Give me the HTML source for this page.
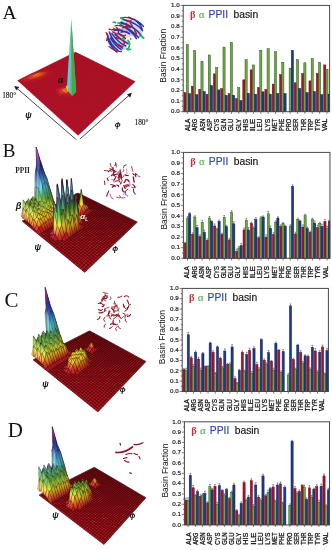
<!DOCTYPE html>
<html><head><meta charset="utf-8"><title>Figure</title>
<style>html,body{margin:0;padding:0;background:#fff}svg{display:block}</style></head>
<body>
<svg width="332" height="550" viewBox="0 0 332 550" font-family="Liberation Sans, sans-serif">
<rect width="332" height="550" fill="#ffffff"/>
<g style="will-change:transform">
<defs><linearGradient id="a1" gradientUnits="userSpaceOnUse" x1="0" y1="72.3" x2="0" y2="72.8"><stop offset="0.00" stop-color="#cf2e33"/><stop offset="1.00" stop-color="#f59f34"/></linearGradient><linearGradient id="a2" gradientUnits="userSpaceOnUse" x1="0" y1="87.2" x2="0" y2="88.1"><stop offset="0.00" stop-color="#bf1b25"/><stop offset="1.00" stop-color="#f28623"/></linearGradient><linearGradient id="a3" gradientUnits="userSpaceOnUse" x1="0" y1="91.8" x2="0" y2="90.3"><stop offset="0.00" stop-color="#b21b1e"/><stop offset="1.00" stop-color="#d2831f"/></linearGradient><linearGradient id="a4" gradientUnits="userSpaceOnUse" x1="0" y1="94.3" x2="0" y2="90.2"><stop offset="0.00" stop-color="#ce2227"/><stop offset="1.00" stop-color="#f5a128"/></linearGradient><linearGradient id="a5" gradientUnits="userSpaceOnUse" x1="0" y1="94.4" x2="0" y2="90.3"><stop offset="0.00" stop-color="#c11c22"/><stop offset="1.00" stop-color="#ea9222"/></linearGradient></defs>
<polygon points="78.1,135.5 135.4,81.6 75.5,52.0 17.5,80.4" fill="#b01228"/>
<path d="M78.1 135.5L17.5 80.4M78.1 135.5L135.4 81.6M80.4 133.4L19.6 79.4M75.7 133.3L133.2 80.5M82.6 131.3L21.6 78.4M73.4 131.2L131.1 79.5M84.7 129.3L23.6 77.4M71.1 129.1L129.0 78.5M86.8 127.3L25.6 76.4M68.9 127.1L127.0 77.4M88.9 125.3L27.6 75.5M66.7 125.1L125.0 76.4M90.9 123.5L29.5 74.5M64.5 123.2L123.0 75.5M92.9 121.6L31.4 73.6M62.5 121.3L121.0 74.5M94.8 119.8L33.2 72.7M60.4 119.4L119.1 73.6M96.7 118.0L35.1 71.8M58.4 117.6L117.2 72.6M98.5 116.3L36.9 70.9M56.5 115.9L115.4 71.7M100.3 114.6L38.6 70.0M54.6 114.1L113.5 70.8M102.1 113.0L40.4 69.2M52.7 112.4L111.7 69.9M103.8 111.3L42.1 68.3M50.9 110.8L110.0 69.0M105.5 109.7L43.8 67.5M49.1 109.1L108.2 68.2M107.1 108.2L45.5 66.7M47.4 107.6L106.5 67.3M108.8 106.7L47.1 65.9M45.7 106.0L104.8 66.5M110.3 105.2L48.7 65.1M44.0 104.5L103.1 65.6M111.9 103.7L50.3 64.3M42.3 103.0L101.5 64.8M113.4 102.3L51.9 63.6M40.7 101.5L99.8 64.0M114.9 100.9L53.5 62.8M39.1 100.1L98.2 63.2M116.4 99.5L55.0 62.0M37.6 98.7L96.7 62.5M117.8 98.1L56.5 61.3M36.1 97.3L95.1 61.7M119.2 96.8L58.0 60.6M34.6 95.9L93.6 60.9M120.6 95.5L59.4 59.9M33.1 94.6L92.1 60.2M122.0 94.2L60.9 59.2M31.7 93.3L90.6 59.5M123.3 93.0L62.3 58.5M30.3 92.0L89.1 58.7M124.6 91.7L63.7 57.8M28.9 90.8L87.7 58.0M125.9 90.5L65.1 57.1M27.5 89.5L86.2 57.3M127.2 89.3L66.4 56.4M26.2 88.3L84.8 56.6M128.4 88.2L67.8 55.8M24.9 87.1L83.5 55.9M129.6 87.0L69.1 55.1M23.6 85.9L82.1 55.3M130.8 85.9L70.4 54.5M22.3 84.8L80.7 54.6M132.0 84.8L71.7 53.9M21.1 83.7L79.4 53.9M133.1 83.7L73.0 53.2M19.9 82.6L78.1 53.3M134.3 82.6L74.3 52.6M18.7 81.5L76.8 52.6M135.4 81.6L75.5 52.0M17.5 80.4L75.5 52.0" stroke="#960e20" stroke-width="0.20" fill="none"/>
<g stroke="#8a1020" stroke-width="0.06" stroke-linejoin="round"><polygon points="48.9,70.8 50.6,70.2 49.3,69.3 47.6,70.1" fill="#b31726"/>
<polygon points="44.2,71.5 45.9,71.0 44.6,70.1 42.9,71.0" fill="#b51825"/>
<polygon points="47.2,71.6 48.9,70.8 47.6,70.1 45.9,71.0" fill="#bb222d"/>
<polygon points="50.3,71.7 52.0,71.1 50.6,70.2 48.9,70.8" fill="#b01724"/>
<polygon points="39.4,72.3 41.2,71.9 39.9,70.9 38.1,71.8" fill="#b61825"/>
<polygon points="42.4,71.9 44.2,71.5 42.9,71.0 41.2,71.9" fill="#c52730"/>
<polygon points="45.5,71.8 47.2,71.6 45.9,71.0 44.2,71.5" fill="#c71d23"/>
<polygon points="48.6,72.3 50.3,71.7 48.9,70.8 47.2,71.6" fill="#c31c24"/>
<polygon points="51.6,72.6 53.3,72.0 52.0,71.1 50.3,71.7" fill="#b01724"/>
<polygon points="37.6,73.1 39.4,72.3 38.1,71.8 36.3,72.7" fill="#c22832"/>
<polygon points="40.7,72.6 42.4,71.9 41.2,71.9 39.4,72.3" fill="#d52b2d"/>
<polygon points="43.7,72.7 45.5,71.8 44.2,71.5 42.4,71.9" fill="#dc3724"/>
<polygon points="46.8,73.1 48.6,72.3 47.2,71.6 45.5,71.8" fill="#ca2020"/>
<polygon points="49.9,73.5 51.6,72.6 50.3,71.7 48.6,72.3" fill="#bc1b23"/>
<polygon points="53.0,73.8 54.7,72.9 53.3,72.0 51.6,72.6" fill="#ac1625"/>
<polygon points="32.6,74.2 34.5,73.6 33.2,72.7 31.4,73.6" fill="#b41725"/>
<polygon points="35.7,73.5 37.6,73.1 36.3,72.7 34.5,73.6" fill="#cb2c32"/>
<polygon points="38.8,72.8 40.7,72.6 39.4,72.3 37.6,73.1" fill="url(#a1)"/>
<polygon points="42.0,73.2 43.7,72.7 42.4,71.9 40.7,72.6" fill="#e35021"/>
<polygon points="45.1,73.7 46.8,73.1 45.5,71.8 43.7,72.7" fill="#d43b1f"/>
<polygon points="48.2,74.3 49.9,73.5 48.6,72.3 46.8,73.1" fill="#c31d21"/>
<polygon points="51.3,74.7 53.0,73.8 51.6,72.6 49.9,73.5" fill="#b11724"/>
<polygon points="30.7,75.2 32.6,74.2 31.4,73.6 29.5,74.5" fill="#bc242f"/>
<polygon points="33.9,74.6 35.7,73.5 34.5,73.6 32.6,74.2" fill="#d53336"/>
<polygon points="37.0,73.9 38.8,72.8 37.6,73.1 35.7,73.5" fill="#ed6f34"/>
<polygon points="40.1,73.9 42.0,73.2 40.7,72.6 38.8,72.8" fill="#e4721f"/>
<polygon points="43.3,74.8 45.1,73.7 43.7,72.7 42.0,73.2" fill="#d8491f"/>
<polygon points="46.4,75.3 48.2,74.3 46.8,73.1 45.1,73.7" fill="#c51e20"/>
<polygon points="49.6,75.7 51.3,74.7 49.9,73.5 48.2,74.3" fill="#af1823"/>
<polygon points="28.8,76.0 30.7,75.2 29.5,74.5 27.6,75.5" fill="#bd212d"/>
<polygon points="32.0,75.3 33.9,74.6 32.6,74.2 30.7,75.2" fill="#d93533"/>
<polygon points="35.1,74.5 37.0,73.9 35.7,73.5 33.9,74.6" fill="#f17d36"/>
<polygon points="38.3,74.6 40.1,73.9 38.8,72.8 37.0,73.9" fill="#f49424"/>
<polygon points="41.5,75.3 43.3,74.8 42.0,73.2 40.1,73.9" fill="#d45a1d"/>
<polygon points="44.6,76.1 46.4,75.3 45.1,73.7 43.3,74.8" fill="#c92420"/>
<polygon points="47.8,76.6 49.6,75.7 48.2,74.3 46.4,75.3" fill="#b21823"/>
<polygon points="26.8,77.1 28.8,76.0 27.6,75.5 25.6,76.4" fill="#be2631"/>
<polygon points="30.0,76.5 32.0,75.3 30.7,75.2 28.8,76.0" fill="#db3c36"/>
<polygon points="33.2,76.2 35.1,74.5 33.9,74.6 32.0,75.3" fill="#ef7737"/>
<polygon points="36.4,76.2 38.3,74.6 37.0,73.9 35.1,74.5" fill="#f18f23"/>
<polygon points="39.6,76.4 41.5,75.3 40.1,73.9 38.3,74.6" fill="#dc6e1e"/>
<polygon points="42.8,77.2 44.6,76.1 43.3,74.8 41.5,75.3" fill="#c42a1f"/>
<polygon points="46.0,77.6 47.8,76.6 46.4,75.3 44.6,76.1" fill="#b01823"/>
<polygon points="24.8,78.1 26.8,77.1 25.6,76.4 23.6,77.4" fill="#bb222e"/>
<polygon points="28.1,77.7 30.0,76.5 28.8,76.0 26.8,77.1" fill="#d63233"/>
<polygon points="31.3,76.8 33.2,76.2 32.0,75.3 30.0,76.5" fill="#eb642a"/>
<polygon points="34.5,77.2 36.4,76.2 35.1,74.5 33.2,76.2" fill="#ef7522"/>
<polygon points="37.7,77.5 39.6,76.4 38.3,74.6 36.4,76.2" fill="#e6641f"/>
<polygon points="40.9,78.1 42.8,77.2 41.5,75.3 39.6,76.4" fill="#c72e1f"/>
<polygon points="44.1,78.6 46.0,77.6 44.6,76.1 42.8,77.2" fill="#b21923"/>
<polygon points="22.8,79.4 24.8,78.1 23.6,77.4 21.6,78.4" fill="#b6202e"/>
<polygon points="26.1,78.9 28.1,77.7 26.8,77.1 24.8,78.1" fill="#cc292f"/>
<polygon points="29.3,78.7 31.3,76.8 30.0,76.5 28.1,77.7" fill="#e45839"/>
<polygon points="32.6,78.7 34.5,77.2 33.2,76.2 31.3,76.8" fill="#df581f"/>
<polygon points="35.8,79.0 37.7,77.5 36.4,76.2 34.5,77.2" fill="#da4520"/>
<polygon points="39.0,79.6 40.9,78.1 39.6,76.4 37.7,77.5" fill="#c51e20"/>
<polygon points="42.3,79.6 44.1,78.6 42.8,77.2 40.9,78.1" fill="#b11823"/>
<polygon points="24.0,80.1 26.1,78.9 24.8,78.1 22.8,79.4" fill="#c42931"/>
<polygon points="27.3,79.8 29.3,78.7 28.1,77.7 26.1,78.9" fill="#d52829"/>
<polygon points="30.6,80.0 32.6,78.7 31.3,76.8 29.3,78.7" fill="#de3f24"/>
<polygon points="33.9,80.1 35.8,79.0 34.5,77.2 32.6,78.7" fill="#cf2a21"/>
<polygon points="37.1,80.6 39.0,79.6 37.7,77.5 35.8,79.0" fill="#b81a22"/>
<polygon points="40.4,80.6 42.3,79.6 40.9,78.1 39.0,79.6" fill="#b51825"/>
<polygon points="22.0,81.5 24.0,80.1 22.8,79.4 20.8,80.4" fill="#b92430"/>
<polygon points="25.3,81.2 27.3,79.8 26.1,78.9 24.0,80.1" fill="#cc252a"/>
<polygon points="28.6,81.2 30.6,80.0 29.3,78.7 27.3,79.8" fill="#cd1f22"/>
<polygon points="31.9,81.6 33.9,80.1 32.6,78.7 30.6,80.0" fill="#c61d22"/>
<polygon points="35.2,81.6 37.1,80.6 35.8,79.0 33.9,80.1" fill="#b21923"/>
<polygon points="23.2,82.6 25.3,81.2 24.0,80.1 22.0,81.5" fill="#bc222d"/>
<polygon points="26.5,82.6 28.6,81.2 27.3,79.8 25.3,81.2" fill="#c11c25"/>
<polygon points="29.9,82.7 31.9,81.6 30.6,80.0 28.6,81.2" fill="#b41823"/>
<polygon points="33.2,82.7 35.2,81.6 33.9,80.1 31.9,81.6" fill="#b51825"/>
<polygon points="24.5,83.7 26.5,82.6 25.3,81.2 23.2,82.6" fill="#b31726"/>
<polygon points="27.8,83.7 29.9,82.7 28.6,81.2 26.5,82.6" fill="#b41725"/>
<polygon points="66.3,87.2 68.0,86.4 66.4,85.2 64.6,86.4" fill="#b31726"/>
<polygon points="61.0,88.3 62.8,87.5 61.2,86.3 59.4,87.5" fill="#b31726"/>
<polygon points="64.5,88.0 66.3,87.2 64.6,86.4 62.8,87.5" fill="#be222d"/>
<polygon points="67.9,88.0 69.7,87.6 68.0,86.4 66.3,87.2" fill="#b61924"/>
<polygon points="59.1,89.5 61.0,88.3 59.4,87.5 57.5,88.6" fill="#bb212d"/>
<polygon points="62.6,88.7 64.5,88.0 62.8,87.5 61.0,88.3" fill="#ce282d"/>
<polygon points="66.1,88.1 67.9,88.0 66.3,87.2 64.5,88.0" fill="url(#a2)"/>
<polygon points="69.7,88.6 71.4,88.8 69.7,87.6 67.9,88.0" fill="#b91b20"/>
<polygon points="73.2,89.6 74.9,88.8 73.2,87.6 71.4,88.8" fill="#b41725"/>
<polygon points="57.2,91.0 59.1,89.5 57.5,88.6 55.6,89.8" fill="#b7212e"/>
<polygon points="60.8,90.3 62.6,88.7 61.0,88.3 59.1,89.5" fill="#d53336"/>
<polygon points="64.3,89.3 66.1,88.1 64.5,88.0 62.6,88.7" fill="#ec6931"/>
<polygon points="67.9,89.4 69.7,88.6 67.9,88.0 66.1,88.1" fill="#dc581e"/>
<polygon points="71.4,90.4 73.2,89.6 71.4,88.8 69.7,88.6" fill="#bb1c1f"/>
<polygon points="74.9,91.2 76.7,90.0 74.9,88.8 73.2,89.6" fill="#ac1623"/>
<polygon points="58.9,92.0 60.8,90.3 59.1,89.5 57.2,91.0" fill="#c72d36"/>
<polygon points="62.4,90.8 64.3,89.3 62.6,88.7 60.8,90.3" fill="#ea693b"/>
<polygon points="66.0,90.2 67.9,89.4 66.1,88.1 64.3,89.3" fill="#ee8622"/>
<polygon points="69.6,90.3 71.4,90.4 69.7,88.6 67.9,89.4" fill="#d5591d"/>
<polygon points="73.2,91.8 74.9,91.2 73.2,89.6 71.4,90.4" fill="#b51a20"/>
<polygon points="56.9,93.6 58.9,92.0 57.2,91.0 55.3,92.3" fill="#b6202f"/>
<polygon points="60.5,93.2 62.4,90.8 60.8,90.3 58.9,92.0" fill="#da3d3c"/>
<polygon points="64.2,92.8 66.0,90.2 64.3,89.3 62.4,90.8" fill="#ef7830"/>
<polygon points="67.8,92.6 69.6,90.3 67.9,89.4 66.0,90.2" fill="#ee7921"/>
<polygon points="71.4,93.0 73.2,91.8 71.4,90.4 69.6,90.3" fill="url(#a3)"/>
<polygon points="75.0,93.7 76.8,92.5 74.9,91.2 73.2,91.8" fill="#aa1622"/>
<polygon points="58.6,94.9 60.5,93.2 58.9,92.0 56.9,93.6" fill="#bc242f"/>
<polygon points="62.3,94.5 64.2,92.8 62.4,90.8 60.5,93.2" fill="#d8322d"/>
<polygon points="65.9,94.3 67.8,92.6 66.0,90.2 64.2,92.8" fill="url(#a4)"/>
<polygon points="69.5,94.4 71.4,93.0 69.6,90.3 67.8,92.6" fill="url(#a5)"/>
<polygon points="73.2,95.0 75.0,93.7 73.2,91.8 71.4,93.0" fill="#b11821"/>
<polygon points="60.3,96.2 62.3,94.5 60.5,93.2 58.6,94.9" fill="#bc232f"/>
<polygon points="64.0,96.2 65.9,94.3 64.2,92.8 62.3,94.5" fill="#c82128"/>
<polygon points="67.7,96.3 69.5,94.4 67.8,92.6 65.9,94.3" fill="#c91d23"/>
<polygon points="71.4,96.3 73.2,95.0 71.4,93.0 69.5,94.4" fill="#b31822"/>
<polygon points="62.1,97.6 64.0,96.2 62.3,94.5 60.3,96.2" fill="#b41725"/>
<polygon points="65.8,97.6 67.7,96.3 65.9,94.3 64.0,96.2" fill="#b71825"/>
<polygon points="69.5,97.6 71.4,96.3 69.5,94.4 67.7,96.3" fill="#b61825"/></g>
<polygon points="71.3,19 66.9,87.6 70.8,94.5" fill="#62c4dc"/>
<polygon points="71.3,19 70.8,94.5 72.1,95.9 76.2,91.8" fill="#52bc56"/>
<polygon points="71.3,19 72.1,95.9 76.2,91.8" fill="#46a84e"/>
<polygon points="65.6,86.6 67.4,85.2 68.2,91.8" fill="#e8d030"/>
<defs><linearGradient id="b1" gradientUnits="userSpaceOnUse" x1="0" y1="207.1" x2="0" y2="201.5"><stop offset="0.00" stop-color="#a41524"/><stop offset="0.50" stop-color="#d6481f"/><stop offset="1.00" stop-color="#e8ad25"/></linearGradient><linearGradient id="b2" gradientUnits="userSpaceOnUse" x1="0" y1="205.6" x2="0" y2="188.8"><stop offset="0.00" stop-color="#a6181d"/><stop offset="0.20" stop-color="#c6741d"/><stop offset="0.40" stop-color="#ccbd26"/><stop offset="0.60" stop-color="#95b72c"/><stop offset="0.80" stop-color="#5ca532"/><stop offset="1.00" stop-color="#3b9e56"/></linearGradient><linearGradient id="b3" gradientUnits="userSpaceOnUse" x1="0" y1="208.1" x2="0" y2="199.9"><stop offset="0.00" stop-color="#8e121f"/><stop offset="0.33" stop-color="#b6381b"/><stop offset="0.67" stop-color="#c88b1e"/><stop offset="1.00" stop-color="#cbbf27"/></linearGradient><linearGradient id="b4" gradientUnits="userSpaceOnUse" x1="0" y1="207.4" x2="0" y2="204.9"><stop offset="0.00" stop-color="#b52837"/><stop offset="0.50" stop-color="#db3c33"/><stop offset="1.00" stop-color="#f18232"/></linearGradient><linearGradient id="b5" gradientUnits="userSpaceOnUse" x1="0" y1="207.5" x2="0" y2="204.8"><stop offset="0.00" stop-color="#b11b2a"/><stop offset="0.50" stop-color="#da3226"/><stop offset="1.00" stop-color="#f07e25"/></linearGradient><linearGradient id="b6" gradientUnits="userSpaceOnUse" x1="0" y1="195.2" x2="0" y2="175.9"><stop offset="0.00" stop-color="#aad433"/><stop offset="0.20" stop-color="#61bc3b"/><stop offset="0.40" stop-color="#44ba7d"/><stop offset="0.60" stop-color="#4dc5c8"/><stop offset="0.80" stop-color="#4fbee1"/><stop offset="1.00" stop-color="#42a6de"/></linearGradient><linearGradient id="b7" gradientUnits="userSpaceOnUse" x1="0" y1="201.5" x2="0" y2="186.3"><stop offset="0.00" stop-color="#c3911f"/><stop offset="0.25" stop-color="#acb628"/><stop offset="0.50" stop-color="#6da72e"/><stop offset="0.75" stop-color="#3a9742"/><stop offset="1.00" stop-color="#399f90"/></linearGradient><linearGradient id="b8" gradientUnits="userSpaceOnUse" x1="0" y1="209.1" x2="0" y2="199.9"><stop offset="0.00" stop-color="#8b111e"/><stop offset="0.33" stop-color="#b2371a"/><stop offset="0.67" stop-color="#c4871d"/><stop offset="1.00" stop-color="#c6bb26"/></linearGradient><linearGradient id="b9" gradientUnits="userSpaceOnUse" x1="0" y1="208.4" x2="0" y2="202.8"><stop offset="0.00" stop-color="#bc3b48"/><stop offset="0.50" stop-color="#ed7743"/><stop offset="1.00" stop-color="#fad44b"/></linearGradient><linearGradient id="b10" gradientUnits="userSpaceOnUse" x1="0" y1="206.6" x2="0" y2="202.8"><stop offset="0.00" stop-color="#d32123"/><stop offset="0.50" stop-color="#f17e23"/><stop offset="1.00" stop-color="#f9cc2b"/></linearGradient><linearGradient id="b11" gradientUnits="userSpaceOnUse" x1="0" y1="187.5" x2="0" y2="170.1"><stop offset="0.00" stop-color="#61cd99"/><stop offset="0.20" stop-color="#68d6d6"/><stop offset="0.40" stop-color="#6cd5f1"/><stop offset="0.60" stop-color="#63c0ef"/><stop offset="0.80" stop-color="#579fe5"/><stop offset="1.00" stop-color="#4a79d8"/></linearGradient><linearGradient id="b12" gradientUnits="userSpaceOnUse" x1="0" y1="188.8" x2="0" y2="174.7"><stop offset="0.00" stop-color="#3a9953"/><stop offset="0.25" stop-color="#3ba196"/><stop offset="0.50" stop-color="#45a7bd"/><stop offset="0.75" stop-color="#3c94bb"/><stop offset="1.00" stop-color="#3279b4"/></linearGradient><linearGradient id="b13" gradientUnits="userSpaceOnUse" x1="0" y1="203.2" x2="0" y2="186.3"><stop offset="0.00" stop-color="#c2931e"/><stop offset="0.25" stop-color="#a9b428"/><stop offset="0.50" stop-color="#6ba52d"/><stop offset="0.75" stop-color="#3a9643"/><stop offset="1.00" stop-color="#389e8f"/></linearGradient><linearGradient id="b14" gradientUnits="userSpaceOnUse" x1="0" y1="210.1" x2="0" y2="203.2"><stop offset="0.00" stop-color="#8e121f"/><stop offset="0.50" stop-color="#b9411b"/><stop offset="1.00" stop-color="#c99820"/></linearGradient><linearGradient id="b15" gradientUnits="userSpaceOnUse" x1="0" y1="209.3" x2="0" y2="202.8"><stop offset="0.00" stop-color="#bf4451"/><stop offset="0.50" stop-color="#ee7e4c"/><stop offset="1.00" stop-color="#fad654"/></linearGradient><linearGradient id="b16" gradientUnits="userSpaceOnUse" x1="0" y1="204.9" x2="0" y2="189.5"><stop offset="0.00" stop-color="#f07721"/><stop offset="0.25" stop-color="#fae62f"/><stop offset="0.50" stop-color="#afdf37"/><stop offset="0.75" stop-color="#5fc53f"/><stop offset="1.00" stop-color="#47c590"/></linearGradient><linearGradient id="b17" gradientUnits="userSpaceOnUse" x1="0" y1="209.2" x2="0" y2="205.0"><stop offset="0.00" stop-color="#aa191e"/><stop offset="1.00" stop-color="#d07f1f"/></linearGradient><linearGradient id="b18" gradientUnits="userSpaceOnUse" x1="0" y1="179.6" x2="0" y2="164.1"><stop offset="0.00" stop-color="#74d1f1"/><stop offset="0.25" stop-color="#69bbed"/><stop offset="0.50" stop-color="#5c94e1"/><stop offset="0.75" stop-color="#5577cd"/><stop offset="1.00" stop-color="#5362b3"/></linearGradient><linearGradient id="b19" gradientUnits="userSpaceOnUse" x1="0" y1="175.9" x2="0" y2="161.6"><stop offset="0.00" stop-color="#3b94c6"/><stop offset="0.25" stop-color="#2e6eba"/><stop offset="0.50" stop-color="#254ea9"/><stop offset="0.75" stop-color="#233990"/><stop offset="1.00" stop-color="#342c83"/></linearGradient><linearGradient id="b20" gradientUnits="userSpaceOnUse" x1="0" y1="191.0" x2="0" y2="174.7"><stop offset="0.00" stop-color="#3a974c"/><stop offset="0.25" stop-color="#3a9f92"/><stop offset="0.50" stop-color="#45a6bb"/><stop offset="0.75" stop-color="#3c93b9"/><stop offset="1.00" stop-color="#3177b2"/></linearGradient><linearGradient id="b21" gradientUnits="userSpaceOnUse" x1="0" y1="209.5" x2="0" y2="191.0"><stop offset="0.00" stop-color="#a0171b"/><stop offset="0.20" stop-color="#be6e1b"/><stop offset="0.40" stop-color="#c3b325"/><stop offset="0.60" stop-color="#92b029"/><stop offset="0.80" stop-color="#5da02f"/><stop offset="1.00" stop-color="#3a974c"/></linearGradient><linearGradient id="b22" gradientUnits="userSpaceOnUse" x1="0" y1="212.4" x2="0" y2="206.8"><stop offset="0.00" stop-color="#bc3b48"/><stop offset="0.50" stop-color="#de4d45"/><stop offset="1.00" stop-color="#f28c44"/></linearGradient><linearGradient id="b23" gradientUnits="userSpaceOnUse" x1="0" y1="206.8" x2="0" y2="189.5"><stop offset="0.00" stop-color="#f39552"/><stop offset="0.25" stop-color="#fbeb5d"/><stop offset="0.50" stop-color="#c1e663"/><stop offset="0.75" stop-color="#82d269"/><stop offset="1.00" stop-color="#6fd2a8"/></linearGradient><linearGradient id="b24" gradientUnits="userSpaceOnUse" x1="0" y1="205.0" x2="0" y2="189.5"><stop offset="0.00" stop-color="#c28d1e"/><stop offset="0.25" stop-color="#b5b727"/><stop offset="0.50" stop-color="#7baa2c"/><stop offset="0.75" stop-color="#449832"/><stop offset="1.00" stop-color="#379a70"/></linearGradient><linearGradient id="b25" gradientUnits="userSpaceOnUse" x1="0" y1="181.6" x2="0" y2="164.1"><stop offset="0.00" stop-color="#79d6f2"/><stop offset="0.25" stop-color="#6fc1ef"/><stop offset="0.50" stop-color="#619ae2"/><stop offset="0.75" stop-color="#5a7bcf"/><stop offset="1.00" stop-color="#5766b5"/></linearGradient><linearGradient id="b26" gradientUnits="userSpaceOnUse" x1="0" y1="170.1" x2="0" y2="147.0"><stop offset="0.00" stop-color="#4273d6"/><stop offset="0.17" stop-color="#3f5dbb"/><stop offset="0.33" stop-color="#464aa5"/><stop offset="0.50" stop-color="#7044a5"/><stop offset="0.67" stop-color="#a648b2"/><stop offset="0.83" stop-color="#d955c4"/><stop offset="1.00" stop-color="#f166d2"/></linearGradient><linearGradient id="b27" gradientUnits="userSpaceOnUse" x1="0" y1="178.2" x2="0" y2="161.6"><stop offset="0.00" stop-color="#388db8"/><stop offset="0.25" stop-color="#2d6bad"/><stop offset="0.50" stop-color="#22499f"/><stop offset="0.75" stop-color="#213686"/><stop offset="1.00" stop-color="#302979"/></linearGradient><linearGradient id="b28" gradientUnits="userSpaceOnUse" x1="0" y1="199.5" x2="0" y2="178.2"><stop offset="0.00" stop-color="#93b029"/><stop offset="0.20" stop-color="#579e30"/><stop offset="0.40" stop-color="#39985c"/><stop offset="0.60" stop-color="#3da19d"/><stop offset="0.80" stop-color="#42a1ba"/><stop offset="1.00" stop-color="#388cb8"/></linearGradient><linearGradient id="b29" gradientUnits="userSpaceOnUse" x1="0" y1="209.5" x2="0" y2="199.5"><stop offset="0.00" stop-color="#a1181c"/><stop offset="0.33" stop-color="#bf6e1c"/><stop offset="0.67" stop-color="#c5b424"/><stop offset="1.00" stop-color="#95b22a"/></linearGradient><linearGradient id="b30" gradientUnits="userSpaceOnUse" x1="0" y1="213.5" x2="0" y2="204.7"><stop offset="0.00" stop-color="#bf4451"/><stop offset="0.50" stop-color="#ee7e4c"/><stop offset="1.00" stop-color="#fad654"/></linearGradient><linearGradient id="b31" gradientUnits="userSpaceOnUse" x1="0" y1="208.8" x2="0" y2="189.5"><stop offset="0.00" stop-color="#f07721"/><stop offset="0.25" stop-color="#fae62f"/><stop offset="0.50" stop-color="#afdf37"/><stop offset="0.75" stop-color="#5fc53f"/><stop offset="1.00" stop-color="#47c590"/></linearGradient><linearGradient id="b32" gradientUnits="userSpaceOnUse" x1="0" y1="211.4" x2="0" y2="204.7"><stop offset="0.00" stop-color="#b6201d"/><stop offset="0.50" stop-color="#cd6e1d"/><stop offset="1.00" stop-color="#d4ae24"/></linearGradient><linearGradient id="b33" gradientUnits="userSpaceOnUse" x1="0" y1="197.6" x2="0" y2="172.2"><stop offset="0.00" stop-color="#a7de65"/><stop offset="0.17" stop-color="#72cd73"/><stop offset="0.33" stop-color="#6fd4c1"/><stop offset="0.50" stop-color="#7edff0"/><stop offset="0.67" stop-color="#75cdf1"/><stop offset="0.83" stop-color="#6ab3eb"/><stop offset="1.00" stop-color="#5e8dde"/></linearGradient><linearGradient id="b34" gradientUnits="userSpaceOnUse" x1="0" y1="172.2" x2="0" y2="147.0"><stop offset="0.00" stop-color="#5e8dde"/><stop offset="0.17" stop-color="#5a76c8"/><stop offset="0.33" stop-color="#5a63b1"/><stop offset="0.50" stop-color="#805eb1"/><stop offset="0.67" stop-color="#af60ba"/><stop offset="0.83" stop-color="#dd6bcc"/><stop offset="1.00" stop-color="#f37ad8"/></linearGradient><linearGradient id="b35" gradientUnits="userSpaceOnUse" x1="0" y1="170.9" x2="0" y2="147.0"><stop offset="0.00" stop-color="#234ba0"/><stop offset="0.17" stop-color="#213889"/><stop offset="0.33" stop-color="#2b2979"/><stop offset="0.50" stop-color="#4e2579"/><stop offset="0.67" stop-color="#7d2985"/><stop offset="0.83" stop-color="#a73394"/><stop offset="1.00" stop-color="#bb42a0"/></linearGradient><linearGradient id="b36" gradientUnits="userSpaceOnUse" x1="0" y1="189.7" x2="0" y2="170.9"><stop offset="0.00" stop-color="#379b83"/><stop offset="0.20" stop-color="#42a5af"/><stop offset="0.40" stop-color="#409bba"/><stop offset="0.60" stop-color="#378ab7"/><stop offset="0.80" stop-color="#2c6aad"/><stop offset="1.00" stop-color="#234ba0"/></linearGradient><linearGradient id="b37" gradientUnits="userSpaceOnUse" x1="0" y1="208.0" x2="0" y2="189.7"><stop offset="0.00" stop-color="#bd6c1b"/><stop offset="0.25" stop-color="#bfb925"/><stop offset="0.50" stop-color="#7dab2c"/><stop offset="0.75" stop-color="#3e9533"/><stop offset="1.00" stop-color="#379b83"/></linearGradient><linearGradient id="b38" gradientUnits="userSpaceOnUse" x1="0" y1="212.1" x2="0" y2="208.4"><stop offset="0.00" stop-color="#a9181f"/><stop offset="0.50" stop-color="#c4451c"/><stop offset="1.00" stop-color="#d2861f"/></linearGradient><linearGradient id="b39" gradientUnits="userSpaceOnUse" x1="0" y1="214.6" x2="0" y2="204.7"><stop offset="0.00" stop-color="#bc3b48"/><stop offset="0.50" stop-color="#ed7743"/><stop offset="1.00" stop-color="#fad44b"/></linearGradient><linearGradient id="b40" gradientUnits="userSpaceOnUse" x1="0" y1="214.6" x2="0" y2="204.7"><stop offset="0.00" stop-color="#9e1422"/><stop offset="0.50" stop-color="#d3551d"/><stop offset="1.00" stop-color="#e1b826"/></linearGradient><linearGradient id="b41" gradientUnits="userSpaceOnUse" x1="0" y1="201.8" x2="0" y2="187.4"><stop offset="0.00" stop-color="#c5e660"/><stop offset="0.33" stop-color="#86d366"/><stop offset="0.67" stop-color="#6ed09f"/><stop offset="1.00" stop-color="#76dade"/></linearGradient><linearGradient id="b42" gradientUnits="userSpaceOnUse" x1="0" y1="187.4" x2="0" y2="167.7"><stop offset="0.00" stop-color="#78dbde"/><stop offset="0.20" stop-color="#7ad6f2"/><stop offset="0.40" stop-color="#70c4f0"/><stop offset="0.60" stop-color="#65a4e6"/><stop offset="0.80" stop-color="#5b84da"/><stop offset="1.00" stop-color="#5971c2"/></linearGradient><linearGradient id="b43" gradientUnits="userSpaceOnUse" x1="0" y1="174.3" x2="0" y2="147.0"><stop offset="0.00" stop-color="#5088dd"/><stop offset="0.17" stop-color="#4a6bc6"/><stop offset="0.33" stop-color="#4854aa"/><stop offset="0.50" stop-color="#714faa"/><stop offset="0.67" stop-color="#a551b3"/><stop offset="0.83" stop-color="#da5dc7"/><stop offset="1.00" stop-color="#f26ed4"/></linearGradient><linearGradient id="b44" gradientUnits="userSpaceOnUse" x1="0" y1="183.2" x2="0" y2="163.5"><stop offset="0.00" stop-color="#419cba"/><stop offset="0.20" stop-color="#378ab7"/><stop offset="0.40" stop-color="#2c69ac"/><stop offset="0.60" stop-color="#224a9e"/><stop offset="0.80" stop-color="#213788"/><stop offset="1.00" stop-color="#2b2979"/></linearGradient><linearGradient id="b45" gradientUnits="userSpaceOnUse" x1="0" y1="201.1" x2="0" y2="183.2"><stop offset="0.00" stop-color="#90b02a"/><stop offset="0.25" stop-color="#519c30"/><stop offset="0.50" stop-color="#389967"/><stop offset="0.75" stop-color="#3fa3a5"/><stop offset="1.00" stop-color="#419cba"/></linearGradient><linearGradient id="b46" gradientUnits="userSpaceOnUse" x1="0" y1="208.0" x2="0" y2="201.1"><stop offset="0.00" stop-color="#c36f1c"/><stop offset="0.50" stop-color="#caba26"/><stop offset="1.00" stop-color="#94b62c"/></linearGradient><linearGradient id="b47" gradientUnits="userSpaceOnUse" x1="0" y1="212.1" x2="0" y2="208.4"><stop offset="0.00" stop-color="#a6181e"/><stop offset="0.50" stop-color="#c2441c"/><stop offset="1.00" stop-color="#cf851e"/></linearGradient><linearGradient id="b48" gradientUnits="userSpaceOnUse" x1="0" y1="215.7" x2="0" y2="208.8"><stop offset="0.00" stop-color="#af1626"/><stop offset="0.50" stop-color="#d82c22"/><stop offset="1.00" stop-color="#f07721"/></linearGradient><linearGradient id="b49" gradientUnits="userSpaceOnUse" x1="0" y1="201.8" x2="0" y2="198.1"><stop offset="0.00" stop-color="#b4de36"/><stop offset="1.00" stop-color="#63c43d"/></linearGradient><linearGradient id="b50" gradientUnits="userSpaceOnUse" x1="0" y1="201.8" x2="0" y2="187.0"><stop offset="0.00" stop-color="#c6e762"/><stop offset="0.25" stop-color="#93d767"/><stop offset="0.50" stop-color="#71cf83"/><stop offset="0.75" stop-color="#6fd5c4"/><stop offset="1.00" stop-color="#7cdeec"/></linearGradient><linearGradient id="b51" gradientUnits="userSpaceOnUse" x1="0" y1="190.8" x2="0" y2="167.7"><stop offset="0.00" stop-color="#72d7ce"/><stop offset="0.20" stop-color="#7cdcf2"/><stop offset="0.40" stop-color="#72c8f0"/><stop offset="0.60" stop-color="#66aae7"/><stop offset="0.80" stop-color="#5a85db"/><stop offset="1.00" stop-color="#5870c2"/></linearGradient><linearGradient id="b52" gradientUnits="userSpaceOnUse" x1="0" y1="186.0" x2="0" y2="163.5"><stop offset="0.00" stop-color="#45a7bf"/><stop offset="0.20" stop-color="#3b93bd"/><stop offset="0.40" stop-color="#2f72b3"/><stop offset="0.60" stop-color="#244ea6"/><stop offset="0.80" stop-color="#223a8d"/><stop offset="1.00" stop-color="#2c2a7c"/></linearGradient><linearGradient id="b53" gradientUnits="userSpaceOnUse" x1="0" y1="199.3" x2="0" y2="182.4"><stop offset="0.00" stop-color="#69a42e"/><stop offset="0.25" stop-color="#3a9642"/><stop offset="0.50" stop-color="#379d8c"/><stop offset="0.75" stop-color="#45a7b9"/><stop offset="1.00" stop-color="#3d95b9"/></linearGradient><linearGradient id="b54" gradientUnits="userSpaceOnUse" x1="0" y1="207.7" x2="0" y2="199.3"><stop offset="0.00" stop-color="#c7a122"/><stop offset="0.50" stop-color="#a7b82a"/><stop offset="1.00" stop-color="#6ba82f"/></linearGradient><linearGradient id="b55" gradientUnits="userSpaceOnUse" x1="0" y1="211.6" x2="0" y2="206.9"><stop offset="0.00" stop-color="#c94e1c"/><stop offset="0.50" stop-color="#d69c21"/><stop offset="1.00" stop-color="#d8cc29"/></linearGradient><linearGradient id="b56" gradientUnits="userSpaceOnUse" x1="0" y1="215.5" x2="0" y2="212.1"><stop offset="0.00" stop-color="#971321"/><stop offset="1.00" stop-color="#ce5e1c"/></linearGradient><linearGradient id="b57" gradientUnits="userSpaceOnUse" x1="0" y1="204.4" x2="0" y2="198.1"><stop offset="0.00" stop-color="#c3e43a"/><stop offset="0.50" stop-color="#95d73e"/><stop offset="1.00" stop-color="#68c743"/></linearGradient><linearGradient id="b58" gradientUnits="userSpaceOnUse" x1="0" y1="204.3" x2="0" y2="198.1"><stop offset="0.00" stop-color="#bfe235"/><stop offset="0.50" stop-color="#91d63a"/><stop offset="1.00" stop-color="#64c63e"/></linearGradient><linearGradient id="b59" gradientUnits="userSpaceOnUse" x1="0" y1="204.4" x2="0" y2="187.0"><stop offset="0.00" stop-color="#cde85c"/><stop offset="0.25" stop-color="#95d862"/><stop offset="0.50" stop-color="#6dcc7a"/><stop offset="0.75" stop-color="#6bd3c1"/><stop offset="1.00" stop-color="#77ddec"/></linearGradient><linearGradient id="b60" gradientUnits="userSpaceOnUse" x1="0" y1="201.3" x2="0" y2="174.3"><stop offset="0.00" stop-color="#9bda59"/><stop offset="0.17" stop-color="#66c96b"/><stop offset="0.33" stop-color="#63d1bd"/><stop offset="0.50" stop-color="#72dced"/><stop offset="0.67" stop-color="#6acbf0"/><stop offset="0.83" stop-color="#5fb1eb"/><stop offset="1.00" stop-color="#5289dd"/></linearGradient><linearGradient id="b61" gradientUnits="userSpaceOnUse" x1="0" y1="203.5" x2="0" y2="182.4"><stop offset="0.00" stop-color="#8ab02b"/><stop offset="0.20" stop-color="#559e31"/><stop offset="0.40" stop-color="#399957"/><stop offset="0.60" stop-color="#3ba096"/><stop offset="0.80" stop-color="#46a9bd"/><stop offset="1.00" stop-color="#3d96bb"/></linearGradient><linearGradient id="b62" gradientUnits="userSpaceOnUse" x1="0" y1="208.6" x2="0" y2="197.1"><stop offset="0.00" stop-color="#cbb625"/><stop offset="0.33" stop-color="#a5ba2a"/><stop offset="0.67" stop-color="#72ad2f"/><stop offset="1.00" stop-color="#409d35"/></linearGradient><linearGradient id="b63" gradientUnits="userSpaceOnUse" x1="0" y1="209.9" x2="0" y2="203.8"><stop offset="0.00" stop-color="#ddb024"/><stop offset="0.50" stop-color="#d7d12b"/><stop offset="1.00" stop-color="#afc92f"/></linearGradient><linearGradient id="b64" gradientUnits="userSpaceOnUse" x1="0" y1="211.6" x2="0" y2="206.9"><stop offset="0.00" stop-color="#c34b1b"/><stop offset="0.50" stop-color="#d09720"/><stop offset="1.00" stop-color="#d1c528"/></linearGradient><linearGradient id="b65" gradientUnits="userSpaceOnUse" x1="0" y1="216.7" x2="0" y2="212.1"><stop offset="0.00" stop-color="#951320"/><stop offset="1.00" stop-color="#cb5d1b"/></linearGradient><linearGradient id="b66" gradientUnits="userSpaceOnUse" x1="0" y1="204.7" x2="0" y2="198.6"><stop offset="0.00" stop-color="#cae437"/><stop offset="0.50" stop-color="#9cda3c"/><stop offset="1.00" stop-color="#70cb40"/></linearGradient><linearGradient id="b67" gradientUnits="userSpaceOnUse" x1="0" y1="204.4" x2="0" y2="198.9"><stop offset="0.00" stop-color="#c2e336"/><stop offset="0.50" stop-color="#8ad33c"/><stop offset="1.00" stop-color="#51c041"/></linearGradient><linearGradient id="b68" gradientUnits="userSpaceOnUse" x1="0" y1="204.4" x2="0" y2="198.8"><stop offset="0.00" stop-color="#c0e235"/><stop offset="0.50" stop-color="#87d13b"/><stop offset="1.00" stop-color="#4ebe41"/></linearGradient><linearGradient id="b69" gradientUnits="userSpaceOnUse" x1="0" y1="204.4" x2="0" y2="190.8"><stop offset="0.00" stop-color="#c8e64c"/><stop offset="0.33" stop-color="#86d352"/><stop offset="0.67" stop-color="#5ec97a"/><stop offset="1.00" stop-color="#60d2c7"/></linearGradient><linearGradient id="b70" gradientUnits="userSpaceOnUse" x1="0" y1="203.5" x2="0" y2="186.0"><stop offset="0.00" stop-color="#a0cc32"/><stop offset="0.25" stop-color="#5eb639"/><stop offset="0.50" stop-color="#42b371"/><stop offset="0.75" stop-color="#47bdb8"/><stop offset="1.00" stop-color="#4fbfdb"/></linearGradient><linearGradient id="b71" gradientUnits="userSpaceOnUse" x1="0" y1="208.6" x2="0" y2="197.1"><stop offset="0.00" stop-color="#d2bc26"/><stop offset="0.33" stop-color="#aac02c"/><stop offset="0.67" stop-color="#76b231"/><stop offset="1.00" stop-color="#42a237"/></linearGradient><linearGradient id="b72" gradientUnits="userSpaceOnUse" x1="0" y1="209.9" x2="0" y2="203.8"><stop offset="0.00" stop-color="#ecbc27"/><stop offset="0.50" stop-color="#e6e02e"/><stop offset="1.00" stop-color="#bbd732"/></linearGradient><linearGradient id="b73" gradientUnits="userSpaceOnUse" x1="0" y1="204.7" x2="0" y2="199.9"><stop offset="0.00" stop-color="#c3dd32"/><stop offset="0.50" stop-color="#92d137"/><stop offset="1.00" stop-color="#61c03c"/></linearGradient><linearGradient id="b74" gradientUnits="userSpaceOnUse" x1="0" y1="204.4" x2="0" y2="198.9"><stop offset="0.00" stop-color="#c6e544"/><stop offset="0.50" stop-color="#92d649"/><stop offset="1.00" stop-color="#5dc54e"/></linearGradient><linearGradient id="b75" gradientUnits="userSpaceOnUse" x1="0" y1="204.3" x2="0" y2="198.8"><stop offset="0.00" stop-color="#bfe236"/><stop offset="0.50" stop-color="#87d23c"/><stop offset="1.00" stop-color="#4fbf42"/></linearGradient><linearGradient id="b76" gradientUnits="userSpaceOnUse" x1="0" y1="207.0" x2="0" y2="198.8"><stop offset="0.00" stop-color="#b7d02f"/><stop offset="0.50" stop-color="#7ec135"/><stop offset="1.00" stop-color="#47ae3b"/></linearGradient><linearGradient id="b77" gradientUnits="userSpaceOnUse" x1="0" y1="207.2" x2="0" y2="201.1"><stop offset="0.00" stop-color="#c2da31"/><stop offset="0.50" stop-color="#98d035"/><stop offset="1.00" stop-color="#6fc23a"/></linearGradient><linearGradient id="b78" gradientUnits="userSpaceOnUse" x1="0" y1="209.3" x2="0" y2="202.5"><stop offset="0.00" stop-color="#d5d32c"/><stop offset="0.50" stop-color="#a9ca2f"/><stop offset="1.00" stop-color="#7cbd34"/></linearGradient><linearGradient id="b79" gradientUnits="userSpaceOnUse" x1="0" y1="211.9" x2="0" y2="205.5"><stop offset="0.00" stop-color="#e5b927"/><stop offset="0.50" stop-color="#dbd92d"/><stop offset="1.00" stop-color="#aed031"/></linearGradient><linearGradient id="b80" gradientUnits="userSpaceOnUse" x1="0" y1="215.8" x2="0" y2="209.7"><stop offset="0.00" stop-color="#ca541c"/><stop offset="0.50" stop-color="#d59721"/><stop offset="1.00" stop-color="#d6c027"/></linearGradient><linearGradient id="b81" gradientUnits="userSpaceOnUse" x1="0" y1="220.1" x2="0" y2="213.9"><stop offset="0.00" stop-color="#931220"/><stop offset="0.50" stop-color="#b6271d"/><stop offset="1.00" stop-color="#ca671c"/></linearGradient><linearGradient id="b82" gradientUnits="userSpaceOnUse" x1="0" y1="219.1" x2="0" y2="215.8"><stop offset="0.00" stop-color="#af1626"/><stop offset="1.00" stop-color="#ed6720"/></linearGradient><linearGradient id="b83" gradientUnits="userSpaceOnUse" x1="0" y1="210.4" x2="0" y2="199.9"><stop offset="0.00" stop-color="#fbe550"/><stop offset="0.50" stop-color="#c1e556"/><stop offset="1.00" stop-color="#7dcf5d"/></linearGradient><linearGradient id="b84" gradientUnits="userSpaceOnUse" x1="0" y1="206.2" x2="0" y2="201.6"><stop offset="0.00" stop-color="#b5da33"/><stop offset="0.50" stop-color="#87cc38"/><stop offset="1.00" stop-color="#59bd3d"/></linearGradient><linearGradient id="b85" gradientUnits="userSpaceOnUse" x1="0" y1="206.2" x2="0" y2="198.9"><stop offset="0.00" stop-color="#c0e441"/><stop offset="0.50" stop-color="#8dd546"/><stop offset="1.00" stop-color="#5ac44b"/></linearGradient><linearGradient id="b86" gradientUnits="userSpaceOnUse" x1="0" y1="207.0" x2="0" y2="198.8"><stop offset="0.00" stop-color="#b8d230"/><stop offset="0.50" stop-color="#7fc235"/><stop offset="1.00" stop-color="#48b03c"/></linearGradient><linearGradient id="b87" gradientUnits="userSpaceOnUse" x1="0" y1="207.2" x2="0" y2="201.1"><stop offset="0.00" stop-color="#cae334"/><stop offset="0.50" stop-color="#9fd937"/><stop offset="1.00" stop-color="#74ca3c"/></linearGradient><linearGradient id="b88" gradientUnits="userSpaceOnUse" x1="0" y1="209.3" x2="0" y2="202.5"><stop offset="0.00" stop-color="#ddda2d"/><stop offset="0.50" stop-color="#afd131"/><stop offset="1.00" stop-color="#81c436"/></linearGradient><linearGradient id="b89" gradientUnits="userSpaceOnUse" x1="0" y1="211.9" x2="0" y2="205.5"><stop offset="0.00" stop-color="#e1b726"/><stop offset="0.50" stop-color="#d7d62c"/><stop offset="1.00" stop-color="#accc30"/></linearGradient><linearGradient id="b90" gradientUnits="userSpaceOnUse" x1="0" y1="215.8" x2="0" y2="209.7"><stop offset="0.00" stop-color="#d2571d"/><stop offset="0.50" stop-color="#dc9c22"/><stop offset="1.00" stop-color="#dec728"/></linearGradient><linearGradient id="b91" gradientUnits="userSpaceOnUse" x1="0" y1="221.3" x2="0" y2="213.9"><stop offset="0.00" stop-color="#961321"/><stop offset="0.50" stop-color="#ba271d"/><stop offset="1.00" stop-color="#ce6a1c"/></linearGradient><linearGradient id="b92" gradientUnits="userSpaceOnUse" x1="0" y1="219.0" x2="0" y2="205.8"><stop offset="0.00" stop-color="#b42534"/><stop offset="0.25" stop-color="#e9612f"/><stop offset="0.50" stop-color="#f9c737"/><stop offset="0.75" stop-color="#e1ea3f"/><stop offset="1.00" stop-color="#a1db46"/></linearGradient><linearGradient id="b93" gradientUnits="userSpaceOnUse" x1="0" y1="219.0" x2="0" y2="194.0"><stop offset="0.00" stop-color="#b72e3c"/><stop offset="0.17" stop-color="#f07937"/><stop offset="0.33" stop-color="#fae042"/><stop offset="0.50" stop-color="#c2e449"/><stop offset="0.67" stop-color="#7cce51"/><stop offset="0.83" stop-color="#5bc988"/><stop offset="1.00" stop-color="#61d4d2"/></linearGradient><linearGradient id="b94" gradientUnits="userSpaceOnUse" x1="0" y1="219.1" x2="0" y2="198.5"><stop offset="0.00" stop-color="#9d1422"/><stop offset="0.20" stop-color="#d55f1d"/><stop offset="0.40" stop-color="#dfc528"/><stop offset="0.60" stop-color="#a6c930"/><stop offset="0.80" stop-color="#60b437"/><stop offset="1.00" stop-color="#40af70"/></linearGradient><linearGradient id="b95" gradientUnits="userSpaceOnUse" x1="0" y1="218.4" x2="0" y2="208.2"><stop offset="0.00" stop-color="#eb744c"/><stop offset="0.50" stop-color="#fad554"/><stop offset="1.00" stop-color="#d7ea5c"/></linearGradient><linearGradient id="b96" gradientUnits="userSpaceOnUse" x1="0" y1="212.1" x2="0" y2="201.6"><stop offset="0.00" stop-color="#fbef55"/><stop offset="0.50" stop-color="#bae45b"/><stop offset="1.00" stop-color="#7acf62"/></linearGradient><linearGradient id="b97" gradientUnits="userSpaceOnUse" x1="0" y1="206.2" x2="0" y2="201.6"><stop offset="0.00" stop-color="#bce235"/><stop offset="0.50" stop-color="#8cd43a"/><stop offset="1.00" stop-color="#5cc43f"/></linearGradient><linearGradient id="b98" gradientUnits="userSpaceOnUse" x1="0" y1="208.9" x2="0" y2="201.6"><stop offset="0.00" stop-color="#bbd933"/><stop offset="0.50" stop-color="#89cb37"/><stop offset="1.00" stop-color="#58bb3c"/></linearGradient><linearGradient id="b99" gradientUnits="userSpaceOnUse" x1="0" y1="210.5" x2="0" y2="202.9"><stop offset="0.00" stop-color="#d7e130"/><stop offset="0.50" stop-color="#a1d535"/><stop offset="1.00" stop-color="#6cc43b"/></linearGradient><linearGradient id="b100" gradientUnits="userSpaceOnUse" x1="0" y1="211.6" x2="0" y2="203.8"><stop offset="0.00" stop-color="#dcd62c"/><stop offset="0.50" stop-color="#a7cc31"/><stop offset="1.00" stop-color="#73bd36"/></linearGradient><linearGradient id="b101" gradientUnits="userSpaceOnUse" x1="0" y1="212.7" x2="0" y2="206.4"><stop offset="0.00" stop-color="#e2ce2a"/><stop offset="0.50" stop-color="#c2d12e"/><stop offset="1.00" stop-color="#9ac932"/></linearGradient><linearGradient id="b102" gradientUnits="userSpaceOnUse" x1="0" y1="218.1" x2="0" y2="211.2"><stop offset="0.00" stop-color="#cd561c"/><stop offset="0.50" stop-color="#d79f22"/><stop offset="1.00" stop-color="#d9cc29"/></linearGradient><linearGradient id="b103" gradientUnits="userSpaceOnUse" x1="0" y1="222.6" x2="0" y2="215.2"><stop offset="0.00" stop-color="#90121f"/><stop offset="0.50" stop-color="#b7311b"/><stop offset="1.00" stop-color="#c97e1e"/></linearGradient><linearGradient id="b104" gradientUnits="userSpaceOnUse" x1="0" y1="220.2" x2="0" y2="205.8"><stop offset="0.00" stop-color="#c04955"/><stop offset="0.25" stop-color="#ec7b51"/><stop offset="0.50" stop-color="#fad058"/><stop offset="0.75" stop-color="#e6ee5f"/><stop offset="1.00" stop-color="#b0e164"/></linearGradient><linearGradient id="b105" gradientUnits="userSpaceOnUse" x1="0" y1="218.5" x2="0" y2="194.0"><stop offset="0.00" stop-color="#d84e52"/><stop offset="0.17" stop-color="#f6ac53"/><stop offset="0.33" stop-color="#f9f25c"/><stop offset="0.50" stop-color="#bee562"/><stop offset="0.67" stop-color="#84d267"/><stop offset="0.83" stop-color="#6fd19c"/><stop offset="1.00" stop-color="#75d9d8"/></linearGradient><linearGradient id="b106" gradientUnits="userSpaceOnUse" x1="0" y1="215.8" x2="0" y2="194.0"><stop offset="0.00" stop-color="#cb581b"/><stop offset="0.20" stop-color="#d5ba26"/><stop offset="0.40" stop-color="#a1c12d"/><stop offset="0.60" stop-color="#5ead34"/><stop offset="0.80" stop-color="#3ea768"/><stop offset="1.00" stop-color="#44b1af"/></linearGradient><linearGradient id="b107" gradientUnits="userSpaceOnUse" x1="0" y1="218.7" x2="0" y2="198.5"><stop offset="0.00" stop-color="#9e171b"/><stop offset="0.20" stop-color="#be711b"/><stop offset="0.40" stop-color="#c3ba25"/><stop offset="0.60" stop-color="#89ae2b"/><stop offset="0.80" stop-color="#509b30"/><stop offset="1.00" stop-color="#389862"/></linearGradient><linearGradient id="b108" gradientUnits="userSpaceOnUse" x1="0" y1="218.4" x2="0" y2="208.2"><stop offset="0.00" stop-color="#ea7148"/><stop offset="0.50" stop-color="#fad450"/><stop offset="1.00" stop-color="#d6ea58"/></linearGradient><linearGradient id="b109" gradientUnits="userSpaceOnUse" x1="0" y1="212.1" x2="0" y2="201.6"><stop offset="0.00" stop-color="#fbee4f"/><stop offset="0.50" stop-color="#b8e356"/><stop offset="1.00" stop-color="#75cd5d"/></linearGradient><linearGradient id="b110" gradientUnits="userSpaceOnUse" x1="0" y1="208.9" x2="0" y2="203.5"><stop offset="0.00" stop-color="#b8d532"/><stop offset="0.50" stop-color="#85c736"/><stop offset="1.00" stop-color="#53b63c"/></linearGradient><linearGradient id="b111" gradientUnits="userSpaceOnUse" x1="0" y1="210.5" x2="0" y2="202.9"><stop offset="0.00" stop-color="#d2db2f"/><stop offset="0.50" stop-color="#9dd034"/><stop offset="1.00" stop-color="#69bf39"/></linearGradient><linearGradient id="b112" gradientUnits="userSpaceOnUse" x1="0" y1="211.6" x2="0" y2="203.8"><stop offset="0.00" stop-color="#e8e22f"/><stop offset="0.50" stop-color="#b0d734"/><stop offset="1.00" stop-color="#7ac739"/></linearGradient><linearGradient id="b113" gradientUnits="userSpaceOnUse" x1="0" y1="212.7" x2="0" y2="206.4"><stop offset="0.00" stop-color="#f1db2c"/><stop offset="0.50" stop-color="#cede31"/><stop offset="1.00" stop-color="#a4d635"/></linearGradient><linearGradient id="b114" gradientUnits="userSpaceOnUse" x1="0" y1="218.1" x2="0" y2="211.2"><stop offset="0.00" stop-color="#cf571c"/><stop offset="0.50" stop-color="#d9a022"/><stop offset="1.00" stop-color="#dbce29"/></linearGradient><linearGradient id="b115" gradientUnits="userSpaceOnUse" x1="0" y1="223.8" x2="0" y2="215.2"><stop offset="0.00" stop-color="#961321"/><stop offset="0.50" stop-color="#be331c"/><stop offset="1.00" stop-color="#d1831f"/></linearGradient><linearGradient id="b116" gradientUnits="userSpaceOnUse" x1="0" y1="221.4" x2="0" y2="188.1"><stop offset="0.00" stop-color="#c04955"/><stop offset="0.17" stop-color="#f6a853"/><stop offset="0.33" stop-color="#e7ee5f"/><stop offset="0.50" stop-color="#98d966"/><stop offset="0.67" stop-color="#70d1a0"/><stop offset="0.83" stop-color="#7bdde9"/><stop offset="1.00" stop-color="#73caf1"/></linearGradient><linearGradient id="b117" gradientUnits="userSpaceOnUse" x1="0" y1="208.3" x2="0" y2="179.6"><stop offset="0.00" stop-color="#c0e558"/><stop offset="0.17" stop-color="#7bcf60"/><stop offset="0.33" stop-color="#67cfa5"/><stop offset="0.50" stop-color="#72dbe4"/><stop offset="0.67" stop-color="#6ecdf0"/><stop offset="0.83" stop-color="#62b0ea"/><stop offset="1.00" stop-color="#5385dc"/></linearGradient><linearGradient id="b118" gradientUnits="userSpaceOnUse" x1="0" y1="203.7" x2="0" y2="178.4"><stop offset="0.00" stop-color="#5fbe3b"/><stop offset="0.17" stop-color="#45bb7a"/><stop offset="0.33" stop-color="#4bc5c2"/><stop offset="0.50" stop-color="#51c4e4"/><stop offset="0.67" stop-color="#46ace1"/><stop offset="0.83" stop-color="#3886d5"/><stop offset="1.00" stop-color="#2b5cc5"/></linearGradient><linearGradient id="b119" gradientUnits="userSpaceOnUse" x1="0" y1="212.5" x2="0" y2="193.7"><stop offset="0.00" stop-color="#c8bd26"/><stop offset="0.25" stop-color="#85b02c"/><stop offset="0.50" stop-color="#429a33"/><stop offset="0.75" stop-color="#389f84"/><stop offset="1.00" stop-color="#46abbb"/></linearGradient><linearGradient id="b120" gradientUnits="userSpaceOnUse" x1="0" y1="222.8" x2="0" y2="212.5"><stop offset="0.00" stop-color="#8b111e"/><stop offset="0.33" stop-color="#b2371a"/><stop offset="0.67" stop-color="#c4871d"/><stop offset="1.00" stop-color="#c6bc26"/></linearGradient><linearGradient id="b121" gradientUnits="userSpaceOnUse" x1="0" y1="221.2" x2="0" y2="209.4"><stop offset="0.00" stop-color="#e96f4e"/><stop offset="0.33" stop-color="#f9c152"/><stop offset="0.67" stop-color="#f9f15a"/><stop offset="1.00" stop-color="#c9e75f"/></linearGradient><linearGradient id="b122" gradientUnits="userSpaceOnUse" x1="0" y1="215.6" x2="0" y2="203.5"><stop offset="0.00" stop-color="#fadf50"/><stop offset="0.33" stop-color="#d9ea57"/><stop offset="0.67" stop-color="#a6de5b"/><stop offset="1.00" stop-color="#75cc61"/></linearGradient><linearGradient id="b123" gradientUnits="userSpaceOnUse" x1="0" y1="211.3" x2="0" y2="203.5"><stop offset="0.00" stop-color="#b8d331"/><stop offset="0.50" stop-color="#85c636"/><stop offset="1.00" stop-color="#52b43b"/></linearGradient><linearGradient id="b124" gradientUnits="userSpaceOnUse" x1="0" y1="213.2" x2="0" y2="205.5"><stop offset="0.00" stop-color="#d1d42d"/><stop offset="0.50" stop-color="#9eca32"/><stop offset="1.00" stop-color="#6eba36"/></linearGradient><linearGradient id="b125" gradientUnits="userSpaceOnUse" x1="0" y1="215.4" x2="0" y2="208.2"><stop offset="0.00" stop-color="#dec528"/><stop offset="0.50" stop-color="#c0ce2e"/><stop offset="1.00" stop-color="#93c532"/></linearGradient><linearGradient id="b126" gradientUnits="userSpaceOnUse" x1="0" y1="217.2" x2="0" y2="211.3"><stop offset="0.00" stop-color="#f2ba27"/><stop offset="1.00" stop-color="#d2e232"/></linearGradient><linearGradient id="b127" gradientUnits="userSpaceOnUse" x1="0" y1="220.1" x2="0" y2="211.9"><stop offset="0.00" stop-color="#c95f1c"/><stop offset="0.50" stop-color="#d1a923"/><stop offset="1.00" stop-color="#bec42a"/></linearGradient><linearGradient id="b128" gradientUnits="userSpaceOnUse" x1="0" y1="225.1" x2="0" y2="217.2"><stop offset="0.00" stop-color="#90121f"/><stop offset="0.50" stop-color="#b8351b"/><stop offset="1.00" stop-color="#ca851e"/></linearGradient><linearGradient id="b129" gradientUnits="userSpaceOnUse" x1="0" y1="222.6" x2="0" y2="188.1"><stop offset="0.00" stop-color="#c14956"/><stop offset="0.17" stop-color="#f6a853"/><stop offset="0.33" stop-color="#e7ee5f"/><stop offset="0.50" stop-color="#98d967"/><stop offset="0.67" stop-color="#70d1a0"/><stop offset="0.83" stop-color="#7bdde9"/><stop offset="1.00" stop-color="#73caf1"/></linearGradient><linearGradient id="b130" gradientUnits="userSpaceOnUse" x1="0" y1="208.3" x2="0" y2="179.6"><stop offset="0.00" stop-color="#c2e65e"/><stop offset="0.17" stop-color="#80d165"/><stop offset="0.33" stop-color="#6cd1a8"/><stop offset="0.50" stop-color="#77dce5"/><stop offset="0.67" stop-color="#73cff1"/><stop offset="0.83" stop-color="#67b3eb"/><stop offset="1.00" stop-color="#5989dd"/></linearGradient><linearGradient id="b131" gradientUnits="userSpaceOnUse" x1="0" y1="202.4" x2="0" y2="178.4"><stop offset="0.00" stop-color="#58c349"/><stop offset="0.17" stop-color="#50c99c"/><stop offset="0.33" stop-color="#5ad3d9"/><stop offset="0.50" stop-color="#5cccef"/><stop offset="0.67" stop-color="#51b7ed"/><stop offset="0.83" stop-color="#4390e1"/><stop offset="1.00" stop-color="#3768d1"/></linearGradient><linearGradient id="b132" gradientUnits="userSpaceOnUse" x1="0" y1="207.4" x2="0" y2="178.4"><stop offset="0.00" stop-color="#63a22f"/><stop offset="0.17" stop-color="#39974d"/><stop offset="0.33" stop-color="#3ba095"/><stop offset="0.50" stop-color="#45a4bb"/><stop offset="0.67" stop-color="#3b90b9"/><stop offset="0.83" stop-color="#2f71b0"/><stop offset="1.00" stop-color="#234ca2"/></linearGradient><linearGradient id="b133" gradientUnits="userSpaceOnUse" x1="0" y1="216.8" x2="0" y2="193.7"><stop offset="0.00" stop-color="#c18c1e"/><stop offset="0.20" stop-color="#b0b627"/><stop offset="0.40" stop-color="#73a72c"/><stop offset="0.60" stop-color="#3b9537"/><stop offset="0.80" stop-color="#379c87"/><stop offset="1.00" stop-color="#45a7b7"/></linearGradient><linearGradient id="b134" gradientUnits="userSpaceOnUse" x1="0" y1="225.3" x2="0" y2="216.8"><stop offset="0.00" stop-color="#8e121f"/><stop offset="0.50" stop-color="#b93c1b"/><stop offset="1.00" stop-color="#ca921f"/></linearGradient><linearGradient id="b135" gradientUnits="userSpaceOnUse" x1="0" y1="221.2" x2="0" y2="209.4"><stop offset="0.00" stop-color="#e86846"/><stop offset="0.33" stop-color="#f9be4a"/><stop offset="0.67" stop-color="#f8f052"/><stop offset="1.00" stop-color="#c6e657"/></linearGradient><linearGradient id="b136" gradientUnits="userSpaceOnUse" x1="0" y1="215.6" x2="0" y2="203.5"><stop offset="0.00" stop-color="#fadd49"/><stop offset="0.33" stop-color="#d7e950"/><stop offset="0.67" stop-color="#a3dd55"/><stop offset="1.00" stop-color="#6fca5b"/></linearGradient><linearGradient id="b137" gradientUnits="userSpaceOnUse" x1="0" y1="213.2" x2="0" y2="205.5"><stop offset="0.00" stop-color="#d6da2f"/><stop offset="0.50" stop-color="#a2d033"/><stop offset="1.00" stop-color="#71bf38"/></linearGradient><linearGradient id="b138" gradientUnits="userSpaceOnUse" x1="0" y1="215.4" x2="0" y2="208.2"><stop offset="0.00" stop-color="#e5cc29"/><stop offset="0.50" stop-color="#c6d52f"/><stop offset="1.00" stop-color="#97cb34"/></linearGradient><linearGradient id="b139" gradientUnits="userSpaceOnUse" x1="0" y1="217.2" x2="0" y2="211.3"><stop offset="0.00" stop-color="#e8b225"/><stop offset="1.00" stop-color="#c9d830"/></linearGradient><linearGradient id="b140" gradientUnits="userSpaceOnUse" x1="0" y1="220.1" x2="0" y2="211.9"><stop offset="0.00" stop-color="#d7661e"/><stop offset="0.50" stop-color="#e0b526"/><stop offset="1.00" stop-color="#ccd22d"/></linearGradient><linearGradient id="b141" gradientUnits="userSpaceOnUse" x1="0" y1="226.4" x2="0" y2="217.2"><stop offset="0.00" stop-color="#941320"/><stop offset="0.50" stop-color="#be371c"/><stop offset="1.00" stop-color="#d0891f"/></linearGradient><linearGradient id="b142" gradientUnits="userSpaceOnUse" x1="0" y1="223.8" x2="0" y2="192.3"><stop offset="0.00" stop-color="#c14956"/><stop offset="0.17" stop-color="#f5a052"/><stop offset="0.33" stop-color="#f1ef5e"/><stop offset="0.50" stop-color="#a7de65"/><stop offset="0.67" stop-color="#71cf85"/><stop offset="0.83" stop-color="#75d9d6"/><stop offset="1.00" stop-color="#79d4f2"/></linearGradient><linearGradient id="b143" gradientUnits="userSpaceOnUse" x1="0" y1="207.3" x2="0" y2="178.6"><stop offset="0.00" stop-color="#91d758"/><stop offset="0.17" stop-color="#63ca7d"/><stop offset="0.33" stop-color="#66d4cd"/><stop offset="0.50" stop-color="#6ed6f1"/><stop offset="0.67" stop-color="#62beef"/><stop offset="0.83" stop-color="#5596e2"/><stop offset="1.00" stop-color="#4a72cd"/></linearGradient><linearGradient id="b144" gradientUnits="userSpaceOnUse" x1="0" y1="204.5" x2="0" y2="180.1"><stop offset="0.00" stop-color="#4ab43d"/><stop offset="0.20" stop-color="#42bca0"/><stop offset="0.40" stop-color="#54c9df"/><stop offset="0.60" stop-color="#48b1df"/><stop offset="0.80" stop-color="#398bd4"/><stop offset="1.00" stop-color="#2a5bc3"/></linearGradient><linearGradient id="b145" gradientUnits="userSpaceOnUse" x1="0" y1="207.4" x2="0" y2="178.4"><stop offset="0.00" stop-color="#71ba36"/><stop offset="0.17" stop-color="#42ad59"/><stop offset="0.33" stop-color="#43b7ac"/><stop offset="0.50" stop-color="#4fbdd7"/><stop offset="0.67" stop-color="#43a5d4"/><stop offset="0.83" stop-color="#3681ca"/><stop offset="1.00" stop-color="#2857ba"/></linearGradient><linearGradient id="b146" gradientUnits="userSpaceOnUse" x1="0" y1="215.7" x2="0" y2="193.7"><stop offset="0.00" stop-color="#c8b224"/><stop offset="0.20" stop-color="#9cb62b"/><stop offset="0.40" stop-color="#64a630"/><stop offset="0.60" stop-color="#3b9a49"/><stop offset="0.80" stop-color="#39a191"/><stop offset="1.00" stop-color="#47acbc"/></linearGradient><linearGradient id="b147" gradientUnits="userSpaceOnUse" x1="0" y1="225.3" x2="0" y2="215.7"><stop offset="0.00" stop-color="#8b121e"/><stop offset="0.50" stop-color="#bd5519"/><stop offset="1.00" stop-color="#c6b024"/></linearGradient><linearGradient id="b148" gradientUnits="userSpaceOnUse" x1="0" y1="224.0" x2="0" y2="213.8"><stop offset="0.00" stop-color="#e7684b"/><stop offset="0.50" stop-color="#f9cb51"/><stop offset="1.00" stop-color="#e3ec59"/></linearGradient><linearGradient id="b149" gradientUnits="userSpaceOnUse" x1="0" y1="220.1" x2="0" y2="210.4"><stop offset="0.00" stop-color="#f9bd3f"/><stop offset="0.50" stop-color="#eced49"/><stop offset="1.00" stop-color="#aee04f"/></linearGradient><linearGradient id="b150" gradientUnits="userSpaceOnUse" x1="0" y1="217.6" x2="0" y2="210.4"><stop offset="0.00" stop-color="#e4ce2a"/><stop offset="0.50" stop-color="#c3d32f"/><stop offset="1.00" stop-color="#96c933"/></linearGradient><linearGradient id="b151" gradientUnits="userSpaceOnUse" x1="0" y1="219.9" x2="0" y2="212.9"><stop offset="0.00" stop-color="#dea723"/><stop offset="0.50" stop-color="#e0d42b"/><stop offset="1.00" stop-color="#b8cd2f"/></linearGradient><linearGradient id="b152" gradientUnits="userSpaceOnUse" x1="0" y1="223.3" x2="0" y2="215.9"><stop offset="0.00" stop-color="#cd511c"/><stop offset="0.50" stop-color="#db9f21"/><stop offset="1.00" stop-color="#dccd29"/></linearGradient><linearGradient id="b153" gradientUnits="userSpaceOnUse" x1="0" y1="227.7" x2="0" y2="219.5"><stop offset="0.00" stop-color="#8f121f"/><stop offset="0.50" stop-color="#b7361b"/><stop offset="1.00" stop-color="#ca871e"/></linearGradient><linearGradient id="b154" gradientUnits="userSpaceOnUse" x1="0" y1="225.1" x2="0" y2="192.3"><stop offset="0.00" stop-color="#c14956"/><stop offset="0.17" stop-color="#f5a053"/><stop offset="0.33" stop-color="#f1ef5e"/><stop offset="0.50" stop-color="#a7de65"/><stop offset="0.67" stop-color="#71cf85"/><stop offset="0.83" stop-color="#75d9d6"/><stop offset="1.00" stop-color="#79d4f2"/></linearGradient><linearGradient id="b155" gradientUnits="userSpaceOnUse" x1="0" y1="207.3" x2="0" y2="178.6"><stop offset="0.00" stop-color="#9bda66"/><stop offset="0.17" stop-color="#70ce88"/><stop offset="0.33" stop-color="#73d8d1"/><stop offset="0.50" stop-color="#7bd9f2"/><stop offset="0.67" stop-color="#70c3f0"/><stop offset="0.83" stop-color="#639fe4"/><stop offset="1.00" stop-color="#5a7ed2"/></linearGradient><linearGradient id="b156" gradientUnits="userSpaceOnUse" x1="0" y1="206.4" x2="0" y2="178.6"><stop offset="0.00" stop-color="#47b43e"/><stop offset="0.17" stop-color="#43bd99"/><stop offset="0.33" stop-color="#51c8d3"/><stop offset="0.50" stop-color="#4dbce2"/><stop offset="0.67" stop-color="#41a3de"/><stop offset="0.83" stop-color="#3377d0"/><stop offset="1.00" stop-color="#2a55bb"/></linearGradient><linearGradient id="b157" gradientUnits="userSpaceOnUse" x1="0" y1="209.1" x2="0" y2="180.1"><stop offset="0.00" stop-color="#5da230"/><stop offset="0.17" stop-color="#3a9a57"/><stop offset="0.33" stop-color="#3ca39b"/><stop offset="0.50" stop-color="#45a6be"/><stop offset="0.67" stop-color="#3b91bc"/><stop offset="0.83" stop-color="#2f72b2"/><stop offset="1.00" stop-color="#244da5"/></linearGradient><linearGradient id="b158" gradientUnits="userSpaceOnUse" x1="0" y1="213.8" x2="0" y2="189.9"><stop offset="0.00" stop-color="#9bb62a"/><stop offset="0.20" stop-color="#5fa430"/><stop offset="0.40" stop-color="#3a9b53"/><stop offset="0.60" stop-color="#3ca399"/><stop offset="0.80" stop-color="#46a9c0"/><stop offset="1.00" stop-color="#3d95bd"/></linearGradient><linearGradient id="b159" gradientUnits="userSpaceOnUse" x1="0" y1="224.2" x2="0" y2="198.7"><stop offset="0.00" stop-color="#a61c1b"/><stop offset="0.20" stop-color="#c18f1e"/><stop offset="0.40" stop-color="#a9b428"/><stop offset="0.60" stop-color="#67a32e"/><stop offset="0.80" stop-color="#39974d"/><stop offset="1.00" stop-color="#3ba098"/></linearGradient><linearGradient id="b160" gradientUnits="userSpaceOnUse" x1="0" y1="224.0" x2="0" y2="213.8"><stop offset="0.00" stop-color="#e55d3d"/><stop offset="0.50" stop-color="#f9c744"/><stop offset="1.00" stop-color="#e0eb4d"/></linearGradient><linearGradient id="b161" gradientUnits="userSpaceOnUse" x1="0" y1="220.1" x2="0" y2="210.4"><stop offset="0.00" stop-color="#f9bb39"/><stop offset="0.50" stop-color="#eced43"/><stop offset="1.00" stop-color="#acdf49"/></linearGradient><linearGradient id="b162" gradientUnits="userSpaceOnUse" x1="0" y1="219.9" x2="0" y2="212.9"><stop offset="0.00" stop-color="#e4ab24"/><stop offset="0.50" stop-color="#e6d92c"/><stop offset="1.00" stop-color="#bdd330"/></linearGradient><linearGradient id="b163" gradientUnits="userSpaceOnUse" x1="0" y1="223.3" x2="0" y2="215.9"><stop offset="0.00" stop-color="#cf521c"/><stop offset="0.50" stop-color="#dca022"/><stop offset="1.00" stop-color="#decf2a"/></linearGradient><linearGradient id="b164" gradientUnits="userSpaceOnUse" x1="0" y1="229.0" x2="0" y2="219.5"><stop offset="0.00" stop-color="#971321"/><stop offset="0.50" stop-color="#c1391c"/><stop offset="1.00" stop-color="#d48e20"/></linearGradient><linearGradient id="b165" gradientUnits="userSpaceOnUse" x1="0" y1="226.4" x2="0" y2="214.3"><stop offset="0.00" stop-color="#c04855"/><stop offset="0.33" stop-color="#f28b50"/><stop offset="0.67" stop-color="#fae55a"/><stop offset="1.00" stop-color="#c7e761"/></linearGradient><linearGradient id="b166" gradientUnits="userSpaceOnUse" x1="0" y1="214.1" x2="0" y2="183.9"><stop offset="0.00" stop-color="#d4e95c"/><stop offset="0.17" stop-color="#90d663"/><stop offset="0.33" stop-color="#6ccf93"/><stop offset="0.50" stop-color="#73d9d9"/><stop offset="0.67" stop-color="#75d4f1"/><stop offset="0.83" stop-color="#69bbed"/><stop offset="1.00" stop-color="#5b91e0"/></linearGradient><linearGradient id="b167" gradientUnits="userSpaceOnUse" x1="0" y1="206.4" x2="0" y2="178.6"><stop offset="0.00" stop-color="#49b83f"/><stop offset="0.17" stop-color="#45c19c"/><stop offset="0.33" stop-color="#53cdd8"/><stop offset="0.50" stop-color="#4fc0e7"/><stop offset="0.67" stop-color="#43a7e3"/><stop offset="0.83" stop-color="#347ad5"/><stop offset="1.00" stop-color="#2b57bf"/></linearGradient><linearGradient id="b168" gradientUnits="userSpaceOnUse" x1="0" y1="209.1" x2="0" y2="180.1"><stop offset="0.00" stop-color="#6ab937"/><stop offset="0.17" stop-color="#42b063"/><stop offset="0.33" stop-color="#45bab1"/><stop offset="0.50" stop-color="#4fbed9"/><stop offset="0.67" stop-color="#43a6d6"/><stop offset="0.83" stop-color="#3682cb"/><stop offset="1.00" stop-color="#2958bc"/></linearGradient><linearGradient id="b169" gradientUnits="userSpaceOnUse" x1="0" y1="213.8" x2="0" y2="189.9"><stop offset="0.00" stop-color="#a6c22d"/><stop offset="0.20" stop-color="#66af33"/><stop offset="0.40" stop-color="#3ea659"/><stop offset="0.60" stop-color="#40aea3"/><stop offset="0.80" stop-color="#4bb4cd"/><stop offset="1.00" stop-color="#419fca"/></linearGradient><linearGradient id="b170" gradientUnits="userSpaceOnUse" x1="0" y1="223.6" x2="0" y2="198.7"><stop offset="0.00" stop-color="#b94819"/><stop offset="0.20" stop-color="#c6a622"/><stop offset="0.40" stop-color="#9db52a"/><stop offset="0.60" stop-color="#5fa330"/><stop offset="0.80" stop-color="#3a9a55"/><stop offset="1.00" stop-color="#3ca39b"/></linearGradient><linearGradient id="b171" gradientUnits="userSpaceOnUse" x1="0" y1="227.7" x2="0" y2="219.8"><stop offset="0.00" stop-color="#dd4842"/><stop offset="0.50" stop-color="#f49742"/><stop offset="1.00" stop-color="#fad84a"/></linearGradient><linearGradient id="b172" gradientUnits="userSpaceOnUse" x1="0" y1="225.1" x2="0" y2="218.5"><stop offset="0.00" stop-color="#f0792c"/><stop offset="0.50" stop-color="#f8bd31"/><stop offset="1.00" stop-color="#fae939"/></linearGradient><linearGradient id="b173" gradientUnits="userSpaceOnUse" x1="0" y1="225.9" x2="0" y2="218.5"><stop offset="0.00" stop-color="#c84f1b"/><stop offset="0.50" stop-color="#d49921"/><stop offset="1.00" stop-color="#d6c728"/></linearGradient><linearGradient id="b174" gradientUnits="userSpaceOnUse" x1="0" y1="230.4" x2="0" y2="223.2"><stop offset="0.00" stop-color="#921220"/><stop offset="0.50" stop-color="#b72a1c"/><stop offset="1.00" stop-color="#ca6e1c"/></linearGradient><linearGradient id="b175" gradientUnits="userSpaceOnUse" x1="0" y1="227.7" x2="0" y2="214.3"><stop offset="0.00" stop-color="#c04955"/><stop offset="0.33" stop-color="#f28b50"/><stop offset="0.67" stop-color="#fae55b"/><stop offset="1.00" stop-color="#c7e862"/></linearGradient><linearGradient id="b176" gradientUnits="userSpaceOnUse" x1="0" y1="214.1" x2="0" y2="183.9"><stop offset="0.00" stop-color="#d5ea61"/><stop offset="0.17" stop-color="#93d768"/><stop offset="0.33" stop-color="#70d096"/><stop offset="0.50" stop-color="#76dada"/><stop offset="0.67" stop-color="#79d5f2"/><stop offset="0.83" stop-color="#6dbdee"/><stop offset="1.00" stop-color="#6094e1"/></linearGradient><linearGradient id="b177" gradientUnits="userSpaceOnUse" x1="0" y1="205.6" x2="0" y2="180.6"><stop offset="0.00" stop-color="#5fc766"/><stop offset="0.17" stop-color="#5bceb7"/><stop offset="0.33" stop-color="#6ad9e8"/><stop offset="0.50" stop-color="#65cbf0"/><stop offset="0.67" stop-color="#5ab5ec"/><stop offset="0.83" stop-color="#4d8edf"/><stop offset="1.00" stop-color="#446ecd"/></linearGradient><linearGradient id="b178" gradientUnits="userSpaceOnUse" x1="0" y1="211.7" x2="0" y2="180.6"><stop offset="0.00" stop-color="#5fa22f"/><stop offset="0.17" stop-color="#399856"/><stop offset="0.33" stop-color="#3ca19b"/><stop offset="0.50" stop-color="#44a2bc"/><stop offset="0.67" stop-color="#398db9"/><stop offset="0.83" stop-color="#2c69ae"/><stop offset="1.00" stop-color="#23479c"/></linearGradient><linearGradient id="b179" gradientUnits="userSpaceOnUse" x1="0" y1="216.0" x2="0" y2="193.9"><stop offset="0.00" stop-color="#9fbe2c"/><stop offset="0.20" stop-color="#67ad32"/><stop offset="0.40" stop-color="#3ea14b"/><stop offset="0.60" stop-color="#3ca894"/><stop offset="0.80" stop-color="#49b2c0"/><stop offset="1.00" stop-color="#44a5c8"/></linearGradient><linearGradient id="b180" gradientUnits="userSpaceOnUse" x1="0" y1="222.2" x2="0" y2="199.5"><stop offset="0.00" stop-color="#c39920"/><stop offset="0.20" stop-color="#abb628"/><stop offset="0.40" stop-color="#75a82d"/><stop offset="0.60" stop-color="#3f9632"/><stop offset="0.80" stop-color="#389a73"/><stop offset="1.00" stop-color="#3fa3a6"/></linearGradient><linearGradient id="b181" gradientUnits="userSpaceOnUse" x1="0" y1="230.6" x2="0" y2="214.9"><stop offset="0.00" stop-color="#89111e"/><stop offset="0.33" stop-color="#ba5119"/><stop offset="0.67" stop-color="#c3aa22"/><stop offset="1.00" stop-color="#96b12a"/></linearGradient><linearGradient id="b182" gradientUnits="userSpaceOnUse" x1="0" y1="227.7" x2="0" y2="219.8"><stop offset="0.00" stop-color="#db3d36"/><stop offset="0.50" stop-color="#f39036"/><stop offset="1.00" stop-color="#fad53e"/></linearGradient><linearGradient id="b183" gradientUnits="userSpaceOnUse" x1="0" y1="227.5" x2="0" y2="218.5"><stop offset="0.00" stop-color="#e05420"/><stop offset="0.50" stop-color="#f0aa25"/><stop offset="1.00" stop-color="#f3e12e"/></linearGradient><linearGradient id="b184" gradientUnits="userSpaceOnUse" x1="0" y1="231.8" x2="0" y2="223.2"><stop offset="0.00" stop-color="#971321"/><stop offset="0.50" stop-color="#bd2b1c"/><stop offset="1.00" stop-color="#d1721d"/></linearGradient><linearGradient id="b185" gradientUnits="userSpaceOnUse" x1="0" y1="228.7" x2="0" y2="201.4"><stop offset="0.00" stop-color="#d74f53"/><stop offset="0.17" stop-color="#f6ae54"/><stop offset="0.33" stop-color="#f7f15d"/><stop offset="0.50" stop-color="#bae463"/><stop offset="0.67" stop-color="#80d169"/><stop offset="0.83" stop-color="#70d2a6"/><stop offset="1.00" stop-color="#78dbde"/></linearGradient><linearGradient id="b186" gradientUnits="userSpaceOnUse" x1="0" y1="210.1" x2="0" y2="184.8"><stop offset="0.00" stop-color="#78ce59"/><stop offset="0.20" stop-color="#60cd9e"/><stop offset="0.40" stop-color="#6bd9e2"/><stop offset="0.60" stop-color="#68cbf0"/><stop offset="0.80" stop-color="#5baee9"/><stop offset="1.00" stop-color="#4c80db"/></linearGradient><linearGradient id="b187" gradientUnits="userSpaceOnUse" x1="0" y1="211.7" x2="0" y2="180.6"><stop offset="0.00" stop-color="#65ac32"/><stop offset="0.17" stop-color="#3da25b"/><stop offset="0.33" stop-color="#40aba6"/><stop offset="0.50" stop-color="#48acc8"/><stop offset="0.67" stop-color="#3c97c5"/><stop offset="0.83" stop-color="#2f70b9"/><stop offset="1.00" stop-color="#254ca6"/></linearGradient><linearGradient id="b188" gradientUnits="userSpaceOnUse" x1="0" y1="216.0" x2="0" y2="193.9"><stop offset="0.00" stop-color="#a4c32e"/><stop offset="0.20" stop-color="#6ab234"/><stop offset="0.40" stop-color="#40a64e"/><stop offset="0.60" stop-color="#3dad99"/><stop offset="0.80" stop-color="#4bb7c6"/><stop offset="1.00" stop-color="#46aace"/></linearGradient><linearGradient id="b189" gradientUnits="userSpaceOnUse" x1="0" y1="222.2" x2="0" y2="199.5"><stop offset="0.00" stop-color="#cfa322"/><stop offset="0.20" stop-color="#b6c12a"/><stop offset="0.40" stop-color="#7cb32f"/><stop offset="0.60" stop-color="#43a035"/><stop offset="0.80" stop-color="#3ba47a"/><stop offset="1.00" stop-color="#43adb0"/></linearGradient><linearGradient id="b190" gradientUnits="userSpaceOnUse" x1="0" y1="232.0" x2="0" y2="214.9"><stop offset="0.00" stop-color="#8d121f"/><stop offset="0.33" stop-color="#c0541a"/><stop offset="0.67" stop-color="#c8af23"/><stop offset="1.00" stop-color="#9ab62b"/></linearGradient><linearGradient id="b191" gradientUnits="userSpaceOnUse" x1="0" y1="231.9" x2="0" y2="201.4"><stop offset="0.00" stop-color="#c14956"/><stop offset="0.17" stop-color="#f38d51"/><stop offset="0.33" stop-color="#fae65b"/><stop offset="0.50" stop-color="#c6e762"/><stop offset="0.67" stop-color="#88d368"/><stop offset="0.83" stop-color="#70d1a1"/><stop offset="1.00" stop-color="#78dbde"/></linearGradient><linearGradient id="b192" gradientUnits="userSpaceOnUse" x1="0" y1="212.6" x2="0" y2="184.8"><stop offset="0.00" stop-color="#85d268"/><stop offset="0.20" stop-color="#6fd2a7"/><stop offset="0.40" stop-color="#79dde4"/><stop offset="0.60" stop-color="#76d0f2"/><stop offset="0.80" stop-color="#6ab6eb"/><stop offset="1.00" stop-color="#5d8cde"/></linearGradient><linearGradient id="b193" gradientUnits="userSpaceOnUse" x1="0" y1="215.5" x2="0" y2="184.8"><stop offset="0.00" stop-color="#72a92e"/><stop offset="0.17" stop-color="#3c983c"/><stop offset="0.33" stop-color="#389f8c"/><stop offset="0.50" stop-color="#47aabb"/><stop offset="0.67" stop-color="#3e98bc"/><stop offset="0.83" stop-color="#337cb6"/><stop offset="1.00" stop-color="#2656a9"/></linearGradient><linearGradient id="b194" gradientUnits="userSpaceOnUse" x1="0" y1="219.7" x2="0" y2="195.3"><stop offset="0.00" stop-color="#acbe2b"/><stop offset="0.20" stop-color="#6fad31"/><stop offset="0.40" stop-color="#3d9d43"/><stop offset="0.60" stop-color="#3aa591"/><stop offset="0.80" stop-color="#49b0bf"/><stop offset="1.00" stop-color="#42a0c3"/></linearGradient><linearGradient id="b195" gradientUnits="userSpaceOnUse" x1="0" y1="224.7" x2="0" y2="202.0"><stop offset="0.00" stop-color="#c49b20"/><stop offset="0.20" stop-color="#adb628"/><stop offset="0.40" stop-color="#77aa2d"/><stop offset="0.60" stop-color="#429832"/><stop offset="0.80" stop-color="#399b70"/><stop offset="1.00" stop-color="#3fa4a4"/></linearGradient><linearGradient id="b196" gradientUnits="userSpaceOnUse" x1="0" y1="233.4" x2="0" y2="214.8"><stop offset="0.00" stop-color="#89111e"/><stop offset="0.25" stop-color="#b54419"/><stop offset="0.50" stop-color="#c39a20"/><stop offset="0.75" stop-color="#abb528"/><stop offset="1.00" stop-color="#76a82d"/></linearGradient><linearGradient id="b197" gradientUnits="userSpaceOnUse" x1="0" y1="234.8" x2="0" y2="228.4"><stop offset="0.00" stop-color="#bb3845"/><stop offset="1.00" stop-color="#f07b40"/></linearGradient><linearGradient id="b198" gradientUnits="userSpaceOnUse" x1="0" y1="228.4" x2="0" y2="201.4"><stop offset="0.00" stop-color="#f18650"/><stop offset="0.20" stop-color="#fae45b"/><stop offset="0.40" stop-color="#c7e862"/><stop offset="0.60" stop-color="#89d468"/><stop offset="0.80" stop-color="#70d1a0"/><stop offset="1.00" stop-color="#78dbde"/></linearGradient><linearGradient id="b199" gradientUnits="userSpaceOnUse" x1="0" y1="215.5" x2="0" y2="184.8"><stop offset="0.00" stop-color="#81c134"/><stop offset="0.17" stop-color="#44ad45"/><stop offset="0.33" stop-color="#3fb59f"/><stop offset="0.50" stop-color="#50c2d5"/><stop offset="0.67" stop-color="#47add6"/><stop offset="0.83" stop-color="#3a8dcf"/><stop offset="1.00" stop-color="#2b62c1"/></linearGradient><linearGradient id="b200" gradientUnits="userSpaceOnUse" x1="0" y1="219.7" x2="0" y2="195.3"><stop offset="0.00" stop-color="#b6c82d"/><stop offset="0.20" stop-color="#76b733"/><stop offset="0.40" stop-color="#40a647"/><stop offset="0.60" stop-color="#3dae99"/><stop offset="0.80" stop-color="#4db9ca"/><stop offset="1.00" stop-color="#46a9ce"/></linearGradient><linearGradient id="b201" gradientUnits="userSpaceOnUse" x1="0" y1="224.7" x2="0" y2="202.0"><stop offset="0.00" stop-color="#d4a823"/><stop offset="0.20" stop-color="#bcc62b"/><stop offset="0.40" stop-color="#81b831"/><stop offset="0.60" stop-color="#48a537"/><stop offset="0.80" stop-color="#3da879"/><stop offset="1.00" stop-color="#44b1b1"/></linearGradient><linearGradient id="b202" gradientUnits="userSpaceOnUse" x1="0" y1="234.9" x2="0" y2="214.8"><stop offset="0.00" stop-color="#8d121f"/><stop offset="0.25" stop-color="#bb461a"/><stop offset="0.50" stop-color="#c89e21"/><stop offset="0.75" stop-color="#b0bb29"/><stop offset="1.00" stop-color="#79ad2e"/></linearGradient><linearGradient id="b203" gradientUnits="userSpaceOnUse" x1="0" y1="234.8" x2="0" y2="207.5"><stop offset="0.00" stop-color="#c14956"/><stop offset="0.17" stop-color="#ee8051"/><stop offset="0.33" stop-color="#fad659"/><stop offset="0.50" stop-color="#ddeb60"/><stop offset="0.67" stop-color="#a6dd65"/><stop offset="0.83" stop-color="#73cc6f"/><stop offset="1.00" stop-color="#6fd3b6"/></linearGradient><linearGradient id="b204" gradientUnits="userSpaceOnUse" x1="0" y1="226.2" x2="0" y2="197.6"><stop offset="0.00" stop-color="#fae157"/><stop offset="0.17" stop-color="#d2e95e"/><stop offset="0.33" stop-color="#99da63"/><stop offset="0.50" stop-color="#6fcd79"/><stop offset="0.67" stop-color="#6cd4c2"/><stop offset="0.83" stop-color="#79deed"/><stop offset="1.00" stop-color="#73cff1"/></linearGradient><linearGradient id="b205" gradientUnits="userSpaceOnUse" x1="0" y1="225.4" x2="0" y2="197.6"><stop offset="0.00" stop-color="#c6b725"/><stop offset="0.20" stop-color="#89b02b"/><stop offset="0.40" stop-color="#499b32"/><stop offset="0.60" stop-color="#389c77"/><stop offset="0.80" stop-color="#43a7b0"/><stop offset="1.00" stop-color="#3f9abc"/></linearGradient><linearGradient id="b206" gradientUnits="userSpaceOnUse" x1="0" y1="231.8" x2="0" y2="209.3"><stop offset="0.00" stop-color="#b94819"/><stop offset="0.25" stop-color="#c6aa23"/><stop offset="0.50" stop-color="#97b42a"/><stop offset="0.75" stop-color="#57a030"/><stop offset="1.00" stop-color="#399c65"/></linearGradient><linearGradient id="b207" gradientUnits="userSpaceOnUse" x1="0" y1="236.4" x2="0" y2="219.8"><stop offset="0.00" stop-color="#89111e"/><stop offset="0.33" stop-color="#ba5219"/><stop offset="0.67" stop-color="#c3ac23"/><stop offset="1.00" stop-color="#94b12a"/></linearGradient><linearGradient id="b208" gradientUnits="userSpaceOnUse" x1="0" y1="234.4" x2="0" y2="207.5"><stop offset="0.00" stop-color="#d6494d"/><stop offset="0.20" stop-color="#f7b14e"/><stop offset="0.40" stop-color="#f0ef58"/><stop offset="0.60" stop-color="#b0e15e"/><stop offset="0.80" stop-color="#70cb65"/><stop offset="1.00" stop-color="#6ad2b4"/></linearGradient><linearGradient id="b209" gradientUnits="userSpaceOnUse" x1="0" y1="230.6" x2="0" y2="197.6"><stop offset="0.00" stop-color="#f6a42c"/><stop offset="0.17" stop-color="#edec37"/><stop offset="0.33" stop-color="#a0db3e"/><stop offset="0.50" stop-color="#55c246"/><stop offset="0.67" stop-color="#4dc9a3"/><stop offset="0.83" stop-color="#5bd5e3"/><stop offset="1.00" stop-color="#55c5ef"/></linearGradient><linearGradient id="b210" gradientUnits="userSpaceOnUse" x1="0" y1="235.4" x2="0" y2="209.3"><stop offset="0.00" stop-color="#b11d1c"/><stop offset="0.20" stop-color="#cc861e"/><stop offset="0.40" stop-color="#cac529"/><stop offset="0.60" stop-color="#8db82e"/><stop offset="0.80" stop-color="#52a433"/><stop offset="1.00" stop-color="#3ca369"/></linearGradient><linearGradient id="b211" gradientUnits="userSpaceOnUse" x1="0" y1="237.9" x2="0" y2="219.8"><stop offset="0.00" stop-color="#971321"/><stop offset="0.33" stop-color="#cd5b1c"/><stop offset="0.67" stop-color="#d7bd27"/><stop offset="1.00" stop-color="#a3c32e"/></linearGradient><linearGradient id="b212" gradientUnits="userSpaceOnUse" x1="0" y1="239.4" x2="0" y2="226.2"><stop offset="0.00" stop-color="#b8313f"/><stop offset="0.50" stop-color="#f0793a"/><stop offset="1.00" stop-color="#fadd44"/></linearGradient><linearGradient id="b213" gradientUnits="userSpaceOnUse" x1="0" y1="239.5" x2="0" y2="225.4"><stop offset="0.00" stop-color="#971321"/><stop offset="0.50" stop-color="#ce641c"/><stop offset="1.00" stop-color="#d7c828"/></linearGradient><linearGradient id="b214" gradientUnits="userSpaceOnUse" x1="0" y1="241.0" x2="0" y2="230.6"><stop offset="0.00" stop-color="#af1626"/><stop offset="0.50" stop-color="#e04121"/><stop offset="1.00" stop-color="#f6a125"/></linearGradient></defs>
<polygon points="84.7,272.4 137.4,222.0 78.0,193.0 22.0,221.0" fill="#ae121d"/>
<path d="M84.7 272.4L22.0 221.0M84.7 272.4L137.4 222.0M86.7 270.4L24.0 220.0M82.3 270.5L135.3 221.0M88.7 268.5L26.0 219.0M80.0 268.6L133.3 220.0M90.7 266.7L27.9 218.0M77.7 266.7L131.3 219.0M92.6 264.8L29.8 217.1M75.5 264.9L129.3 218.0M94.5 263.1L31.7 216.2M73.3 263.1L127.3 217.1M96.3 261.3L33.5 215.2M71.2 261.3L125.4 216.1M98.1 259.6L35.4 214.3M69.1 259.6L123.5 215.2M99.8 257.9L37.1 213.4M67.0 257.9L121.6 214.3M101.5 256.3L38.9 212.5M65.0 256.2L119.8 213.4M103.2 254.7L40.6 211.7M63.0 254.6L117.9 212.5M104.9 253.1L42.4 210.8M61.1 253.0L116.1 211.6M106.5 251.6L44.0 210.0M59.1 251.5L114.4 210.8M108.1 250.0L45.7 209.2M57.3 249.9L112.6 209.9M109.6 248.6L47.3 208.3M55.4 248.4L110.9 209.1M111.1 247.1L48.9 207.5M53.6 246.9L109.2 208.2M112.6 245.7L50.5 206.7M51.8 245.5L107.5 207.4M114.1 244.3L52.1 206.0M50.1 244.0L105.8 206.6M115.5 242.9L53.6 205.2M48.4 242.6L104.2 205.8M116.9 241.6L55.1 204.4M46.7 241.3L102.6 205.0M118.3 240.2L56.6 203.7M45.1 239.9L101.0 204.2M119.7 238.9L58.1 202.9M43.4 238.6L99.4 203.5M121.0 237.7L59.6 202.2M41.8 237.3L97.9 202.7M122.3 236.4L61.0 201.5M40.3 236.0L96.3 201.9M123.6 235.2L62.4 200.8M38.7 234.7L94.8 201.2M124.9 234.0L63.8 200.1M37.2 233.5L93.3 200.5M126.1 232.8L65.2 199.4M35.7 232.2L91.8 199.8M127.3 231.6L66.6 198.7M34.2 231.0L90.4 199.0M128.5 230.5L67.9 198.1M32.8 229.8L88.9 198.3M129.7 229.4L69.2 197.4M31.4 228.7L87.5 197.6M130.9 228.3L70.5 196.7M30.0 227.5L86.1 197.0M132.0 227.2L71.8 196.1M28.6 226.4L84.7 196.3M133.1 226.1L73.1 195.5M27.2 225.3L83.3 195.6M134.2 225.1L74.3 194.8M25.9 224.2L82.0 194.9M135.3 224.0L75.6 194.2M24.6 223.1L80.6 194.3M136.4 223.0L76.8 193.6M23.3 222.0L79.3 193.6M137.4 222.0L78.0 193.0M22.0 221.0L78.0 193.0" stroke="#1a0204" stroke-width="0.50" fill="none"/>
<g stroke="#2a0808" stroke-width="0.26" stroke-linejoin="round"><polygon points="50.7,201.5 53.4,207.1 51.8,206.1 49.7,205.6" fill="url(#b1)"/>
<polygon points="82.8,206.6 84.4,207.5 82.5,206.5 80.9,207.4" fill="#b81825"/>
<polygon points="86.2,206.1 87.8,207.5 85.9,206.5 84.4,207.5" fill="#ba1925"/>
<polygon points="47.0,188.8 50.7,201.5 49.7,205.6 46.3,195.2" fill="url(#b2)"/>
<polygon points="52.1,199.9 55.0,208.1 53.4,207.1 50.7,201.5" fill="url(#b3)"/>
<polygon points="81.1,204.9 82.8,206.6 80.9,207.4 79.3,208.4" fill="url(#b4)"/>
<polygon points="84.7,204.8 86.2,206.1 84.4,207.5 82.8,206.6" fill="url(#b5)"/>
<polygon points="88.1,206.7 89.6,208.5 87.8,207.5 86.2,206.1" fill="#b51a20"/>
<polygon points="43.1,175.9 47.0,188.8 46.3,195.2 43.1,187.5" fill="url(#b6)"/>
<polygon points="48.4,186.3 52.1,199.9 50.7,201.5 47.0,188.8" fill="url(#b7)"/>
<polygon points="54.0,203.2 56.6,209.1 55.0,208.1 52.1,199.9" fill="url(#b8)"/>
<polygon points="79.4,202.8 81.1,204.9 79.3,208.4 77.6,209.3" fill="url(#b9)"/>
<polygon points="83.0,202.8 84.7,204.8 82.8,206.6 81.1,204.9" fill="url(#b10)"/>
<polygon points="86.6,205.0 88.1,206.7 86.2,206.1 84.7,204.8" fill="#d7571d"/>
<polygon points="90.0,209.2 91.6,209.5 89.6,208.5 88.1,206.7" fill="#ae1820"/>
<polygon points="40.0,170.1 43.1,175.9 43.1,187.5 39.7,179.6" fill="url(#b11)"/>
<polygon points="44.7,174.7 48.4,186.3 47.0,188.8 43.1,175.9" fill="url(#b12)"/>
<polygon points="50.6,191.0 54.0,203.2 52.1,199.9 48.4,186.3" fill="url(#b13)"/>
<polygon points="56.2,209.5 58.3,210.1 56.6,209.1 54.0,203.2" fill="url(#b14)"/>
<polygon points="77.7,206.8 79.4,202.8 77.6,209.3 75.9,210.3" fill="url(#b15)"/>
<polygon points="81.3,189.5 83.0,202.8 81.1,204.9 79.4,202.8" fill="url(#b16)"/>
<polygon points="84.9,205.0 86.6,205.0 84.7,204.8 83.0,202.8" fill="#e19922"/>
<polygon points="88.5,208.4 90.0,209.2 88.1,206.7 86.6,205.0" fill="url(#b17)"/>
<polygon points="91.9,211.5 93.5,210.5 91.6,209.5 90.0,209.2" fill="#ab1723"/>
<polygon points="36.7,164.1 40.0,170.1 39.7,179.6 37.0,177.8" fill="url(#b18)"/>
<polygon points="40.7,161.6 44.7,174.7 43.1,175.9 40.0,170.1" fill="url(#b19)"/>
<polygon points="46.9,178.2 50.6,191.0 48.4,186.3 44.7,174.7" fill="url(#b20)"/>
<polygon points="53.2,199.5 56.2,209.5 54.0,203.2 50.6,191.0" fill="url(#b21)"/>
<polygon points="57.9,210.4 60.0,211.2 58.3,210.1 56.2,209.5" fill="#b21822"/>
<polygon points="76.1,212.4 77.7,206.8 75.9,210.3 74.2,211.3" fill="url(#b22)"/>
<polygon points="79.6,204.7 81.3,189.5 79.4,202.8 77.7,206.8" fill="url(#b23)"/>
<polygon points="83.3,204.7 84.9,205.0 83.0,202.8 81.3,189.5" fill="url(#b24)"/>
<polygon points="86.8,209.0 88.5,208.4 86.6,205.0 84.9,205.0" fill="#d2681d"/>
<polygon points="90.3,212.6 91.9,211.5 90.0,209.2 88.5,208.4" fill="#ad1920"/>
<polygon points="35.4,172.2 36.7,164.1 37.0,177.8 35.2,181.6" fill="url(#b25)"/>
<polygon points="36.2,147.0 40.7,161.6 40.0,170.1 36.7,164.1" fill="url(#b26)"/>
<polygon points="43.7,170.9 46.9,178.2 44.7,174.7 40.7,161.6" fill="url(#b27)"/>
<polygon points="49.9,189.7 53.2,199.5 50.6,191.0 46.9,178.2" fill="url(#b28)"/>
<polygon points="55.6,208.0 57.9,210.4 56.2,209.5 53.2,199.5" fill="url(#b29)"/>
<polygon points="59.7,212.1 61.7,212.3 60.0,211.2 57.9,210.4" fill="#af1821"/>
<polygon points="77.9,213.5 79.6,204.7 77.7,206.8 76.1,212.4" fill="url(#b30)"/>
<polygon points="81.5,208.8 83.3,204.7 81.3,189.5 79.6,204.7" fill="url(#b31)"/>
<polygon points="85.2,211.4 86.8,209.0 84.9,205.0 83.3,204.7" fill="url(#b32)"/>
<polygon points="88.7,213.6 90.3,212.6 88.5,208.4 86.8,209.0" fill="#b31a1e"/>
<polygon points="35.2,187.4 35.4,172.2 35.2,181.6 35.3,197.6" fill="url(#b33)"/>
<polygon points="36.5,167.7 36.2,147.0 36.7,164.1 35.4,172.2" fill="url(#b34)"/>
<polygon points="40.3,163.5 43.7,170.9 40.7,161.6 36.2,147.0" fill="url(#b35)"/>
<polygon points="46.9,183.2 49.9,189.7 46.9,178.2 43.7,170.9" fill="url(#b36)"/>
<polygon points="52.8,201.1 55.6,208.0 53.2,199.5 49.9,189.7" fill="url(#b37)"/>
<polygon points="57.3,208.4 59.7,212.1 57.9,210.4 55.6,208.0" fill="url(#b38)"/>
<polygon points="61.4,213.1 63.4,213.3 61.7,212.3 59.7,212.1" fill="#b11823"/>
<polygon points="79.8,214.6 81.5,208.8 79.6,204.7 77.9,213.5" fill="url(#b39)"/>
<polygon points="83.5,214.6 85.2,211.4 83.3,204.7 81.5,208.8" fill="url(#b40)"/>
<polygon points="87.1,214.7 88.7,213.6 86.8,209.0 85.2,211.4" fill="#b91b20"/>
<polygon points="35.1,201.8 35.2,187.4 35.3,197.6 32.7,196.6" fill="url(#b41)"/>
<polygon points="36.8,187.0 36.5,167.7 35.4,172.2 35.2,187.4" fill="url(#b42)"/>
<polygon points="39.2,174.3 40.3,163.5 36.2,147.0 36.5,167.7" fill="url(#b43)"/>
<polygon points="44.5,182.4 46.9,183.2 43.7,170.9 40.3,163.5" fill="url(#b44)"/>
<polygon points="50.4,199.3 52.8,201.1 49.9,189.7 46.9,183.2" fill="url(#b45)"/>
<polygon points="55.2,207.7 57.3,208.4 55.6,208.0 52.8,201.1" fill="url(#b46)"/>
<polygon points="59.3,211.6 61.4,213.1 59.7,212.1 57.3,208.4" fill="url(#b47)"/>
<polygon points="63.3,215.5 65.2,214.4 63.4,213.3 61.4,213.1" fill="#ac1723"/>
<polygon points="81.8,215.7 83.5,214.6 81.5,208.8 79.8,214.6" fill="url(#b48)"/>
<polygon points="85.4,215.7 87.1,214.7 85.2,211.4 83.5,214.6" fill="#b91925"/>
<polygon points="32.0,198.1 35.1,201.8 32.7,196.6 31.1,201.5" fill="url(#b49)"/>
<polygon points="36.0,198.2 36.8,187.0 35.2,187.4 35.1,201.8" fill="url(#b50)"/>
<polygon points="39.0,190.8 39.2,174.3 36.5,167.7 36.8,187.0" fill="url(#b51)"/>
<polygon points="42.5,186.0 44.5,182.4 40.3,163.5 39.2,174.3" fill="url(#b52)"/>
<polygon points="47.9,197.1 50.4,199.3 46.9,183.2 44.5,182.4" fill="url(#b53)"/>
<polygon points="52.6,203.8 55.2,207.7 52.8,201.1 50.4,199.3" fill="url(#b54)"/>
<polygon points="56.8,206.9 59.3,211.6 57.3,208.4 55.2,207.7" fill="url(#b55)"/>
<polygon points="61.1,212.1 63.3,215.5 61.4,213.1 59.3,211.6" fill="url(#b56)"/>
<polygon points="30.6,204.4 32.0,198.1 31.1,201.5 28.1,198.6" fill="url(#b57)"/>
<polygon points="34.5,204.3 36.0,198.2 35.1,201.8 32.0,198.1" fill="url(#b58)"/>
<polygon points="38.5,204.4 39.0,190.8 36.8,187.0 36.0,198.2" fill="url(#b59)"/>
<polygon points="42.1,201.3 42.5,186.0 39.2,174.3 39.0,190.8" fill="url(#b60)"/>
<polygon points="46.4,203.5 47.9,197.1 44.5,182.4 42.5,186.0" fill="url(#b61)"/>
<polygon points="50.9,208.6 52.6,203.8 50.4,199.3 47.9,197.1" fill="url(#b62)"/>
<polygon points="54.9,209.9 56.8,206.9 55.2,207.7 52.6,203.8" fill="url(#b63)"/>
<polygon points="59.0,212.0 61.1,212.1 59.3,211.6 56.8,206.9" fill="url(#b64)"/>
<polygon points="63.1,215.9 65.1,216.7 63.3,215.5 61.1,212.1" fill="url(#b65)"/>
<polygon points="27.4,200.7 30.6,204.4 28.1,198.6 26.7,204.7" fill="url(#b66)"/>
<polygon points="31.1,198.9 34.5,204.3 32.0,198.1 30.6,204.4" fill="url(#b67)"/>
<polygon points="35.2,198.8 38.5,204.4 36.0,198.2 34.5,204.3" fill="url(#b68)"/>
<polygon points="39.7,201.1 42.1,201.3 39.0,190.8 38.5,204.4" fill="url(#b69)"/>
<polygon points="43.9,202.5 46.4,203.5 42.5,186.0 42.1,201.3" fill="url(#b70)"/>
<polygon points="48.3,205.5 50.9,208.6 47.9,197.1 46.4,203.5" fill="url(#b71)"/>
<polygon points="52.5,207.7 54.9,209.9 52.6,203.8 50.9,208.6" fill="url(#b72)"/>
<polygon points="56.6,209.7 59.0,212.0 56.8,206.9 54.9,209.9" fill="#e6bc27"/>
<polygon points="60.9,213.9 63.1,215.9 61.1,212.1 59.0,212.0" fill="#cd571c"/>
<polygon points="65.1,219.0 67.0,217.8 65.1,216.7 63.1,215.9" fill="#aa1622"/>
<polygon points="25.6,205.2 27.4,200.7 26.7,204.7 23.1,199.9" fill="url(#b73)"/>
<polygon points="29.8,206.2 31.1,198.9 30.6,204.4 27.4,200.7" fill="url(#b74)"/>
<polygon points="33.6,204.7 35.2,198.8 34.5,204.3 31.1,198.9" fill="url(#b75)"/>
<polygon points="38.0,207.0 39.7,201.1 38.5,204.4 35.2,198.8" fill="url(#b76)"/>
<polygon points="42.1,207.2 43.9,202.5 42.1,201.3 39.7,201.1" fill="url(#b77)"/>
<polygon points="46.4,209.3 48.3,205.5 46.4,203.5 43.9,202.5" fill="url(#b78)"/>
<polygon points="50.7,211.9 52.5,207.7 50.9,208.6 48.3,205.5" fill="url(#b79)"/>
<polygon points="54.7,212.8 56.6,209.7 54.9,209.9 52.5,207.7" fill="#e6c829"/>
<polygon points="58.9,215.8 60.9,213.9 59.0,212.0 56.6,209.7" fill="url(#b80)"/>
<polygon points="63.1,220.1 65.1,219.0 63.1,215.9 60.9,213.9" fill="url(#b81)"/>
<polygon points="70.7,218.5 72.6,219.0 70.7,217.9 68.9,219.0" fill="#b71825"/>
<polygon points="74.5,215.8 76.4,219.1 74.5,217.9 72.6,219.0" fill="url(#b82)"/>
<polygon points="78.4,218.7 80.2,219.1 78.2,217.9 76.4,219.1" fill="#b61825"/>
<polygon points="23.4,208.2 25.6,205.2 23.1,199.9 22.5,210.4" fill="url(#b83)"/>
<polygon points="26.3,201.6 29.8,206.2 27.4,200.7 25.6,205.2" fill="url(#b84)"/>
<polygon points="30.5,201.6 33.6,204.7 31.1,198.9 29.8,206.2" fill="url(#b85)"/>
<polygon points="34.9,202.9 38.0,207.0 35.2,198.8 33.6,204.7" fill="url(#b86)"/>
<polygon points="39.2,203.8 42.1,207.2 39.7,201.1 38.0,207.0" fill="url(#b87)"/>
<polygon points="43.7,206.4 46.4,209.3 43.9,202.5 42.1,207.2" fill="url(#b88)"/>
<polygon points="48.1,209.0 50.7,211.9 48.3,205.5 46.4,209.3" fill="url(#b89)"/>
<polygon points="52.3,211.2 54.7,212.8 52.5,207.7 50.7,211.9" fill="#f0d42b"/>
<polygon points="56.7,215.2 58.9,215.8 56.6,209.7 54.7,212.8" fill="url(#b90)"/>
<polygon points="61.1,221.3 63.1,220.1 60.9,213.9 58.9,215.8" fill="url(#b91)"/>
<polygon points="68.1,205.8 70.7,218.5 68.9,219.0 66.9,220.2" fill="url(#b92)"/>
<polygon points="71.8,194.0 74.5,215.8 72.6,219.0 70.7,218.5" fill="url(#b93)"/>
<polygon points="76.1,198.5 78.4,218.7 76.4,219.1 74.5,215.8" fill="url(#b94)"/>
<polygon points="80.4,218.6 82.2,220.3 80.2,219.1 78.4,218.7" fill="#b71922"/>
<polygon points="22.8,218.4 23.4,208.2 22.5,210.4 21.0,216.1" fill="url(#b95)"/>
<polygon points="25.6,212.1 26.3,201.6 25.6,205.2 23.4,208.2" fill="url(#b96)"/>
<polygon points="28.9,207.2 30.5,201.6 29.8,206.2 26.3,201.6" fill="url(#b97)"/>
<polygon points="33.3,208.9 34.9,202.9 33.6,204.7 30.5,201.6" fill="url(#b98)"/>
<polygon points="37.6,210.5 39.2,203.8 38.0,207.0 34.9,202.9" fill="url(#b99)"/>
<polygon points="41.9,211.6 43.7,206.4 42.1,207.2 39.2,203.8" fill="url(#b100)"/>
<polygon points="46.1,212.7 48.1,209.0 46.4,209.3 43.7,206.4" fill="url(#b101)"/>
<polygon points="50.4,214.4 52.3,211.2 50.7,211.9 48.1,209.0" fill="#e6d12a"/>
<polygon points="54.7,218.1 56.7,215.2 54.7,212.8 52.3,211.2" fill="url(#b102)"/>
<polygon points="59.1,222.6 61.1,221.3 58.9,215.8 56.7,215.2" fill="url(#b103)"/>
<polygon points="66.1,208.3 68.1,205.8 66.9,220.2 65.0,221.4" fill="url(#b104)"/>
<polygon points="70.0,202.4 71.8,194.0 70.7,218.5 68.1,205.8" fill="url(#b105)"/>
<polygon points="74.2,203.7 76.1,198.5 74.5,215.8 71.8,194.0" fill="url(#b106)"/>
<polygon points="78.4,212.5 80.4,218.6 78.4,218.7 76.1,198.5" fill="url(#b107)"/>
<polygon points="82.4,222.8 84.2,221.5 82.2,220.3 80.4,218.6" fill="#a81621"/>
<polygon points="24.1,218.4 25.6,212.1 23.4,208.2 22.8,218.4" fill="url(#b108)"/>
<polygon points="26.6,209.4 28.9,207.2 26.3,201.6 25.6,212.1" fill="url(#b109)"/>
<polygon points="29.8,203.5 33.3,208.9 30.5,201.6 28.9,207.2" fill="url(#b110)"/>
<polygon points="34.3,205.5 37.6,210.5 34.9,202.9 33.3,208.9" fill="url(#b111)"/>
<polygon points="38.9,208.2 41.9,211.6 39.2,203.8 37.6,210.5" fill="url(#b112)"/>
<polygon points="43.5,211.3 46.1,212.7 43.7,206.4 41.9,211.6" fill="url(#b113)"/>
<polygon points="47.7,211.9 50.4,214.4 48.1,209.0 46.1,212.7" fill="#e7de2d"/>
<polygon points="52.4,217.2 54.7,218.1 52.3,211.2 50.4,214.4" fill="url(#b114)"/>
<polygon points="57.0,223.8 59.1,222.6 56.7,215.2 54.7,218.1" fill="url(#b115)"/>
<polygon points="62.8,188.1 66.1,208.3 65.0,221.4 63.0,222.6" fill="url(#b116)"/>
<polygon points="66.8,179.6 70.0,202.4 68.1,205.8 66.1,208.3" fill="url(#b117)"/>
<polygon points="71.3,178.4 74.2,203.7 71.8,194.0 70.0,202.4" fill="url(#b118)"/>
<polygon points="76.1,193.7 78.4,212.5 76.1,198.5 74.2,203.7" fill="url(#b119)"/>
<polygon points="80.6,216.8 82.4,222.8 80.4,218.6 78.4,212.5" fill="url(#b120)"/>
<polygon points="26.0,221.2 26.6,209.4 25.6,212.1 24.1,218.4" fill="url(#b121)"/>
<polygon points="29.1,215.6 29.8,203.5 28.9,207.2 26.6,209.4" fill="url(#b122)"/>
<polygon points="32.6,211.3 34.3,205.5 33.3,208.9 29.8,203.5" fill="url(#b123)"/>
<polygon points="37.1,213.2 38.9,208.2 37.6,210.5 34.3,205.5" fill="url(#b124)"/>
<polygon points="41.6,215.4 43.5,211.3 41.9,211.6 38.9,208.2" fill="url(#b125)"/>
<polygon points="45.9,217.2 47.7,211.9 46.1,212.7 43.5,211.3" fill="url(#b126)"/>
<polygon points="50.3,220.1 52.4,217.2 50.4,214.4 47.7,211.9" fill="url(#b127)"/>
<polygon points="54.9,225.1 57.0,223.8 54.7,218.1 52.4,217.2" fill="url(#b128)"/>
<polygon points="61.7,207.3 62.8,188.1 63.0,222.6 60.9,223.8" fill="url(#b129)"/>
<polygon points="65.7,202.8 66.8,179.6 66.1,208.3 62.8,188.1" fill="url(#b130)"/>
<polygon points="70.0,204.5 71.3,178.4 70.0,202.4 66.8,179.6" fill="url(#b131)"/>
<polygon points="74.3,207.4 76.1,193.7 74.2,203.7 71.3,178.4" fill="url(#b132)"/>
<polygon points="78.6,215.7 80.6,216.8 78.4,212.5 76.1,193.7" fill="url(#b133)"/>
<polygon points="82.7,225.3 84.5,224.0 82.4,222.8 80.6,216.8" fill="url(#b134)"/>
<polygon points="27.4,221.3 29.1,215.6 26.6,209.4 26.0,221.2" fill="url(#b135)"/>
<polygon points="30.3,213.8 32.6,211.3 29.8,203.5 29.1,215.6" fill="url(#b136)"/>
<polygon points="34.1,210.4 37.1,213.2 34.3,205.5 32.6,211.3" fill="url(#b137)"/>
<polygon points="38.7,212.9 41.6,215.4 38.9,208.2 37.1,213.2" fill="url(#b138)"/>
<polygon points="43.3,215.9 45.9,217.2 43.5,211.3 41.6,215.4" fill="url(#b139)"/>
<polygon points="47.9,219.5 50.3,220.1 47.7,211.9 45.9,217.2" fill="url(#b140)"/>
<polygon points="52.7,226.4 54.9,225.1 52.4,217.2 50.3,220.1" fill="url(#b141)"/>
<polygon points="58.3,192.3 61.7,207.3 60.9,223.8 58.9,225.1" fill="url(#b142)"/>
<polygon points="62.0,178.6 65.7,202.8 62.8,188.1 61.7,207.3" fill="url(#b143)"/>
<polygon points="66.8,180.1 70.0,204.5 66.8,179.6 65.7,202.8" fill="url(#b144)"/>
<polygon points="71.7,189.9 74.3,207.4 71.3,178.4 70.0,204.5" fill="url(#b145)"/>
<polygon points="76.3,198.7 78.6,215.7 76.1,193.7 74.3,207.4" fill="url(#b146)"/>
<polygon points="80.8,224.2 82.7,225.3 80.6,216.8 78.6,215.7" fill="url(#b147)"/>
<polygon points="29.4,224.0 30.3,213.8 29.1,215.6 27.4,221.3" fill="url(#b148)"/>
<polygon points="32.9,220.1 34.1,210.4 32.6,211.3 30.3,213.8" fill="url(#b149)"/>
<polygon points="36.7,217.6 38.7,212.9 37.1,213.2 34.1,210.4" fill="url(#b150)"/>
<polygon points="41.3,219.9 43.3,215.9 41.6,215.4 38.7,212.9" fill="url(#b151)"/>
<polygon points="45.9,223.3 47.9,219.5 45.9,217.2 43.3,215.9" fill="url(#b152)"/>
<polygon points="50.5,227.7 52.7,226.4 50.3,220.1 47.9,219.5" fill="url(#b153)"/>
<polygon points="57.6,214.1 58.3,192.3 58.9,225.1 56.7,226.4" fill="url(#b154)"/>
<polygon points="61.3,205.6 62.0,178.6 61.7,207.3 58.3,192.3" fill="url(#b155)"/>
<polygon points="65.7,206.4 66.8,180.1 65.7,202.8 62.0,178.6" fill="url(#b156)"/>
<polygon points="70.1,209.1 71.7,189.9 70.0,204.5 66.8,180.1" fill="url(#b157)"/>
<polygon points="74.6,213.8 76.3,198.7 74.3,207.4 71.7,189.9" fill="url(#b158)"/>
<polygon points="78.9,223.6 80.8,224.2 78.6,215.7 76.3,198.7" fill="url(#b159)"/>
<polygon points="83.0,227.9 84.8,226.6 82.7,225.3 80.8,224.2" fill="#aa1722"/>
<polygon points="30.9,224.6 32.9,220.1 30.3,213.8 29.4,224.0" fill="url(#b160)"/>
<polygon points="34.4,219.8 36.7,217.6 34.1,210.4 32.9,220.1" fill="url(#b161)"/>
<polygon points="38.5,218.5 41.3,219.9 38.7,212.9 36.7,217.6" fill="url(#b162)"/>
<polygon points="43.4,223.2 45.9,223.3 43.3,215.9 41.3,219.9" fill="url(#b163)"/>
<polygon points="48.2,229.0 50.5,227.7 47.9,219.5 45.9,223.3" fill="url(#b164)"/>
<polygon points="55.2,214.3 57.6,214.1 56.7,226.4 54.6,227.7" fill="url(#b165)"/>
<polygon points="57.4,183.9 61.3,205.6 58.3,192.3 57.6,214.1" fill="url(#b166)"/>
<polygon points="61.9,180.6 65.7,206.4 62.0,178.6 61.3,205.6" fill="url(#b167)"/>
<polygon points="67.3,193.9 70.1,209.1 66.8,180.1 65.7,206.4" fill="url(#b168)"/>
<polygon points="72.0,199.5 74.6,213.8 71.7,189.9 70.1,209.1" fill="url(#b169)"/>
<polygon points="76.7,214.9 78.9,223.6 76.3,198.7 74.6,213.8" fill="url(#b170)"/>
<polygon points="81.1,229.3 83.0,227.9 80.8,224.2 78.9,223.6" fill="#af191e"/>
<polygon points="33.0,227.7 34.4,219.8 32.9,220.1 30.9,224.6" fill="url(#b171)"/>
<polygon points="36.8,225.1 38.5,218.5 36.7,217.6 34.4,219.8" fill="url(#b172)"/>
<polygon points="41.2,225.9 43.4,223.2 41.3,219.9 38.5,218.5" fill="url(#b173)"/>
<polygon points="45.9,230.4 48.2,229.0 45.9,223.3 43.4,223.2" fill="url(#b174)"/>
<polygon points="54.1,228.7 55.2,214.3 54.6,227.7 52.4,229.1" fill="url(#b175)"/>
<polygon points="56.9,210.1 57.4,183.9 57.6,214.1 55.2,214.3" fill="url(#b176)"/>
<polygon points="61.0,205.9 61.9,180.6 61.3,205.6 57.4,183.9" fill="url(#b177)"/>
<polygon points="65.8,211.7 67.3,193.9 65.7,206.4 61.9,180.6" fill="url(#b178)"/>
<polygon points="70.3,216.0 72.0,199.5 70.1,209.1 67.3,193.9" fill="url(#b179)"/>
<polygon points="74.8,222.2 76.7,214.9 74.6,213.8 72.0,199.5" fill="url(#b180)"/>
<polygon points="79.1,230.6 81.1,229.3 78.9,223.6 76.7,214.9" fill="url(#b181)"/>
<polygon points="34.7,228.9 36.8,225.1 34.4,219.8 33.0,227.7" fill="url(#b182)"/>
<polygon points="38.8,227.5 41.2,225.9 38.5,218.5 36.8,225.1" fill="url(#b183)"/>
<polygon points="43.6,231.8 45.9,230.4 43.4,223.2 41.2,225.9" fill="url(#b184)"/>
<polygon points="52.0,231.9 54.1,228.7 52.4,229.1 50.1,230.4" fill="#bb2733"/>
<polygon points="53.7,201.4 56.9,210.1 55.2,214.3 54.1,228.7" fill="url(#b185)"/>
<polygon points="57.1,184.8 61.0,205.9 57.4,183.9 56.9,210.1" fill="url(#b186)"/>
<polygon points="62.5,195.3 65.8,211.7 61.9,180.6 61.0,205.9" fill="url(#b187)"/>
<polygon points="67.5,202.0 70.3,216.0 67.3,193.9 65.8,211.7" fill="url(#b188)"/>
<polygon points="72.5,214.8 74.8,222.2 72.0,199.5 70.3,216.0" fill="url(#b189)"/>
<polygon points="77.1,232.0 79.1,230.6 76.7,214.9 74.8,222.2" fill="url(#b190)"/>
<polygon points="36.7,231.9 38.8,227.5 36.8,225.1 34.7,228.9" fill="#e1492c"/>
<polygon points="41.2,233.2 43.6,231.8 41.2,225.9 38.8,227.5" fill="#b61c1d"/>
<polygon points="53.5,228.4 53.7,201.4 54.1,228.7 52.0,231.9" fill="url(#b191)"/>
<polygon points="56.6,212.6 57.1,184.8 56.9,210.1 53.7,201.4" fill="url(#b192)"/>
<polygon points="61.3,215.5 62.5,195.3 61.0,205.9 57.1,184.8" fill="url(#b193)"/>
<polygon points="66.0,219.7 67.5,202.0 65.8,211.7 62.5,195.3" fill="url(#b194)"/>
<polygon points="70.6,224.7 72.5,214.8 70.3,216.0 67.5,202.0" fill="url(#b195)"/>
<polygon points="75.1,233.4 77.1,232.0 74.8,222.2 72.5,214.8" fill="url(#b196)"/>
<polygon points="38.7,234.7 41.2,233.2 38.8,227.5 36.7,231.9" fill="#bc1b22"/>
<polygon points="51.6,234.8 53.5,228.4 52.0,231.9 49.7,233.3" fill="url(#b197)"/>
<polygon points="53.7,207.5 56.6,212.6 53.7,201.4 53.5,228.4" fill="url(#b198)"/>
<polygon points="57.7,197.6 61.3,215.5 57.1,184.8 56.6,212.6" fill="url(#b199)"/>
<polygon points="63.1,209.3 66.0,219.7 62.5,195.3 61.3,215.5" fill="url(#b200)"/>
<polygon points="68.1,219.8 70.6,224.7 67.5,202.0 66.0,219.7" fill="url(#b201)"/>
<polygon points="73.0,234.9 75.1,233.4 72.5,214.8 70.6,224.7" fill="url(#b202)"/>
<polygon points="53.5,234.4 53.7,207.5 53.5,228.4 51.6,234.8" fill="url(#b203)"/>
<polygon points="57.2,226.2 57.7,197.6 56.6,212.6 53.7,207.5" fill="url(#b204)"/>
<polygon points="61.6,225.4 63.1,209.3 61.3,215.5 57.7,197.6" fill="url(#b205)"/>
<polygon points="66.4,231.8 68.1,219.8 66.0,219.7 63.1,209.3" fill="url(#b206)"/>
<polygon points="70.9,236.4 73.0,234.9 70.6,224.7 68.1,219.8" fill="url(#b207)"/>
<polygon points="51.3,237.8 53.5,234.4 51.6,234.8 49.3,236.3" fill="#bc2733"/>
<polygon points="55.4,234.3 57.2,226.2 53.7,207.5 53.5,234.4" fill="url(#b208)"/>
<polygon points="59.5,230.6 61.6,225.4 57.7,197.6 57.2,226.2" fill="url(#b209)"/>
<polygon points="64.3,235.4 66.4,231.8 63.1,209.3 61.6,225.4" fill="url(#b210)"/>
<polygon points="68.8,237.9 70.9,236.4 68.1,219.8 66.4,231.8" fill="url(#b211)"/>
<polygon points="53.3,239.4 55.4,234.3 53.5,234.4 51.3,237.8" fill="#cb353c"/>
<polygon points="57.7,239.4 59.5,230.6 57.2,226.2 55.4,234.3" fill="url(#b212)"/>
<polygon points="62.1,239.5 64.3,235.4 61.6,225.4 59.5,230.6" fill="url(#b213)"/>
<polygon points="66.5,239.5 68.8,237.9 66.4,231.8 64.3,235.4" fill="#ba1b20"/>
<polygon points="55.3,241.0 57.7,239.4 55.4,234.3 53.3,239.4" fill="#bd1a25"/>
<polygon points="59.8,241.0 62.1,239.5 59.5,230.6 57.7,239.4" fill="url(#b214)"/>
<polygon points="64.3,241.1 66.5,239.5 64.3,235.4 62.1,239.5" fill="#b91925"/></g>
<defs><linearGradient id="c1" gradientUnits="userSpaceOnUse" x1="0" y1="345.6" x2="0" y2="320.3"><stop offset="0.00" stop-color="#a2181b"/><stop offset="0.17" stop-color="#c1881e"/><stop offset="0.33" stop-color="#acb528"/><stop offset="0.50" stop-color="#69a42e"/><stop offset="0.67" stop-color="#3a974c"/><stop offset="0.83" stop-color="#3ba098"/><stop offset="1.00" stop-color="#42a1ba"/></linearGradient><linearGradient id="c2" gradientUnits="userSpaceOnUse" x1="0" y1="345.1" x2="0" y2="342.5"><stop offset="0.00" stop-color="#d62622"/><stop offset="0.50" stop-color="#f07721"/><stop offset="1.00" stop-color="#f8c128"/></linearGradient><linearGradient id="c3" gradientUnits="userSpaceOnUse" x1="0" y1="327.4" x2="0" y2="307.3"><stop offset="0.00" stop-color="#3a9b5c"/><stop offset="0.17" stop-color="#3ca29a"/><stop offset="0.33" stop-color="#46a8bf"/><stop offset="0.50" stop-color="#3c96bd"/><stop offset="0.67" stop-color="#327bb5"/><stop offset="0.83" stop-color="#2758aa"/><stop offset="1.00" stop-color="#224196"/></linearGradient><linearGradient id="c4" gradientUnits="userSpaceOnUse" x1="0" y1="345.6" x2="0" y2="320.3"><stop offset="0.00" stop-color="#a1181b"/><stop offset="0.17" stop-color="#c1881e"/><stop offset="0.33" stop-color="#acb528"/><stop offset="0.50" stop-color="#69a42e"/><stop offset="0.67" stop-color="#3a974c"/><stop offset="0.83" stop-color="#3ba098"/><stop offset="1.00" stop-color="#42a1ba"/></linearGradient><linearGradient id="c5" gradientUnits="userSpaceOnUse" x1="0" y1="347.0" x2="0" y2="342.5"><stop offset="0.00" stop-color="#dd4a46"/><stop offset="0.50" stop-color="#f28d45"/><stop offset="1.00" stop-color="#f9cb4b"/></linearGradient><linearGradient id="c6" gradientUnits="userSpaceOnUse" x1="0" y1="347.2" x2="0" y2="342.5"><stop offset="0.00" stop-color="#b3201c"/><stop offset="0.50" stop-color="#c9631c"/><stop offset="1.00" stop-color="#cfa121"/></linearGradient><linearGradient id="c7" gradientUnits="userSpaceOnUse" x1="0" y1="312.0" x2="0" y2="287.4"><stop offset="0.00" stop-color="#3885da"/><stop offset="0.17" stop-color="#2b5ac3"/><stop offset="0.33" stop-color="#283da1"/><stop offset="0.50" stop-color="#4e3198"/><stop offset="0.67" stop-color="#8930a0"/><stop offset="0.83" stop-color="#cf3eb9"/><stop offset="1.00" stop-color="#ec54ca"/></linearGradient><linearGradient id="c8" gradientUnits="userSpaceOnUse" x1="0" y1="328.5" x2="0" y2="307.3"><stop offset="0.00" stop-color="#389a6c"/><stop offset="0.20" stop-color="#41a4a9"/><stop offset="0.40" stop-color="#409aba"/><stop offset="0.60" stop-color="#3583b6"/><stop offset="0.80" stop-color="#285ba9"/><stop offset="1.00" stop-color="#224093"/></linearGradient><linearGradient id="c9" gradientUnits="userSpaceOnUse" x1="0" y1="347.9" x2="0" y2="328.5"><stop offset="0.00" stop-color="#a1171b"/><stop offset="0.20" stop-color="#be771c"/><stop offset="0.40" stop-color="#beb926"/><stop offset="0.60" stop-color="#82ac2b"/><stop offset="0.80" stop-color="#499931"/><stop offset="1.00" stop-color="#389a6c"/></linearGradient><linearGradient id="c10" gradientUnits="userSpaceOnUse" x1="0" y1="349.2" x2="0" y2="342.5"><stop offset="0.00" stop-color="#d62622"/><stop offset="0.50" stop-color="#f07721"/><stop offset="1.00" stop-color="#f8c128"/></linearGradient><linearGradient id="c11" gradientUnits="userSpaceOnUse" x1="0" y1="313.6" x2="0" y2="287.4"><stop offset="0.00" stop-color="#65a3e5"/><stop offset="0.17" stop-color="#5a7fd4"/><stop offset="0.33" stop-color="#5869b9"/><stop offset="0.50" stop-color="#755fb1"/><stop offset="0.67" stop-color="#a45eb7"/><stop offset="0.83" stop-color="#db69cb"/><stop offset="1.00" stop-color="#f37ad8"/></linearGradient><linearGradient id="c12" gradientUnits="userSpaceOnUse" x1="0" y1="313.6" x2="0" y2="287.4"><stop offset="0.00" stop-color="#2b66ac"/><stop offset="0.17" stop-color="#22459a"/><stop offset="0.33" stop-color="#20307e"/><stop offset="0.50" stop-color="#3f2779"/><stop offset="0.67" stop-color="#6e2680"/><stop offset="0.83" stop-color="#a43293"/><stop offset="1.00" stop-color="#bb42a0"/></linearGradient><linearGradient id="c13" gradientUnits="userSpaceOnUse" x1="0" y1="339.0" x2="0" y2="313.6"><stop offset="0.00" stop-color="#9db229"/><stop offset="0.17" stop-color="#5ea02f"/><stop offset="0.33" stop-color="#399757"/><stop offset="0.50" stop-color="#3da19b"/><stop offset="0.67" stop-color="#42a1ba"/><stop offset="0.83" stop-color="#388cb7"/><stop offset="1.00" stop-color="#2b66ac"/></linearGradient><linearGradient id="c14" gradientUnits="userSpaceOnUse" x1="0" y1="347.9" x2="0" y2="339.0"><stop offset="0.00" stop-color="#a3181c"/><stop offset="0.33" stop-color="#bf6a1b"/><stop offset="0.67" stop-color="#c4ae24"/><stop offset="1.00" stop-color="#9fb429"/></linearGradient><linearGradient id="c15" gradientUnits="userSpaceOnUse" x1="0" y1="335.5" x2="0" y2="308.8"><stop offset="0.00" stop-color="#99da67"/><stop offset="0.17" stop-color="#71cf8e"/><stop offset="0.33" stop-color="#75d9d6"/><stop offset="0.50" stop-color="#7ad6f3"/><stop offset="0.67" stop-color="#6fc1ef"/><stop offset="0.83" stop-color="#6198e2"/><stop offset="1.00" stop-color="#5a7acc"/></linearGradient><linearGradient id="c16" gradientUnits="userSpaceOnUse" x1="0" y1="317.4" x2="0" y2="287.4"><stop offset="0.00" stop-color="#3c93d3"/><stop offset="0.17" stop-color="#2a60c2"/><stop offset="0.33" stop-color="#2741a1"/><stop offset="0.50" stop-color="#3d308f"/><stop offset="0.67" stop-color="#742b92"/><stop offset="0.83" stop-color="#be39ab"/><stop offset="1.00" stop-color="#dd4ebc"/></linearGradient><linearGradient id="c17" gradientUnits="userSpaceOnUse" x1="0" y1="333.8" x2="0" y2="311.0"><stop offset="0.00" stop-color="#429732"/><stop offset="0.17" stop-color="#379a72"/><stop offset="0.33" stop-color="#40a3a6"/><stop offset="0.50" stop-color="#429eba"/><stop offset="0.67" stop-color="#388cb7"/><stop offset="0.83" stop-color="#2d6cae"/><stop offset="1.00" stop-color="#234ba0"/></linearGradient><linearGradient id="c18" gradientUnits="userSpaceOnUse" x1="0" y1="344.4" x2="0" y2="333.8"><stop offset="0.00" stop-color="#c49e21"/><stop offset="0.33" stop-color="#acb728"/><stop offset="0.67" stop-color="#76a92d"/><stop offset="1.00" stop-color="#439832"/></linearGradient><linearGradient id="c19" gradientUnits="userSpaceOnUse" x1="0" y1="350.7" x2="0" y2="344.4"><stop offset="0.00" stop-color="#a0171d"/><stop offset="0.50" stop-color="#c4681c"/><stop offset="1.00" stop-color="#ccb625"/></linearGradient><linearGradient id="c20" gradientUnits="userSpaceOnUse" x1="0" y1="335.5" x2="0" y2="330.6"><stop offset="0.00" stop-color="#7fd040"/><stop offset="0.50" stop-color="#4fc04d"/><stop offset="1.00" stop-color="#4bc693"/></linearGradient><linearGradient id="c21" gradientUnits="userSpaceOnUse" x1="0" y1="336.7" x2="0" y2="308.8"><stop offset="0.00" stop-color="#8ad468"/><stop offset="0.17" stop-color="#70d19e"/><stop offset="0.33" stop-color="#77dadd"/><stop offset="0.50" stop-color="#78d4f2"/><stop offset="0.67" stop-color="#6dbeef"/><stop offset="0.83" stop-color="#6096e1"/><stop offset="1.00" stop-color="#5979cc"/></linearGradient><linearGradient id="c22" gradientUnits="userSpaceOnUse" x1="0" y1="337.0" x2="0" y2="311.0"><stop offset="0.00" stop-color="#559e30"/><stop offset="0.17" stop-color="#39995e"/><stop offset="0.33" stop-color="#3da29e"/><stop offset="0.50" stop-color="#44a3bc"/><stop offset="0.67" stop-color="#398fba"/><stop offset="0.83" stop-color="#2e6eaf"/><stop offset="1.00" stop-color="#234ba1"/></linearGradient><linearGradient id="c23" gradientUnits="userSpaceOnUse" x1="0" y1="340.5" x2="0" y2="328.5"><stop offset="0.00" stop-color="#89b32c"/><stop offset="0.33" stop-color="#53a132"/><stop offset="0.67" stop-color="#3b9e5f"/><stop offset="1.00" stop-color="#3da59d"/></linearGradient><linearGradient id="c24" gradientUnits="userSpaceOnUse" x1="0" y1="344.4" x2="0" y2="335.5"><stop offset="0.00" stop-color="#c69f21"/><stop offset="0.33" stop-color="#afb828"/><stop offset="0.67" stop-color="#7dad2c"/><stop offset="1.00" stop-color="#4b9c32"/></linearGradient><linearGradient id="c25" gradientUnits="userSpaceOnUse" x1="0" y1="351.9" x2="0" y2="344.4"><stop offset="0.00" stop-color="#9c161d"/><stop offset="0.50" stop-color="#c1661b"/><stop offset="1.00" stop-color="#c9b425"/></linearGradient><linearGradient id="c26" gradientUnits="userSpaceOnUse" x1="0" y1="337.0" x2="0" y2="332.7"><stop offset="0.00" stop-color="#78cd3f"/><stop offset="0.50" stop-color="#4dc04c"/><stop offset="1.00" stop-color="#4ac68d"/></linearGradient><linearGradient id="c27" gradientUnits="userSpaceOnUse" x1="0" y1="336.9" x2="0" y2="331.6"><stop offset="0.00" stop-color="#73cc40"/><stop offset="0.50" stop-color="#4dc260"/><stop offset="1.00" stop-color="#49c9ab"/></linearGradient><linearGradient id="c28" gradientUnits="userSpaceOnUse" x1="0" y1="337.0" x2="0" y2="317.4"><stop offset="0.00" stop-color="#6bc83d"/><stop offset="0.20" stop-color="#49c16e"/><stop offset="0.40" stop-color="#4bcbbe"/><stop offset="0.60" stop-color="#58d4ef"/><stop offset="0.80" stop-color="#4ebdec"/><stop offset="1.00" stop-color="#419fe5"/></linearGradient><linearGradient id="c29" gradientUnits="userSpaceOnUse" x1="0" y1="340.5" x2="0" y2="328.5"><stop offset="0.00" stop-color="#95c230"/><stop offset="0.33" stop-color="#5aae36"/><stop offset="0.67" stop-color="#40aa67"/><stop offset="1.00" stop-color="#42b2aa"/></linearGradient><linearGradient id="c30" gradientUnits="userSpaceOnUse" x1="0" y1="344.1" x2="0" y2="335.5"><stop offset="0.00" stop-color="#cfcd2b"/><stop offset="0.50" stop-color="#8fbf30"/><stop offset="1.00" stop-color="#53ab37"/></linearGradient><linearGradient id="c31" gradientUnits="userSpaceOnUse" x1="0" y1="349.9" x2="0" y2="344.4"><stop offset="0.00" stop-color="#c4591a"/><stop offset="0.50" stop-color="#cda623"/><stop offset="1.00" stop-color="#b6bf2a"/></linearGradient><linearGradient id="c32" gradientUnits="userSpaceOnUse" x1="0" y1="355.3" x2="0" y2="349.9"><stop offset="0.00" stop-color="#951320"/><stop offset="1.00" stop-color="#ca5c1b"/></linearGradient><linearGradient id="c33" gradientUnits="userSpaceOnUse" x1="0" y1="341.0" x2="0" y2="332.7"><stop offset="0.00" stop-color="#9dda45"/><stop offset="0.50" stop-color="#5fc54b"/><stop offset="1.00" stop-color="#53c893"/></linearGradient><linearGradient id="c34" gradientUnits="userSpaceOnUse" x1="0" y1="340.0" x2="0" y2="331.6"><stop offset="0.00" stop-color="#89d245"/><stop offset="0.50" stop-color="#53c25a"/><stop offset="1.00" stop-color="#50cbae"/></linearGradient><linearGradient id="c35" gradientUnits="userSpaceOnUse" x1="0" y1="339.3" x2="0" y2="330.9"><stop offset="0.00" stop-color="#78ce44"/><stop offset="0.50" stop-color="#50c36c"/><stop offset="1.00" stop-color="#50ccbc"/></linearGradient><linearGradient id="c36" gradientUnits="userSpaceOnUse" x1="0" y1="342.0" x2="0" y2="330.9"><stop offset="0.00" stop-color="#8cbe31"/><stop offset="0.33" stop-color="#58ac36"/><stop offset="0.67" stop-color="#3fa860"/><stop offset="1.00" stop-color="#3fafa0"/></linearGradient><linearGradient id="c37" gradientUnits="userSpaceOnUse" x1="0" y1="345.0" x2="0" y2="334.7"><stop offset="0.00" stop-color="#b3c02a"/><stop offset="0.33" stop-color="#83b52f"/><stop offset="0.67" stop-color="#55a534"/><stop offset="1.00" stop-color="#3da056"/></linearGradient><linearGradient id="c38" gradientUnits="userSpaceOnUse" x1="0" y1="348.1" x2="0" y2="340.1"><stop offset="0.00" stop-color="#d4b726"/><stop offset="0.50" stop-color="#b1c32c"/><stop offset="1.00" stop-color="#7ab631"/></linearGradient><linearGradient id="c39" gradientUnits="userSpaceOnUse" x1="0" y1="355.3" x2="0" y2="344.4"><stop offset="0.00" stop-color="#8a111e"/><stop offset="0.33" stop-color="#b6441a"/><stop offset="0.67" stop-color="#c49a20"/><stop offset="1.00" stop-color="#aeb628"/></linearGradient><linearGradient id="c40" gradientUnits="userSpaceOnUse" x1="0" y1="341.3" x2="0" y2="334.0"><stop offset="0.00" stop-color="#a0db3b"/><stop offset="0.50" stop-color="#67c841"/><stop offset="1.00" stop-color="#4cc36b"/></linearGradient><linearGradient id="c41" gradientUnits="userSpaceOnUse" x1="0" y1="341.0" x2="0" y2="332.7"><stop offset="0.00" stop-color="#9cda43"/><stop offset="0.50" stop-color="#5dc449"/><stop offset="1.00" stop-color="#51c892"/></linearGradient><linearGradient id="c42" gradientUnits="userSpaceOnUse" x1="0" y1="340.0" x2="0" y2="333.4"><stop offset="0.00" stop-color="#86d242"/><stop offset="0.50" stop-color="#50c25b"/><stop offset="1.00" stop-color="#4ccab3"/></linearGradient><linearGradient id="c43" gradientUnits="userSpaceOnUse" x1="0" y1="342.0" x2="0" y2="330.9"><stop offset="0.00" stop-color="#92c532"/><stop offset="0.33" stop-color="#5bb338"/><stop offset="0.67" stop-color="#42af64"/><stop offset="1.00" stop-color="#42b6a7"/></linearGradient><linearGradient id="c44" gradientUnits="userSpaceOnUse" x1="0" y1="345.0" x2="0" y2="334.7"><stop offset="0.00" stop-color="#c0ce2d"/><stop offset="0.33" stop-color="#8dc232"/><stop offset="0.67" stop-color="#5bb137"/><stop offset="1.00" stop-color="#41ac5c"/></linearGradient><linearGradient id="c45" gradientUnits="userSpaceOnUse" x1="0" y1="348.1" x2="0" y2="340.1"><stop offset="0.00" stop-color="#ddbe27"/><stop offset="0.50" stop-color="#b7cb2e"/><stop offset="1.00" stop-color="#7fbd33"/></linearGradient><linearGradient id="c46" gradientUnits="userSpaceOnUse" x1="0" y1="355.3" x2="0" y2="344.4"><stop offset="0.00" stop-color="#9f171d"/><stop offset="0.33" stop-color="#c15a1b"/><stop offset="0.67" stop-color="#c9a422"/><stop offset="1.00" stop-color="#b2bb29"/></linearGradient><linearGradient id="c47" gradientUnits="userSpaceOnUse" x1="0" y1="356.8" x2="0" y2="353.8"><stop offset="0.00" stop-color="#af1626"/><stop offset="1.00" stop-color="#ee6820"/></linearGradient><linearGradient id="c48" gradientUnits="userSpaceOnUse" x1="0" y1="356.9" x2="0" y2="354.0"><stop offset="0.00" stop-color="#af1626"/><stop offset="1.00" stop-color="#ec6420"/></linearGradient><linearGradient id="c49" gradientUnits="userSpaceOnUse" x1="0" y1="341.3" x2="0" y2="335.9"><stop offset="0.00" stop-color="#96cf35"/><stop offset="0.50" stop-color="#60bd3b"/><stop offset="1.00" stop-color="#45b864"/></linearGradient><linearGradient id="c50" gradientUnits="userSpaceOnUse" x1="0" y1="344.3" x2="0" y2="335.5"><stop offset="0.00" stop-color="#b0e147"/><stop offset="0.50" stop-color="#70cb4d"/><stop offset="1.00" stop-color="#56c885"/></linearGradient><linearGradient id="c51" gradientUnits="userSpaceOnUse" x1="0" y1="342.5" x2="0" y2="333.4"><stop offset="0.00" stop-color="#92d64d"/><stop offset="0.50" stop-color="#5ac561"/><stop offset="1.00" stop-color="#57cdb7"/></linearGradient><linearGradient id="c52" gradientUnits="userSpaceOnUse" x1="0" y1="344.3" x2="0" y2="333.4"><stop offset="0.00" stop-color="#8fc031"/><stop offset="0.33" stop-color="#5caf36"/><stop offset="0.67" stop-color="#40a857"/><stop offset="1.00" stop-color="#3dae99"/></linearGradient><linearGradient id="c53" gradientUnits="userSpaceOnUse" x1="0" y1="346.4" x2="0" y2="337.1"><stop offset="0.00" stop-color="#acc42d"/><stop offset="0.50" stop-color="#6db234"/><stop offset="1.00" stop-color="#40a54f"/></linearGradient><linearGradient id="c54" gradientUnits="userSpaceOnUse" x1="0" y1="350.2" x2="0" y2="341.2"><stop offset="0.00" stop-color="#d2b826"/><stop offset="0.50" stop-color="#a7c02d"/><stop offset="1.00" stop-color="#6baf33"/></linearGradient><linearGradient id="c55" gradientUnits="userSpaceOnUse" x1="0" y1="357.7" x2="0" y2="346.0"><stop offset="0.00" stop-color="#9c161c"/><stop offset="0.33" stop-color="#be5d1a"/><stop offset="0.67" stop-color="#c5a722"/><stop offset="1.00" stop-color="#a7b628"/></linearGradient><linearGradient id="c56" gradientUnits="userSpaceOnUse" x1="0" y1="356.7" x2="0" y2="351.7"><stop offset="0.00" stop-color="#bb3846"/><stop offset="0.50" stop-color="#eb7141"/><stop offset="1.00" stop-color="#face48"/></linearGradient><linearGradient id="c57" gradientUnits="userSpaceOnUse" x1="0" y1="356.8" x2="0" y2="350.8"><stop offset="0.00" stop-color="#ae1626"/><stop offset="0.50" stop-color="#ed6820"/><stop offset="1.00" stop-color="#f8da2d"/></linearGradient><linearGradient id="c58" gradientUnits="userSpaceOnUse" x1="0" y1="358.1" x2="0" y2="355.2"><stop offset="0.00" stop-color="#961321"/><stop offset="1.00" stop-color="#cb571b"/></linearGradient><linearGradient id="c59" gradientUnits="userSpaceOnUse" x1="0" y1="348.0" x2="0" y2="335.9"><stop offset="0.00" stop-color="#f3ef54"/><stop offset="0.33" stop-color="#bbe559"/><stop offset="0.67" stop-color="#86d25e"/><stop offset="1.00" stop-color="#68cc83"/></linearGradient><linearGradient id="c60" gradientUnits="userSpaceOnUse" x1="0" y1="344.3" x2="0" y2="339.5"><stop offset="0.00" stop-color="#9dce33"/><stop offset="0.50" stop-color="#6ebe39"/><stop offset="1.00" stop-color="#45b148"/></linearGradient><linearGradient id="c61" gradientUnits="userSpaceOnUse" x1="0" y1="344.3" x2="0" y2="335.5"><stop offset="0.00" stop-color="#b0e146"/><stop offset="0.50" stop-color="#70cb4d"/><stop offset="1.00" stop-color="#56c885"/></linearGradient><linearGradient id="c62" gradientUnits="userSpaceOnUse" x1="0" y1="344.3" x2="0" y2="333.4"><stop offset="0.00" stop-color="#99cd34"/><stop offset="0.33" stop-color="#63bc3a"/><stop offset="0.67" stop-color="#44b45d"/><stop offset="1.00" stop-color="#41bba4"/></linearGradient><linearGradient id="c63" gradientUnits="userSpaceOnUse" x1="0" y1="346.4" x2="0" y2="337.1"><stop offset="0.00" stop-color="#b9d230"/><stop offset="0.50" stop-color="#75bf37"/><stop offset="1.00" stop-color="#44b155"/></linearGradient><linearGradient id="c64" gradientUnits="userSpaceOnUse" x1="0" y1="350.2" x2="0" y2="341.2"><stop offset="0.00" stop-color="#d8bd27"/><stop offset="0.50" stop-color="#abc52e"/><stop offset="1.00" stop-color="#6db334"/></linearGradient><linearGradient id="c65" gradientUnits="userSpaceOnUse" x1="0" y1="357.7" x2="0" y2="346.0"><stop offset="0.00" stop-color="#a0171d"/><stop offset="0.33" stop-color="#c15f1b"/><stop offset="0.67" stop-color="#c9aa23"/><stop offset="1.00" stop-color="#aab929"/></linearGradient><linearGradient id="c66" gradientUnits="userSpaceOnUse" x1="0" y1="357.9" x2="0" y2="348.8"><stop offset="0.00" stop-color="#bf4451"/><stop offset="0.33" stop-color="#ed7c4c"/><stop offset="0.67" stop-color="#fad454"/><stop offset="1.00" stop-color="#dceb5b"/></linearGradient><linearGradient id="c67" gradientUnits="userSpaceOnUse" x1="0" y1="353.8" x2="0" y2="347.1"><stop offset="0.00" stop-color="#ef6f2a"/><stop offset="0.50" stop-color="#fae137"/><stop offset="1.00" stop-color="#b4e03f"/></linearGradient><linearGradient id="c68" gradientUnits="userSpaceOnUse" x1="0" y1="354.0" x2="0" y2="349.5"><stop offset="0.00" stop-color="#c8551b"/><stop offset="0.50" stop-color="#d4aa23"/><stop offset="1.00" stop-color="#bcc52b"/></linearGradient><linearGradient id="c69" gradientUnits="userSpaceOnUse" x1="0" y1="359.4" x2="0" y2="355.2"><stop offset="0.00" stop-color="#961320"/><stop offset="1.00" stop-color="#cb571b"/></linearGradient><linearGradient id="c70" gradientUnits="userSpaceOnUse" x1="0" y1="356.9" x2="0" y2="345.8"><stop offset="0.00" stop-color="#ef7f4d"/><stop offset="0.33" stop-color="#f9cc53"/><stop offset="0.67" stop-color="#f0ef5b"/><stop offset="1.00" stop-color="#c1e55f"/></linearGradient><linearGradient id="c71" gradientUnits="userSpaceOnUse" x1="0" y1="350.5" x2="0" y2="339.5"><stop offset="0.00" stop-color="#f2ef56"/><stop offset="0.33" stop-color="#c2e65a"/><stop offset="0.67" stop-color="#93d75f"/><stop offset="1.00" stop-color="#6bcb6d"/></linearGradient><linearGradient id="c72" gradientUnits="userSpaceOnUse" x1="0" y1="344.3" x2="0" y2="339.5"><stop offset="0.00" stop-color="#a3d635"/><stop offset="0.50" stop-color="#72c43b"/><stop offset="1.00" stop-color="#47b84a"/></linearGradient><linearGradient id="c73" gradientUnits="userSpaceOnUse" x1="0" y1="348.0" x2="0" y2="340.6"><stop offset="0.00" stop-color="#bbdd34"/><stop offset="0.50" stop-color="#85ce3a"/><stop offset="1.00" stop-color="#50bc3f"/></linearGradient><linearGradient id="c74" gradientUnits="userSpaceOnUse" x1="0" y1="349.7" x2="0" y2="341.3"><stop offset="0.00" stop-color="#ccd830"/><stop offset="0.50" stop-color="#90ca35"/><stop offset="1.00" stop-color="#56b73b"/></linearGradient><linearGradient id="c75" gradientUnits="userSpaceOnUse" x1="0" y1="352.8" x2="0" y2="343.1"><stop offset="0.00" stop-color="#cfb125"/><stop offset="0.50" stop-color="#a4bd2c"/><stop offset="1.00" stop-color="#66ab32"/></linearGradient><linearGradient id="c76" gradientUnits="userSpaceOnUse" x1="0" y1="360.1" x2="0" y2="348.6"><stop offset="0.00" stop-color="#9d161c"/><stop offset="0.33" stop-color="#bd5a1a"/><stop offset="0.67" stop-color="#c5a321"/><stop offset="1.00" stop-color="#adb828"/></linearGradient><linearGradient id="c77" gradientUnits="userSpaceOnUse" x1="0" y1="359.1" x2="0" y2="348.8"><stop offset="0.00" stop-color="#c04754"/><stop offset="0.33" stop-color="#ee7e4f"/><stop offset="0.67" stop-color="#fad557"/><stop offset="1.00" stop-color="#ddeb5e"/></linearGradient><linearGradient id="c78" gradientUnits="userSpaceOnUse" x1="0" y1="351.7" x2="0" y2="347.1"><stop offset="0.00" stop-color="#f9ca39"/><stop offset="0.50" stop-color="#ebec41"/><stop offset="1.00" stop-color="#b7e145"/></linearGradient><linearGradient id="c79" gradientUnits="userSpaceOnUse" x1="0" y1="350.8" x2="0" y2="347.1"><stop offset="0.00" stop-color="#e2c729"/><stop offset="0.50" stop-color="#cad42d"/><stop offset="1.00" stop-color="#a1ca31"/></linearGradient><linearGradient id="c80" gradientUnits="userSpaceOnUse" x1="0" y1="358.9" x2="0" y2="349.5"><stop offset="0.00" stop-color="#a3181c"/><stop offset="0.33" stop-color="#be611a"/><stop offset="0.67" stop-color="#c5a322"/><stop offset="1.00" stop-color="#afb828"/></linearGradient><linearGradient id="c81" gradientUnits="userSpaceOnUse" x1="0" y1="356.9" x2="0" y2="345.8"><stop offset="0.00" stop-color="#ef7c49"/><stop offset="0.33" stop-color="#f9cb4f"/><stop offset="0.67" stop-color="#efef56"/><stop offset="1.00" stop-color="#bfe55b"/></linearGradient><linearGradient id="c82" gradientUnits="userSpaceOnUse" x1="0" y1="350.5" x2="0" y2="339.5"><stop offset="0.00" stop-color="#f1ef50"/><stop offset="0.33" stop-color="#bfe554"/><stop offset="0.67" stop-color="#8fd559"/><stop offset="1.00" stop-color="#65c867"/></linearGradient><linearGradient id="c83" gradientUnits="userSpaceOnUse" x1="0" y1="348.0" x2="0" y2="342.8"><stop offset="0.00" stop-color="#b1d231"/><stop offset="0.50" stop-color="#7dc337"/><stop offset="1.00" stop-color="#4ab23b"/></linearGradient><linearGradient id="c84" gradientUnits="userSpaceOnUse" x1="0" y1="349.7" x2="0" y2="341.3"><stop offset="0.00" stop-color="#ceda30"/><stop offset="0.50" stop-color="#92cc36"/><stop offset="1.00" stop-color="#56b83b"/></linearGradient><linearGradient id="c85" gradientUnits="userSpaceOnUse" x1="0" y1="352.8" x2="0" y2="343.1"><stop offset="0.00" stop-color="#ddbd27"/><stop offset="0.50" stop-color="#afca2f"/><stop offset="1.00" stop-color="#6cb735"/></linearGradient><linearGradient id="c86" gradientUnits="userSpaceOnUse" x1="0" y1="360.1" x2="0" y2="348.6"><stop offset="0.00" stop-color="#a0171c"/><stop offset="0.33" stop-color="#c15c1b"/><stop offset="0.67" stop-color="#c9a722"/><stop offset="1.00" stop-color="#b1bc29"/></linearGradient><linearGradient id="c87" gradientUnits="userSpaceOnUse" x1="0" y1="360.3" x2="0" y2="352.0"><stop offset="0.00" stop-color="#d2494e"/><stop offset="0.33" stop-color="#f28a4c"/><stop offset="0.67" stop-color="#fad253"/><stop offset="1.00" stop-color="#eaee5a"/></linearGradient><linearGradient id="c88" gradientUnits="userSpaceOnUse" x1="0" y1="355.4" x2="0" y2="350.6"><stop offset="0.00" stop-color="#d79821"/><stop offset="0.50" stop-color="#dacd29"/><stop offset="1.00" stop-color="#acc62e"/></linearGradient><linearGradient id="c89" gradientUnits="userSpaceOnUse" x1="0" y1="363.2" x2="0" y2="355.4"><stop offset="0.00" stop-color="#8f121f"/><stop offset="0.50" stop-color="#b83a1b"/><stop offset="1.00" stop-color="#c98e1f"/></linearGradient><linearGradient id="c90" gradientUnits="userSpaceOnUse" x1="0" y1="360.2" x2="0" y2="348.2"><stop offset="0.00" stop-color="#ea734e"/><stop offset="0.33" stop-color="#f9c753"/><stop offset="0.67" stop-color="#f1f05b"/><stop offset="1.00" stop-color="#bfe660"/></linearGradient><linearGradient id="c91" gradientUnits="userSpaceOnUse" x1="0" y1="354.7" x2="0" y2="342.8"><stop offset="0.00" stop-color="#fae350"/><stop offset="0.33" stop-color="#d4e956"/><stop offset="0.67" stop-color="#a0db5b"/><stop offset="1.00" stop-color="#6dcb60"/></linearGradient><linearGradient id="c92" gradientUnits="userSpaceOnUse" x1="0" y1="350.7" x2="0" y2="342.8"><stop offset="0.00" stop-color="#b2d131"/><stop offset="0.50" stop-color="#7ec236"/><stop offset="1.00" stop-color="#4ab13b"/></linearGradient><linearGradient id="c93" gradientUnits="userSpaceOnUse" x1="0" y1="354.1" x2="0" y2="345.0"><stop offset="0.00" stop-color="#d4c728"/><stop offset="0.50" stop-color="#9cbe2e"/><stop offset="1.00" stop-color="#62ad34"/></linearGradient><linearGradient id="c94" gradientUnits="userSpaceOnUse" x1="0" y1="362.7" x2="0" y2="349.9"><stop offset="0.00" stop-color="#9d161c"/><stop offset="0.33" stop-color="#be631b"/><stop offset="0.67" stop-color="#c4ac23"/><stop offset="1.00" stop-color="#9eb429"/></linearGradient><linearGradient id="c95" gradientUnits="userSpaceOnUse" x1="0" y1="362.9" x2="0" y2="352.0"><stop offset="0.00" stop-color="#c04854"/><stop offset="0.33" stop-color="#eb7750"/><stop offset="0.67" stop-color="#f9cc56"/><stop offset="1.00" stop-color="#ebee5e"/></linearGradient><linearGradient id="c96" gradientUnits="userSpaceOnUse" x1="0" y1="363.2" x2="0" y2="350.6"><stop offset="0.00" stop-color="#89111e"/><stop offset="0.33" stop-color="#b94e19"/><stop offset="0.67" stop-color="#c3a722"/><stop offset="1.00" stop-color="#9ab22a"/></linearGradient><linearGradient id="c97" gradientUnits="userSpaceOnUse" x1="0" y1="360.2" x2="0" y2="348.2"><stop offset="0.00" stop-color="#e96c46"/><stop offset="0.33" stop-color="#f9c54b"/><stop offset="0.67" stop-color="#f1ef53"/><stop offset="1.00" stop-color="#bce458"/></linearGradient><linearGradient id="c98" gradientUnits="userSpaceOnUse" x1="0" y1="354.7" x2="0" y2="342.8"><stop offset="0.00" stop-color="#fae24a"/><stop offset="0.33" stop-color="#d2e950"/><stop offset="0.67" stop-color="#9dda55"/><stop offset="1.00" stop-color="#68c95a"/></linearGradient><linearGradient id="c99" gradientUnits="userSpaceOnUse" x1="0" y1="354.1" x2="0" y2="345.0"><stop offset="0.00" stop-color="#dccf29"/><stop offset="0.50" stop-color="#a2c630"/><stop offset="1.00" stop-color="#66b436"/></linearGradient><linearGradient id="c100" gradientUnits="userSpaceOnUse" x1="0" y1="362.7" x2="0" y2="349.9"><stop offset="0.00" stop-color="#9f161c"/><stop offset="0.33" stop-color="#c1651b"/><stop offset="0.67" stop-color="#c7af24"/><stop offset="1.00" stop-color="#a0b62a"/></linearGradient><linearGradient id="c101" gradientUnits="userSpaceOnUse" x1="0" y1="362.9" x2="0" y2="356.5"><stop offset="0.00" stop-color="#bf4450"/><stop offset="0.50" stop-color="#ed794c"/><stop offset="1.00" stop-color="#fad153"/></linearGradient><linearGradient id="c102" gradientUnits="userSpaceOnUse" x1="0" y1="361.6" x2="0" y2="350.6"><stop offset="0.00" stop-color="#b5301b"/><stop offset="0.33" stop-color="#c9841e"/><stop offset="0.67" stop-color="#cdbd27"/><stop offset="1.00" stop-color="#a1ba2b"/></linearGradient><linearGradient id="c103" gradientUnits="userSpaceOnUse" x1="0" y1="363.3" x2="0" y2="353.2"><stop offset="0.00" stop-color="#e76a4b"/><stop offset="0.50" stop-color="#f9ce51"/><stop offset="1.00" stop-color="#dfec5a"/></linearGradient><linearGradient id="c104" gradientUnits="userSpaceOnUse" x1="0" y1="360.4" x2="0" y2="350.7"><stop offset="0.00" stop-color="#f5a22e"/><stop offset="0.50" stop-color="#fae839"/><stop offset="1.00" stop-color="#c5e43e"/></linearGradient><linearGradient id="c105" gradientUnits="userSpaceOnUse" x1="0" y1="365.4" x2="0" y2="352.0"><stop offset="0.00" stop-color="#9d171c"/><stop offset="0.33" stop-color="#be661b"/><stop offset="0.67" stop-color="#c4b023"/><stop offset="1.00" stop-color="#9ab32a"/></linearGradient><linearGradient id="c106" gradientUnits="userSpaceOnUse" x1="0" y1="364.2" x2="0" y2="358.5"><stop offset="0.00" stop-color="#be424f"/><stop offset="0.50" stop-color="#e96f4b"/><stop offset="1.00" stop-color="#f9c550"/></linearGradient><linearGradient id="c107" gradientUnits="userSpaceOnUse" x1="0" y1="360.6" x2="0" y2="353.5"><stop offset="0.00" stop-color="#cf8e1f"/><stop offset="0.50" stop-color="#d1bf27"/><stop offset="1.00" stop-color="#adc02c"/></linearGradient><linearGradient id="c108" gradientUnits="userSpaceOnUse" x1="0" y1="367.2" x2="0" y2="358.7"><stop offset="0.00" stop-color="#8e121f"/><stop offset="0.50" stop-color="#b93f1b"/><stop offset="1.00" stop-color="#c99620"/></linearGradient><linearGradient id="c109" gradientUnits="userSpaceOnUse" x1="0" y1="363.3" x2="0" y2="353.2"><stop offset="0.00" stop-color="#e55a38"/><stop offset="0.50" stop-color="#f9c83e"/><stop offset="1.00" stop-color="#dce948"/></linearGradient><linearGradient id="c110" gradientUnits="userSpaceOnUse" x1="0" y1="367.0" x2="0" y2="352.0"><stop offset="0.00" stop-color="#a7181e"/><stop offset="0.33" stop-color="#cc6c1d"/><stop offset="0.67" stop-color="#d3bc26"/><stop offset="1.00" stop-color="#a5c02d"/></linearGradient><linearGradient id="c111" gradientUnits="userSpaceOnUse" x1="0" y1="365.4" x2="0" y2="359.3"><stop offset="0.00" stop-color="#d5454a"/><stop offset="0.50" stop-color="#f28747"/><stop offset="1.00" stop-color="#f9cd4e"/></linearGradient><linearGradient id="c112" gradientUnits="userSpaceOnUse" x1="0" y1="360.6" x2="0" y2="353.5"><stop offset="0.00" stop-color="#e59d22"/><stop offset="0.50" stop-color="#e7d32b"/><stop offset="1.00" stop-color="#c0d430"/></linearGradient><linearGradient id="c113" gradientUnits="userSpaceOnUse" x1="0" y1="368.6" x2="0" y2="358.7"><stop offset="0.00" stop-color="#8f121f"/><stop offset="0.50" stop-color="#ba401b"/><stop offset="1.00" stop-color="#cb9720"/></linearGradient><linearGradient id="c114" gradientUnits="userSpaceOnUse" x1="0" y1="369.7" x2="0" y2="360.4"><stop offset="0.00" stop-color="#a01423"/><stop offset="0.50" stop-color="#cc391e"/><stop offset="1.00" stop-color="#e09021"/></linearGradient><linearGradient id="c115" gradientUnits="userSpaceOnUse" x1="0" y1="368.4" x2="0" y2="361.4"><stop offset="0.00" stop-color="#be424f"/><stop offset="0.50" stop-color="#e86c4a"/><stop offset="1.00" stop-color="#f9c24f"/></linearGradient><linearGradient id="c116" gradientUnits="userSpaceOnUse" x1="0" y1="365.5" x2="0" y2="357.3"><stop offset="0.00" stop-color="#ce571c"/><stop offset="0.50" stop-color="#d9aa24"/><stop offset="1.00" stop-color="#c9cc2c"/></linearGradient><linearGradient id="c117" gradientUnits="userSpaceOnUse" x1="0" y1="370.0" x2="0" y2="361.1"><stop offset="0.00" stop-color="#8d121f"/><stop offset="0.50" stop-color="#b9411b"/><stop offset="1.00" stop-color="#c89920"/></linearGradient><linearGradient id="c118" gradientUnits="userSpaceOnUse" x1="0" y1="368.4" x2="0" y2="361.4"><stop offset="0.00" stop-color="#d13e43"/><stop offset="0.50" stop-color="#ee7741"/><stop offset="1.00" stop-color="#f9bf46"/></linearGradient><linearGradient id="c119" gradientUnits="userSpaceOnUse" x1="0" y1="365.9" x2="0" y2="358.5"><stop offset="0.00" stop-color="#f2892f"/><stop offset="1.00" stop-color="#faeb3c"/></linearGradient><linearGradient id="c120" gradientUnits="userSpaceOnUse" x1="0" y1="369.2" x2="0" y2="357.3"><stop offset="0.00" stop-color="#bd1e1e"/><stop offset="0.50" stop-color="#db9821"/><stop offset="1.00" stop-color="#cdd02c"/></linearGradient><linearGradient id="c121" gradientUnits="userSpaceOnUse" x1="0" y1="371.4" x2="0" y2="361.1"><stop offset="0.00" stop-color="#961321"/><stop offset="0.50" stop-color="#c4451c"/><stop offset="1.00" stop-color="#d4a222"/></linearGradient><linearGradient id="c122" gradientUnits="userSpaceOnUse" x1="0" y1="372.9" x2="0" y2="363.8"><stop offset="0.00" stop-color="#b72c3b"/><stop offset="0.50" stop-color="#e04d36"/><stop offset="1.00" stop-color="#f59f38"/></linearGradient><linearGradient id="c123" gradientUnits="userSpaceOnUse" x1="0" y1="372.9" x2="0" y2="362.3"><stop offset="0.00" stop-color="#9b1422"/><stop offset="0.50" stop-color="#cc491d"/><stop offset="1.00" stop-color="#dca923"/></linearGradient><linearGradient id="c124" gradientUnits="userSpaceOnUse" x1="0" y1="372.9" x2="0" y2="365.5"><stop offset="0.00" stop-color="#a11423"/><stop offset="1.00" stop-color="#d95c1d"/></linearGradient><linearGradient id="c125" gradientUnits="userSpaceOnUse" x1="0" y1="374.4" x2="0" y2="365.9"><stop offset="0.00" stop-color="#af1626"/><stop offset="0.50" stop-color="#da3122"/><stop offset="1.00" stop-color="#f18122"/></linearGradient></defs>
<polygon points="97.9,412.0 146.0,361.5 89.6,330.8 33.0,359.7" fill="#ae121d"/>
<path d="M97.9 412.0L33.0 359.7M97.9 412.0L146.0 361.5M99.8 410.0L35.1 358.6M95.6 410.1L144.1 360.5M101.6 408.1L37.1 357.6M93.3 408.3L142.3 359.5M103.5 406.2L39.1 356.6M91.1 406.5L140.5 358.5M105.2 404.3L41.1 355.6M88.9 404.8L138.7 357.5M106.9 402.5L43.1 354.6M86.8 403.0L136.9 356.5M108.6 400.7L45.0 353.6M84.6 401.3L135.1 355.6M110.3 399.0L46.8 352.6M82.5 399.6L133.3 354.6M111.9 397.3L48.7 351.7M80.5 398.0L131.6 353.7M113.5 395.7L50.5 350.8M78.4 396.3L129.9 352.7M115.0 394.0L52.2 349.9M76.4 394.7L128.2 351.8M116.5 392.4L54.0 349.0M74.5 393.1L126.5 350.9M118.0 390.9L55.7 348.1M72.5 391.5L124.9 350.0M119.4 389.4L57.4 347.2M70.6 390.0L123.2 349.1M120.9 387.9L59.0 346.4M68.7 388.5L121.6 348.2M122.3 386.4L60.7 345.6M66.8 387.0L120.0 347.3M123.6 385.0L62.3 344.8M65.0 385.5L118.4 346.5M124.9 383.6L63.9 343.9M63.2 384.0L116.8 345.6M126.3 382.2L65.4 343.2M61.4 382.6L115.3 344.8M127.5 380.9L66.9 342.4M59.6 381.2L113.7 343.9M128.8 379.6L68.4 341.6M57.9 379.8L112.2 343.1M130.0 378.3L69.9 340.9M56.2 378.4L110.7 342.3M131.2 377.0L71.4 340.1M54.5 377.0L109.2 341.5M132.4 375.8L72.8 339.4M52.8 375.7L107.7 340.6M133.6 374.5L74.2 338.7M51.2 374.4L106.2 339.8M134.7 373.3L75.6 337.9M49.6 373.0L104.8 339.0M135.8 372.2L77.0 337.2M48.0 371.8L103.3 338.3M136.9 371.0L78.3 336.6M46.4 370.5L101.9 337.5M138.0 369.9L79.6 335.9M44.8 369.2L100.5 336.7M139.1 368.8L81.0 335.2M43.3 368.0L99.1 335.9M140.1 367.7L82.2 334.6M41.7 366.7L97.7 335.2M141.1 366.6L83.5 333.9M40.2 365.5L96.3 334.4M142.1 365.5L84.8 333.3M38.8 364.3L94.9 333.7M143.1 364.5L86.0 332.6M37.3 363.2L93.6 333.0M144.1 363.5L87.2 332.0M35.8 362.0L92.2 332.2M145.1 362.5L88.4 331.4M34.4 360.8L90.9 331.5M146.0 361.5L89.6 330.8M33.0 359.7L89.6 330.8" stroke="#1a0204" stroke-width="0.50" fill="none"/>
<g stroke="#2a0808" stroke-width="0.26" stroke-linejoin="round"><polygon points="91.2,345.1 92.8,346.0 91.0,345.0 89.5,345.9" fill="#b91925"/>
<polygon points="61.1,345.6 63.3,346.2 61.6,345.1 59.4,344.1" fill="#b01921"/>
<polygon points="89.6,344.7 91.2,345.1 89.5,345.9 87.8,346.9" fill="#cf3036"/>
<polygon points="93.1,344.8 94.6,347.1 92.8,346.0 91.2,345.1" fill="#b91b20"/>
<polygon points="55.3,320.3 61.1,345.6 59.4,344.1 54.7,327.4" fill="url(#c1)"/>
<polygon points="62.8,346.0 65.0,347.3 63.3,346.2 61.1,345.6" fill="#b51922"/>
<polygon points="88.0,347.0 89.6,344.7 87.8,346.9 86.2,347.9" fill="#d13b40"/>
<polygon points="91.5,342.5 93.1,344.8 91.2,345.1 89.6,344.7" fill="url(#c2)"/>
<polygon points="94.9,347.2 96.5,348.2 94.6,347.1 93.1,344.8" fill="#af191e"/>
<polygon points="51.0,307.3 55.3,320.3 54.7,327.4 49.9,312.0" fill="url(#c3)"/>
<polygon points="58.2,328.5 62.8,346.0 61.1,345.6 55.3,320.3" fill="url(#c4)"/>
<polygon points="64.6,347.9 66.7,348.4 65.0,347.3 62.8,346.0" fill="#af1821"/>
<polygon points="86.3,350.0 88.0,347.0 86.2,347.9 84.5,348.9" fill="#bf2d38"/>
<polygon points="89.8,346.8 91.5,342.5 89.6,344.7 88.0,347.0" fill="url(#c5)"/>
<polygon points="93.3,346.9 94.9,347.2 93.1,344.8 91.5,342.5" fill="url(#c6)"/>
<polygon points="96.8,350.3 98.3,349.3 96.5,348.2 94.9,347.2" fill="#a91722"/>
<polygon points="45.2,287.4 51.0,307.3 49.9,312.0 46.5,306.6" fill="url(#c7)"/>
<polygon points="53.7,313.6 58.2,328.5 55.3,320.3 51.0,307.3" fill="url(#c8)"/>
<polygon points="61.3,339.0 64.6,347.9 62.8,346.0 58.2,328.5" fill="url(#c9)"/>
<polygon points="66.3,348.7 68.4,349.5 66.7,348.4 64.6,347.9" fill="#b31922"/>
<polygon points="88.2,351.2 89.8,346.8 88.0,347.0 86.3,350.0" fill="#d13b40"/>
<polygon points="91.7,349.2 93.3,346.9 91.5,342.5 89.8,346.8" fill="url(#c10)"/>
<polygon points="95.2,351.3 96.8,350.3 94.9,347.2 93.3,346.9" fill="#af191e"/>
<polygon points="46.1,308.8 45.2,287.4 46.5,306.6 45.1,313.6" fill="url(#c11)"/>
<polygon points="50.9,311.0 53.7,313.6 51.0,307.3 45.2,287.4" fill="url(#c12)"/>
<polygon points="58.4,333.8 61.3,339.0 58.2,328.5 53.7,313.6" fill="url(#c13)"/>
<polygon points="63.7,344.4 66.3,348.7 64.6,347.9 61.3,339.0" fill="url(#c14)"/>
<polygon points="68.1,350.7 70.2,350.7 68.4,349.5 66.3,348.7" fill="#af1821"/>
<polygon points="90.0,352.3 91.7,349.2 89.8,346.8 88.2,351.2" fill="#cf3036"/>
<polygon points="93.6,352.4 95.2,351.3 93.3,346.9 91.7,349.2" fill="#b91b20"/>
<polygon points="47.2,330.6 46.1,308.8 45.1,313.6 46.5,335.5" fill="url(#c15)"/>
<polygon points="49.3,317.4 50.9,311.0 45.2,287.4 46.1,308.8" fill="url(#c16)"/>
<polygon points="55.3,328.5 58.4,333.8 53.7,313.6 50.9,311.0" fill="url(#c17)"/>
<polygon points="60.3,335.5 63.7,344.4 61.3,339.0 58.4,333.8" fill="url(#c18)"/>
<polygon points="65.4,344.4 68.1,350.7 66.3,348.7 63.7,344.4" fill="url(#c19)"/>
<polygon points="69.9,351.9 72.0,351.9 70.2,350.7 68.1,350.7" fill="#b11823"/>
<polygon points="91.9,353.5 93.6,352.4 91.7,349.2 90.0,352.3" fill="#b91925"/>
<polygon points="45.8,336.9 47.2,330.6 46.5,335.5 43.1,330.9" fill="url(#c20)"/>
<polygon points="49.9,336.7 49.3,317.4 46.1,308.8 47.2,330.6" fill="url(#c21)"/>
<polygon points="54.1,337.0 55.3,328.5 50.9,311.0 49.3,317.4" fill="url(#c22)"/>
<polygon points="58.7,340.5 60.3,335.5 58.4,333.8 55.3,328.5" fill="url(#c23)"/>
<polygon points="63.1,344.1 65.4,344.4 63.7,344.4 60.3,335.5" fill="url(#c24)"/>
<polygon points="67.7,349.9 69.9,351.9 68.1,350.7 65.4,344.4" fill="url(#c25)"/>
<polygon points="71.8,354.2 73.8,353.1 72.0,351.9 69.9,351.9" fill="#ac1623"/>
<polygon points="42.4,332.7 45.8,336.9 43.1,330.9 41.7,337.0" fill="url(#c26)"/>
<polygon points="46.5,331.6 49.9,336.7 47.2,330.6 45.8,336.9" fill="url(#c27)"/>
<polygon points="50.7,330.9 54.1,337.0 49.3,317.4 49.9,336.7" fill="url(#c28)"/>
<polygon points="55.5,334.7 58.7,340.5 55.3,328.5 54.1,337.0" fill="url(#c29)"/>
<polygon points="60.4,340.1 63.1,344.1 60.3,335.5 58.7,340.5" fill="url(#c30)"/>
<polygon points="64.9,344.4 67.7,349.9 65.4,344.4 63.1,344.1" fill="url(#c31)"/>
<polygon points="69.9,355.3 71.8,354.2 69.9,351.9 67.7,349.9" fill="url(#c32)"/>
<polygon points="41.4,341.0 42.4,332.7 41.7,337.0 38.4,334.0" fill="url(#c33)"/>
<polygon points="45.4,340.0 46.5,331.6 45.8,336.9 42.4,332.7" fill="url(#c34)"/>
<polygon points="49.5,339.3 50.7,330.9 49.9,336.7 46.5,331.6" fill="url(#c35)"/>
<polygon points="54.1,342.0 55.5,334.7 54.1,337.0 50.7,330.9" fill="url(#c36)"/>
<polygon points="58.7,345.0 60.4,340.1 58.7,340.5 55.5,334.7" fill="url(#c37)"/>
<polygon points="63.1,348.1 64.9,344.4 63.1,344.1 60.4,340.1" fill="url(#c38)"/>
<polygon points="67.8,355.3 69.9,355.3 67.7,349.9 64.9,344.4" fill="url(#c39)"/>
<polygon points="38.0,337.4 41.4,341.0 38.4,334.0 37.2,341.3" fill="url(#c40)"/>
<polygon points="42.0,335.5 45.4,340.0 42.4,332.7 41.4,341.0" fill="url(#c41)"/>
<polygon points="45.9,333.4 49.5,339.3 46.5,331.6 45.4,340.0" fill="url(#c42)"/>
<polygon points="50.9,337.1 54.1,342.0 50.7,330.9 49.5,339.3" fill="url(#c43)"/>
<polygon points="55.7,341.2 58.7,345.0 55.5,334.7 54.1,342.0" fill="url(#c44)"/>
<polygon points="60.5,346.0 63.1,348.1 60.4,340.1 58.7,345.0" fill="url(#c45)"/>
<polygon points="65.7,355.9 67.8,355.3 64.9,344.4 63.1,348.1" fill="url(#c46)"/>
<polygon points="69.8,357.8 71.7,356.6 69.9,355.3 67.8,355.3" fill="#ab1623"/>
<polygon points="81.0,353.8 83.0,356.8 81.1,355.6 79.3,356.7" fill="url(#c47)"/>
<polygon points="84.8,354.0 86.8,356.9 84.8,355.6 83.0,356.8" fill="url(#c48)"/>
<polygon points="36.2,342.4 38.0,337.4 37.2,341.3 33.3,335.9" fill="url(#c49)"/>
<polygon points="40.9,344.3 42.0,335.5 41.4,341.0 38.0,337.4" fill="url(#c50)"/>
<polygon points="44.9,342.5 45.9,333.4 45.4,340.0 42.0,335.5" fill="url(#c51)"/>
<polygon points="49.5,344.3 50.9,337.1 49.5,339.3 45.9,333.4" fill="url(#c52)"/>
<polygon points="54.0,346.4 55.7,341.2 54.1,342.0 50.9,337.1" fill="url(#c53)"/>
<polygon points="58.7,350.2 60.5,346.0 58.7,345.0 55.7,341.2" fill="url(#c54)"/>
<polygon points="63.7,357.7 65.7,355.9 63.1,348.1 60.5,346.0" fill="url(#c55)"/>
<polygon points="67.7,359.0 69.8,357.8 67.8,355.3 65.7,355.9" fill="#af1822"/>
<polygon points="78.9,351.7 81.0,353.8 79.3,356.7 77.4,357.9" fill="url(#c56)"/>
<polygon points="82.8,350.8 84.8,354.0 83.0,356.8 81.0,353.8" fill="url(#c57)"/>
<polygon points="86.8,355.2 88.7,358.1 86.8,356.9 84.8,354.0" fill="url(#c58)"/>
<polygon points="34.1,345.8 36.2,342.4 33.3,335.9 33.1,348.0" fill="url(#c59)"/>
<polygon points="37.2,339.5 40.9,344.3 38.0,337.4 36.2,342.4" fill="url(#c60)"/>
<polygon points="41.9,340.6 44.9,342.5 42.0,335.5 40.9,344.3" fill="url(#c61)"/>
<polygon points="46.4,341.3 49.5,344.3 45.9,333.4 44.9,342.5" fill="url(#c62)"/>
<polygon points="51.0,343.1 54.0,346.4 50.9,337.1 49.5,344.3" fill="url(#c63)"/>
<polygon points="56.1,348.6 58.7,350.2 55.7,341.2 54.0,346.4" fill="url(#c64)"/>
<polygon points="61.5,358.5 63.7,357.7 60.5,346.0 58.7,350.2" fill="url(#c65)"/>
<polygon points="65.7,360.2 67.7,359.0 65.7,355.9 63.7,357.7" fill="#b41922"/>
<polygon points="73.4,358.6 75.5,359.1 73.6,357.8 71.6,359.0" fill="#b71825"/>
<polygon points="76.7,348.8 78.9,351.7 77.4,357.9 75.5,359.1" fill="url(#c66)"/>
<polygon points="80.7,347.1 82.8,350.8 81.0,353.8 78.9,351.7" fill="url(#c67)"/>
<polygon points="84.8,349.5 86.8,355.2 84.8,354.0 82.8,350.8" fill="url(#c68)"/>
<polygon points="88.9,358.9 90.7,359.4 88.7,358.1 86.8,355.2" fill="url(#c69)"/>
<polygon points="33.7,356.9 34.1,345.8 33.1,348.0 31.7,354.3" fill="url(#c70)"/>
<polygon points="36.7,350.5 37.2,339.5 36.2,342.4 34.1,345.8" fill="url(#c71)"/>
<polygon points="40.1,346.1 41.9,340.6 40.9,344.3 37.2,339.5" fill="url(#c72)"/>
<polygon points="44.9,348.0 46.4,341.3 44.9,342.5 41.9,340.6" fill="url(#c73)"/>
<polygon points="49.5,349.7 51.0,343.1 49.5,344.3 46.4,341.3" fill="url(#c74)"/>
<polygon points="54.2,352.8 56.1,348.6 54.0,346.4 51.0,343.1" fill="url(#c75)"/>
<polygon points="59.4,360.1 61.5,358.5 58.7,350.2 56.1,348.6" fill="url(#c76)"/>
<polygon points="63.5,361.5 65.7,360.2 63.7,357.7 61.5,358.5" fill="#af1823"/>
<polygon points="71.4,360.3 73.4,358.6 71.6,359.0 69.6,360.3" fill="#c22a33"/>
<polygon points="74.8,352.6 76.7,348.8 75.5,359.1 73.4,358.6" fill="url(#c77)"/>
<polygon points="78.8,351.4 80.7,347.1 78.9,351.7 76.7,348.8" fill="url(#c78)"/>
<polygon points="82.9,351.8 84.8,349.5 82.8,350.8 80.7,347.1" fill="url(#c79)"/>
<polygon points="86.9,355.4 88.9,358.9 86.8,355.2 84.8,349.5" fill="url(#c80)"/>
<polygon points="90.9,361.9 92.7,360.7 90.7,359.4 88.9,358.9" fill="#ab1623"/>
<polygon points="35.2,357.1 36.7,350.5 34.1,345.8 33.7,356.9" fill="url(#c81)"/>
<polygon points="37.8,348.2 40.1,346.1 37.2,339.5 36.7,350.5" fill="url(#c82)"/>
<polygon points="41.2,342.8 44.9,348.0 41.9,340.6 40.1,346.1" fill="url(#c83)"/>
<polygon points="46.0,345.0 49.5,349.7 46.4,341.3 44.9,348.0" fill="url(#c84)"/>
<polygon points="51.2,349.9 54.2,352.8 51.0,343.1 49.5,349.7" fill="url(#c85)"/>
<polygon points="57.1,361.1 59.4,360.1 56.1,348.6 54.2,352.8" fill="url(#c86)"/>
<polygon points="61.4,362.8 63.5,361.5 61.5,358.5 59.4,360.1" fill="#b31923"/>
<polygon points="69.5,362.9 71.4,360.3 69.6,360.3 67.5,361.5" fill="#b92430"/>
<polygon points="72.6,352.0 74.8,352.6 73.4,358.6 71.4,360.3" fill="url(#c87)"/>
<polygon points="76.6,350.4 78.8,351.4 76.7,348.8 74.8,352.6" fill="#e4ea3d"/>
<polygon points="80.8,350.7 82.9,351.8 80.7,347.1 78.8,351.4" fill="#d3e432"/>
<polygon points="84.9,350.6 86.9,355.4 84.8,349.5 82.9,351.8" fill="url(#c88)"/>
<polygon points="89.1,363.2 90.9,361.9 88.9,358.9 86.9,355.4" fill="url(#c89)"/>
<polygon points="37.4,360.2 37.8,348.2 36.7,350.5 35.2,357.1" fill="url(#c90)"/>
<polygon points="40.6,354.7 41.2,342.8 40.1,346.1 37.8,348.2" fill="url(#c91)"/>
<polygon points="44.3,350.7 46.0,345.0 44.9,348.0 41.2,342.8" fill="url(#c92)"/>
<polygon points="49.3,354.1 51.2,349.9 49.5,349.7 46.0,345.0" fill="url(#c93)"/>
<polygon points="54.8,362.7 57.1,361.1 54.2,352.8 51.2,349.9" fill="url(#c94)"/>
<polygon points="59.2,364.1 61.4,362.8 59.4,360.1 57.1,361.1" fill="#b01823"/>
<polygon points="70.7,356.5 72.6,352.0 71.4,360.3 69.5,362.9" fill="url(#c95)"/>
<polygon points="74.8,355.4 76.6,350.4 74.8,352.6 72.6,352.0" fill="#f0ed3f"/>
<polygon points="78.9,355.3 80.8,350.7 78.8,351.4 76.6,350.4" fill="#dfe732"/>
<polygon points="83.0,355.3 84.9,350.6 82.9,351.8 80.8,350.7" fill="#e2e934"/>
<polygon points="87.2,361.6 89.1,363.2 86.9,355.4 84.9,350.6" fill="url(#c96)"/>
<polygon points="39.0,360.4 40.6,354.7 37.8,348.2 37.4,360.2" fill="url(#c97)"/>
<polygon points="42.0,353.2 44.3,350.7 41.2,342.8 40.6,354.7" fill="url(#c98)"/>
<polygon points="46.2,352.0 49.3,354.1 46.0,345.0 44.3,350.7" fill="url(#c99)"/>
<polygon points="52.4,363.5 54.8,362.7 51.2,349.9 49.3,354.1" fill="url(#c100)"/>
<polygon points="56.9,365.5 59.2,364.1 57.1,361.1 54.8,362.7" fill="#b31923"/>
<polygon points="68.6,358.5 70.7,356.5 69.5,362.9 67.3,364.2" fill="url(#c101)"/>
<polygon points="72.5,354.8 74.8,355.4 72.6,352.0 70.7,356.5" fill="#faea39"/>
<polygon points="76.7,354.1 78.9,355.3 76.6,350.4 74.8,355.4" fill="#edeb33"/>
<polygon points="80.9,353.5 83.0,355.3 80.8,350.7 78.9,355.3" fill="#e9eb31"/>
<polygon points="85.2,358.7 87.2,361.6 84.9,350.6 83.0,355.3" fill="url(#c102)"/>
<polygon points="89.3,365.8 91.1,364.5 89.1,363.2 87.2,361.6" fill="#a81721"/>
<polygon points="41.1,363.3 42.0,353.2 40.6,354.7 39.0,360.4" fill="url(#c103)"/>
<polygon points="44.9,360.4 46.2,352.0 44.3,350.7 42.0,353.2" fill="url(#c104)"/>
<polygon points="50.1,365.4 52.4,363.5 49.3,354.1 46.2,352.0" fill="url(#c105)"/>
<polygon points="54.6,366.9 56.9,365.5 54.8,362.7 52.4,363.5" fill="#af1821"/>
<polygon points="67.0,365.4 68.6,358.5 67.3,364.2 65.2,365.6" fill="url(#c106)"/>
<polygon points="70.6,359.3 72.5,354.8 70.7,356.5 68.6,358.5" fill="#fad547"/>
<polygon points="74.8,359.0 76.7,354.1 74.8,355.4 72.5,354.8" fill="#faee37"/>
<polygon points="79.0,358.6 80.9,353.5 78.9,355.3 76.7,354.1" fill="#f2ed36"/>
<polygon points="83.2,360.6 85.2,358.7 83.0,355.3 80.9,353.5" fill="url(#c107)"/>
<polygon points="87.4,367.2 89.3,365.8 87.2,361.6 85.2,358.7" fill="url(#c108)"/>
<polygon points="42.9,364.5 44.9,360.4 42.0,353.2 41.1,363.3" fill="url(#c109)"/>
<polygon points="47.7,367.0 50.1,365.4 46.2,352.0 44.9,360.4" fill="url(#c110)"/>
<polygon points="52.2,368.3 54.6,366.9 52.4,363.5 50.1,365.4" fill="#b41922"/>
<polygon points="65.0,368.4 67.0,365.4 65.2,365.6 63.0,366.9" fill="#bb2633"/>
<polygon points="68.5,361.4 70.6,359.3 68.6,358.5 67.0,365.4" fill="url(#c111)"/>
<polygon points="72.5,358.5 74.8,359.0 72.5,354.8 70.6,359.3" fill="#f9de31"/>
<polygon points="76.7,357.3 79.0,358.6 76.7,354.1 74.8,359.0" fill="#faeb33"/>
<polygon points="81.1,361.1 83.2,360.6 80.9,353.5 79.0,358.6" fill="url(#c112)"/>
<polygon points="85.5,368.6 87.4,367.2 85.2,358.7 83.2,360.6" fill="url(#c113)"/>
<polygon points="45.4,369.7 47.7,367.0 44.9,360.4 42.9,364.5" fill="url(#c114)"/>
<polygon points="49.8,369.7 52.2,368.3 50.1,365.4 47.7,367.0" fill="#b21823"/>
<polygon points="66.8,368.4 68.5,361.4 67.0,365.4 65.0,368.4" fill="url(#c115)"/>
<polygon points="70.6,363.8 72.5,358.5 70.6,359.3 68.5,361.4" fill="#f9c73e"/>
<polygon points="74.8,362.3 76.7,357.3 74.8,359.0 72.5,358.5" fill="#f9df38"/>
<polygon points="79.2,365.5 81.1,361.1 79.0,358.6 76.7,357.3" fill="url(#c116)"/>
<polygon points="83.5,370.0 85.5,368.6 83.2,360.6 81.1,361.1" fill="url(#c117)"/>
<polygon points="47.3,371.2 49.8,369.7 47.7,367.0 45.4,369.7" fill="#b51825"/>
<polygon points="64.7,371.3 66.8,368.4 65.0,368.4 62.7,369.8" fill="#b92531"/>
<polygon points="68.7,368.6 70.6,363.8 68.5,361.4 66.8,368.4" fill="url(#c118)"/>
<polygon points="72.8,365.9 74.8,362.3 72.5,358.5 70.6,363.8" fill="url(#c119)"/>
<polygon points="77.2,369.2 79.2,365.5 76.7,357.3 74.8,362.3" fill="url(#c120)"/>
<polygon points="81.5,371.4 83.5,370.0 81.1,361.1 79.2,365.5" fill="url(#c121)"/>
<polygon points="66.7,372.9 68.7,368.6 66.8,368.4 64.7,371.3" fill="#c7323a"/>
<polygon points="71.0,372.9 72.8,365.9 70.6,363.8 68.7,368.6" fill="url(#c122)"/>
<polygon points="75.2,372.9 77.2,369.2 74.8,362.3 72.8,365.9" fill="url(#c123)"/>
<polygon points="79.4,372.9 81.5,371.4 79.2,365.5 77.2,369.2" fill="url(#c124)"/>
<polygon points="68.8,374.4 71.0,372.9 68.7,368.6 66.7,372.9" fill="#bb1925"/>
<polygon points="73.1,374.4 75.2,372.9 72.8,365.9 71.0,372.9" fill="url(#c125)"/>
<polygon points="77.3,374.4 79.4,372.9 77.2,369.2 75.2,372.9" fill="#b91925"/></g>
<defs><linearGradient id="d1" gradientUnits="userSpaceOnUse" x1="0" y1="481.1" x2="0" y2="479.8"><stop offset="0.00" stop-color="#b62c3a"/><stop offset="1.00" stop-color="#ec6e35"/></linearGradient><linearGradient id="d2" gradientUnits="userSpaceOnUse" x1="0" y1="482.3" x2="0" y2="480.0"><stop offset="0.00" stop-color="#9f1422"/><stop offset="1.00" stop-color="#d4561d"/></linearGradient><linearGradient id="d3" gradientUnits="userSpaceOnUse" x1="0" y1="482.0" x2="0" y2="479.8"><stop offset="0.00" stop-color="#ba3744"/><stop offset="1.00" stop-color="#ed753f"/></linearGradient><linearGradient id="d4" gradientUnits="userSpaceOnUse" x1="0" y1="480.2" x2="0" y2="477.7"><stop offset="0.00" stop-color="#d82d22"/><stop offset="0.50" stop-color="#f28522"/><stop offset="1.00" stop-color="#f9ce2a"/></linearGradient><linearGradient id="d5" gradientUnits="userSpaceOnUse" x1="0" y1="483.4" x2="0" y2="480.0"><stop offset="0.00" stop-color="#971321"/><stop offset="1.00" stop-color="#c9521c"/></linearGradient><linearGradient id="d6" gradientUnits="userSpaceOnUse" x1="0" y1="482.8" x2="0" y2="457.7"><stop offset="0.00" stop-color="#89111e"/><stop offset="0.17" stop-color="#bc631b"/><stop offset="0.33" stop-color="#beb926"/><stop offset="0.50" stop-color="#76a82c"/><stop offset="0.67" stop-color="#3a9641"/><stop offset="0.83" stop-color="#3b9f95"/><stop offset="1.00" stop-color="#42a1ba"/></linearGradient><linearGradient id="d7" gradientUnits="userSpaceOnUse" x1="0" y1="482.1" x2="0" y2="477.7"><stop offset="0.00" stop-color="#df5148"/><stop offset="0.50" stop-color="#f49a48"/><stop offset="1.00" stop-color="#fad64f"/></linearGradient><linearGradient id="d8" gradientUnits="userSpaceOnUse" x1="0" y1="482.4" x2="0" y2="477.7"><stop offset="0.00" stop-color="#b3251c"/><stop offset="0.50" stop-color="#c86e1c"/><stop offset="1.00" stop-color="#ceab23"/></linearGradient><linearGradient id="d9" gradientUnits="userSpaceOnUse" x1="0" y1="464.1" x2="0" y2="445.4"><stop offset="0.00" stop-color="#3a9b5c"/><stop offset="0.17" stop-color="#3ca29a"/><stop offset="0.33" stop-color="#46a8bf"/><stop offset="0.50" stop-color="#3c96bd"/><stop offset="0.67" stop-color="#327bb5"/><stop offset="0.83" stop-color="#2758aa"/><stop offset="1.00" stop-color="#224196"/></linearGradient><linearGradient id="d10" gradientUnits="userSpaceOnUse" x1="0" y1="484.0" x2="0" y2="457.7"><stop offset="0.00" stop-color="#89111e"/><stop offset="0.17" stop-color="#bc631b"/><stop offset="0.33" stop-color="#beb926"/><stop offset="0.50" stop-color="#76a82c"/><stop offset="0.67" stop-color="#3a9641"/><stop offset="0.83" stop-color="#3b9f95"/><stop offset="1.00" stop-color="#42a1ba"/></linearGradient><linearGradient id="d11" gradientUnits="userSpaceOnUse" x1="0" y1="486.1" x2="0" y2="481.8"><stop offset="0.00" stop-color="#ba3744"/><stop offset="1.00" stop-color="#ed753f"/></linearGradient><linearGradient id="d12" gradientUnits="userSpaceOnUse" x1="0" y1="484.3" x2="0" y2="477.7"><stop offset="0.00" stop-color="#d82d22"/><stop offset="0.50" stop-color="#f28522"/><stop offset="1.00" stop-color="#f9ce2a"/></linearGradient><linearGradient id="d13" gradientUnits="userSpaceOnUse" x1="0" y1="486.4" x2="0" y2="482.0"><stop offset="0.00" stop-color="#971321"/><stop offset="1.00" stop-color="#c9521c"/></linearGradient><linearGradient id="d14" gradientUnits="userSpaceOnUse" x1="0" y1="449.7" x2="0" y2="426.7"><stop offset="0.00" stop-color="#3885da"/><stop offset="0.17" stop-color="#2b5ac3"/><stop offset="0.33" stop-color="#283da1"/><stop offset="0.50" stop-color="#4e3198"/><stop offset="0.67" stop-color="#8930a0"/><stop offset="0.83" stop-color="#cf3eb9"/><stop offset="1.00" stop-color="#ec54ca"/></linearGradient><linearGradient id="d15" gradientUnits="userSpaceOnUse" x1="0" y1="465.4" x2="0" y2="445.4"><stop offset="0.00" stop-color="#389a6c"/><stop offset="0.20" stop-color="#41a4a9"/><stop offset="0.40" stop-color="#409aba"/><stop offset="0.60" stop-color="#3583b6"/><stop offset="0.80" stop-color="#285ba9"/><stop offset="1.00" stop-color="#224093"/></linearGradient><linearGradient id="d16" gradientUnits="userSpaceOnUse" x1="0" y1="485.2" x2="0" y2="465.4"><stop offset="0.00" stop-color="#89111e"/><stop offset="0.20" stop-color="#ba5619"/><stop offset="0.40" stop-color="#c3b024"/><stop offset="0.60" stop-color="#8caf2a"/><stop offset="0.80" stop-color="#4d9a30"/><stop offset="1.00" stop-color="#389a6c"/></linearGradient><linearGradient id="d17" gradientUnits="userSpaceOnUse" x1="0" y1="487.3" x2="0" y2="481.8"><stop offset="0.00" stop-color="#b62c3a"/><stop offset="1.00" stop-color="#ec6e35"/></linearGradient><linearGradient id="d18" gradientUnits="userSpaceOnUse" x1="0" y1="487.4" x2="0" y2="482.0"><stop offset="0.00" stop-color="#9f1422"/><stop offset="1.00" stop-color="#d4561d"/></linearGradient><linearGradient id="d19" gradientUnits="userSpaceOnUse" x1="0" y1="451.1" x2="0" y2="426.7"><stop offset="0.00" stop-color="#65a3e5"/><stop offset="0.17" stop-color="#5a7fd4"/><stop offset="0.33" stop-color="#5869b9"/><stop offset="0.50" stop-color="#755fb1"/><stop offset="0.67" stop-color="#a45eb7"/><stop offset="0.83" stop-color="#db69cb"/><stop offset="1.00" stop-color="#f37ad8"/></linearGradient><linearGradient id="d20" gradientUnits="userSpaceOnUse" x1="0" y1="451.5" x2="0" y2="426.7"><stop offset="0.00" stop-color="#2b66ac"/><stop offset="0.17" stop-color="#22459a"/><stop offset="0.33" stop-color="#20307e"/><stop offset="0.50" stop-color="#3f2779"/><stop offset="0.67" stop-color="#6e2680"/><stop offset="0.83" stop-color="#a43293"/><stop offset="1.00" stop-color="#bb42a0"/></linearGradient><linearGradient id="d21" gradientUnits="userSpaceOnUse" x1="0" y1="480.1" x2="0" y2="451.5"><stop offset="0.00" stop-color="#c1921e"/><stop offset="0.17" stop-color="#9cb229"/><stop offset="0.33" stop-color="#509c30"/><stop offset="0.50" stop-color="#379a78"/><stop offset="0.67" stop-color="#45a7b9"/><stop offset="0.83" stop-color="#3a90b8"/><stop offset="1.00" stop-color="#2b66ac"/></linearGradient><linearGradient id="d22" gradientUnits="userSpaceOnUse" x1="0" y1="486.4" x2="0" y2="480.1"><stop offset="0.00" stop-color="#8e121f"/><stop offset="0.50" stop-color="#b9401b"/><stop offset="1.00" stop-color="#c99720"/></linearGradient><linearGradient id="d23" gradientUnits="userSpaceOnUse" x1="0" y1="468.6" x2="0" y2="446.8"><stop offset="0.00" stop-color="#72ce7a"/><stop offset="0.17" stop-color="#6fd5c3"/><stop offset="0.33" stop-color="#7ddfef"/><stop offset="0.50" stop-color="#76cff1"/><stop offset="0.67" stop-color="#6cb6ec"/><stop offset="0.83" stop-color="#5f93e0"/><stop offset="1.00" stop-color="#5a7acc"/></linearGradient><linearGradient id="d24" gradientUnits="userSpaceOnUse" x1="0" y1="455.1" x2="0" y2="426.7"><stop offset="0.00" stop-color="#3c93d3"/><stop offset="0.17" stop-color="#2a60c2"/><stop offset="0.33" stop-color="#2741a1"/><stop offset="0.50" stop-color="#3d308f"/><stop offset="0.67" stop-color="#742b92"/><stop offset="0.83" stop-color="#be39ab"/><stop offset="1.00" stop-color="#dd4ebc"/></linearGradient><linearGradient id="d25" gradientUnits="userSpaceOnUse" x1="0" y1="470.6" x2="0" y2="449.1"><stop offset="0.00" stop-color="#429732"/><stop offset="0.17" stop-color="#379a72"/><stop offset="0.33" stop-color="#40a3a6"/><stop offset="0.50" stop-color="#429eba"/><stop offset="0.67" stop-color="#388cb7"/><stop offset="0.83" stop-color="#2d6cae"/><stop offset="1.00" stop-color="#234ba0"/></linearGradient><linearGradient id="d26" gradientUnits="userSpaceOnUse" x1="0" y1="483.7" x2="0" y2="470.6"><stop offset="0.00" stop-color="#b94e19"/><stop offset="0.25" stop-color="#c39f21"/><stop offset="0.50" stop-color="#a9b528"/><stop offset="0.75" stop-color="#75a82d"/><stop offset="1.00" stop-color="#429732"/></linearGradient><linearGradient id="d27" gradientUnits="userSpaceOnUse" x1="0" y1="487.5" x2="0" y2="483.7"><stop offset="0.00" stop-color="#961321"/><stop offset="1.00" stop-color="#ca561b"/></linearGradient><linearGradient id="d28" gradientUnits="userSpaceOnUse" x1="0" y1="468.6" x2="0" y2="463.2"><stop offset="0.00" stop-color="#4abf54"/><stop offset="0.50" stop-color="#46c6a3"/><stop offset="1.00" stop-color="#53d0d7"/></linearGradient><linearGradient id="d29" gradientUnits="userSpaceOnUse" x1="0" y1="470.5" x2="0" y2="446.8"><stop offset="0.00" stop-color="#70ce7f"/><stop offset="0.17" stop-color="#6ed5c5"/><stop offset="0.33" stop-color="#7cdff2"/><stop offset="0.50" stop-color="#73ccf1"/><stop offset="0.67" stop-color="#69b5eb"/><stop offset="0.83" stop-color="#5d90df"/><stop offset="1.00" stop-color="#5778cc"/></linearGradient><linearGradient id="d30" gradientUnits="userSpaceOnUse" x1="0" y1="472.5" x2="0" y2="449.1"><stop offset="0.00" stop-color="#449932"/><stop offset="0.17" stop-color="#389b71"/><stop offset="0.33" stop-color="#40a4a7"/><stop offset="0.50" stop-color="#42a0bc"/><stop offset="0.67" stop-color="#398dba"/><stop offset="0.83" stop-color="#2e6daf"/><stop offset="1.00" stop-color="#234ba1"/></linearGradient><linearGradient id="d31" gradientUnits="userSpaceOnUse" x1="0" y1="476.2" x2="0" y2="465.6"><stop offset="0.00" stop-color="#7bac2d"/><stop offset="0.33" stop-color="#499b32"/><stop offset="0.67" stop-color="#399a62"/><stop offset="1.00" stop-color="#3ca199"/></linearGradient><linearGradient id="d32" gradientUnits="userSpaceOnUse" x1="0" y1="485.3" x2="0" y2="474.7"><stop offset="0.00" stop-color="#b5431a"/><stop offset="0.33" stop-color="#c49b20"/><stop offset="0.67" stop-color="#a9b528"/><stop offset="1.00" stop-color="#71a72e"/></linearGradient><linearGradient id="d33" gradientUnits="userSpaceOnUse" x1="0" y1="470.3" x2="0" y2="464.8"><stop offset="0.00" stop-color="#49bd5a"/><stop offset="0.50" stop-color="#45c5aa"/><stop offset="1.00" stop-color="#54cfda"/></linearGradient><linearGradient id="d34" gradientUnits="userSpaceOnUse" x1="0" y1="470.3" x2="0" y2="465.1"><stop offset="0.00" stop-color="#4ac05c"/><stop offset="0.50" stop-color="#46c8ae"/><stop offset="1.00" stop-color="#55d3df"/></linearGradient><linearGradient id="d35" gradientUnits="userSpaceOnUse" x1="0" y1="472.5" x2="0" y2="455.1"><stop offset="0.00" stop-color="#50b43b"/><stop offset="0.25" stop-color="#42b891"/><stop offset="0.50" stop-color="#50c5d2"/><stop offset="0.75" stop-color="#4ab4dc"/><stop offset="1.00" stop-color="#3c95d6"/></linearGradient><linearGradient id="d36" gradientUnits="userSpaceOnUse" x1="0" y1="476.2" x2="0" y2="465.6"><stop offset="0.00" stop-color="#86bc31"/><stop offset="0.33" stop-color="#50a936"/><stop offset="0.67" stop-color="#3ea96b"/><stop offset="1.00" stop-color="#42b0a8"/></linearGradient><linearGradient id="d37" gradientUnits="userSpaceOnUse" x1="0" y1="483.8" x2="0" y2="474.7"><stop offset="0.00" stop-color="#c68d1e"/><stop offset="0.50" stop-color="#b4ba28"/><stop offset="1.00" stop-color="#73aa2e"/></linearGradient><linearGradient id="d38" gradientUnits="userSpaceOnUse" x1="0" y1="490.9" x2="0" y2="483.8"><stop offset="0.00" stop-color="#8f121f"/><stop offset="0.50" stop-color="#b83b1b"/><stop offset="1.00" stop-color="#ca901f"/></linearGradient><linearGradient id="d39" gradientUnits="userSpaceOnUse" x1="0" y1="473.4" x2="0" y2="464.8"><stop offset="0.00" stop-color="#52c045"/><stop offset="0.50" stop-color="#4bc7a0"/><stop offset="1.00" stop-color="#58d4df"/></linearGradient><linearGradient id="d40" gradientUnits="userSpaceOnUse" x1="0" y1="473.5" x2="0" y2="465.1"><stop offset="0.00" stop-color="#4cbe41"/><stop offset="0.50" stop-color="#47c7a0"/><stop offset="1.00" stop-color="#55d3df"/></linearGradient><linearGradient id="d41" gradientUnits="userSpaceOnUse" x1="0" y1="474.6" x2="0" y2="465.1"><stop offset="0.00" stop-color="#5ac03e"/><stop offset="0.50" stop-color="#46c393"/><stop offset="1.00" stop-color="#54d0db"/></linearGradient><linearGradient id="d42" gradientUnits="userSpaceOnUse" x1="0" y1="478.0" x2="0" y2="465.7"><stop offset="0.00" stop-color="#80b530"/><stop offset="0.33" stop-color="#44a136"/><stop offset="0.67" stop-color="#3ca680"/><stop offset="1.00" stop-color="#46b0b6"/></linearGradient><linearGradient id="d43" gradientUnits="userSpaceOnUse" x1="0" y1="483.6" x2="0" y2="470.6"><stop offset="0.00" stop-color="#c6b424"/><stop offset="0.33" stop-color="#8eb12b"/><stop offset="0.67" stop-color="#519d31"/><stop offset="1.00" stop-color="#399b66"/></linearGradient><linearGradient id="d44" gradientUnits="userSpaceOnUse" x1="0" y1="492.1" x2="0" y2="479.8"><stop offset="0.00" stop-color="#89111e"/><stop offset="0.33" stop-color="#b84b19"/><stop offset="0.67" stop-color="#c3a322"/><stop offset="1.00" stop-color="#a0b429"/></linearGradient><linearGradient id="d45" gradientUnits="userSpaceOnUse" x1="0" y1="473.1" x2="0" y2="464.9"><stop offset="0.00" stop-color="#4ebf41"/><stop offset="0.50" stop-color="#47c698"/><stop offset="1.00" stop-color="#52d1d7"/></linearGradient><linearGradient id="d46" gradientUnits="userSpaceOnUse" x1="0" y1="473.4" x2="0" y2="466.7"><stop offset="0.00" stop-color="#4fbf42"/><stop offset="0.50" stop-color="#48c7a0"/><stop offset="1.00" stop-color="#56d3e0"/></linearGradient><linearGradient id="d47" gradientUnits="userSpaceOnUse" x1="0" y1="474.6" x2="0" y2="465.1"><stop offset="0.00" stop-color="#58bc3d"/><stop offset="0.50" stop-color="#44bf90"/><stop offset="1.00" stop-color="#52cbd7"/></linearGradient><linearGradient id="d48" gradientUnits="userSpaceOnUse" x1="0" y1="478.0" x2="0" y2="465.7"><stop offset="0.00" stop-color="#85bd32"/><stop offset="0.33" stop-color="#47a838"/><stop offset="0.67" stop-color="#3ead85"/><stop offset="1.00" stop-color="#49b8be"/></linearGradient><linearGradient id="d49" gradientUnits="userSpaceOnUse" x1="0" y1="483.6" x2="0" y2="470.6"><stop offset="0.00" stop-color="#cebc26"/><stop offset="0.33" stop-color="#94b82c"/><stop offset="0.67" stop-color="#55a433"/><stop offset="1.00" stop-color="#3ba16a"/></linearGradient><linearGradient id="d50" gradientUnits="userSpaceOnUse" x1="0" y1="493.2" x2="0" y2="479.8"><stop offset="0.00" stop-color="#8b111e"/><stop offset="0.33" stop-color="#bb4c19"/><stop offset="0.67" stop-color="#c6a522"/><stop offset="1.00" stop-color="#a2b629"/></linearGradient><linearGradient id="d51" gradientUnits="userSpaceOnUse" x1="0" y1="491.3" x2="0" y2="483.2"><stop offset="0.00" stop-color="#b72c3a"/><stop offset="0.33" stop-color="#eb6b35"/><stop offset="0.67" stop-color="#facf3e"/><stop offset="1.00" stop-color="#d8e846"/></linearGradient><linearGradient id="d52" gradientUnits="userSpaceOnUse" x1="0" y1="491.4" x2="0" y2="482.4"><stop offset="0.00" stop-color="#a81525"/><stop offset="0.33" stop-color="#e4631f"/><stop offset="0.67" stop-color="#efd02a"/><stop offset="1.00" stop-color="#b9d933"/></linearGradient><linearGradient id="d53" gradientUnits="userSpaceOnUse" x1="0" y1="473.1" x2="0" y2="466.8"><stop offset="0.00" stop-color="#4bb83f"/><stop offset="0.50" stop-color="#44bf90"/><stop offset="1.00" stop-color="#4fc9cd"/></linearGradient><linearGradient id="d54" gradientUnits="userSpaceOnUse" x1="0" y1="476.3" x2="0" y2="466.7"><stop offset="0.00" stop-color="#67c84c"/><stop offset="0.50" stop-color="#53ca9d"/><stop offset="1.00" stop-color="#60d6e2"/></linearGradient><linearGradient id="d55" gradientUnits="userSpaceOnUse" x1="0" y1="475.9" x2="0" y2="466.7"><stop offset="0.00" stop-color="#4cba3f"/><stop offset="0.50" stop-color="#45c29b"/><stop offset="1.00" stop-color="#53ceda"/></linearGradient><linearGradient id="d56" gradientUnits="userSpaceOnUse" x1="0" y1="479.9" x2="0" y2="467.6"><stop offset="0.00" stop-color="#7cb22f"/><stop offset="0.33" stop-color="#429f35"/><stop offset="0.67" stop-color="#3ba37d"/><stop offset="1.00" stop-color="#44adb2"/></linearGradient><linearGradient id="d57" gradientUnits="userSpaceOnUse" x1="0" y1="484.9" x2="0" y2="473.3"><stop offset="0.00" stop-color="#c3be27"/><stop offset="0.33" stop-color="#8db32c"/><stop offset="0.67" stop-color="#57a231"/><stop offset="1.00" stop-color="#3a9b56"/></linearGradient><linearGradient id="d58" gradientUnits="userSpaceOnUse" x1="0" y1="494.4" x2="0" y2="480.9"><stop offset="0.00" stop-color="#89111e"/><stop offset="0.33" stop-color="#ba5419"/><stop offset="0.67" stop-color="#c3ad23"/><stop offset="1.00" stop-color="#91b02a"/></linearGradient><linearGradient id="d59" gradientUnits="userSpaceOnUse" x1="0" y1="492.3" x2="0" y2="491.0"><stop offset="0.00" stop-color="#b62b39"/><stop offset="1.00" stop-color="#ed6e34"/></linearGradient><linearGradient id="d60" gradientUnits="userSpaceOnUse" x1="0" y1="492.4" x2="0" y2="483.5"><stop offset="0.00" stop-color="#c04653"/><stop offset="0.33" stop-color="#f0844e"/><stop offset="0.67" stop-color="#fade58"/><stop offset="1.00" stop-color="#d1e95f"/></linearGradient><linearGradient id="d61" gradientUnits="userSpaceOnUse" x1="0" y1="490.4" x2="0" y2="482.7"><stop offset="0.00" stop-color="#db372c"/><stop offset="0.33" stop-color="#f6a82e"/><stop offset="0.67" stop-color="#f6ee39"/><stop offset="1.00" stop-color="#b4e03f"/></linearGradient><linearGradient id="d62" gradientUnits="userSpaceOnUse" x1="0" y1="491.4" x2="0" y2="482.4"><stop offset="0.00" stop-color="#a0171c"/><stop offset="0.33" stop-color="#bf6b1b"/><stop offset="0.67" stop-color="#c6b324"/><stop offset="1.00" stop-color="#98b32a"/></linearGradient><linearGradient id="d63" gradientUnits="userSpaceOnUse" x1="0" y1="481.7" x2="0" y2="466.8"><stop offset="0.00" stop-color="#d3e95c"/><stop offset="0.25" stop-color="#9fdb62"/><stop offset="0.50" stop-color="#6fcb6b"/><stop offset="0.75" stop-color="#6cd1af"/><stop offset="1.00" stop-color="#74dadd"/></linearGradient><linearGradient id="d64" gradientUnits="userSpaceOnUse" x1="0" y1="476.3" x2="0" y2="469.7"><stop offset="0.00" stop-color="#55b43a"/><stop offset="0.50" stop-color="#42b47d"/><stop offset="1.00" stop-color="#4abfbf"/></linearGradient><linearGradient id="d65" gradientUnits="userSpaceOnUse" x1="0" y1="476.3" x2="0" y2="466.7"><stop offset="0.00" stop-color="#61c645"/><stop offset="0.50" stop-color="#4dc899"/><stop offset="1.00" stop-color="#5ad4e1"/></linearGradient><linearGradient id="d66" gradientUnits="userSpaceOnUse" x1="0" y1="479.9" x2="0" y2="467.6"><stop offset="0.00" stop-color="#81b931"/><stop offset="0.33" stop-color="#45a537"/><stop offset="0.67" stop-color="#3daa82"/><stop offset="1.00" stop-color="#47b4b9"/></linearGradient><linearGradient id="d67" gradientUnits="userSpaceOnUse" x1="0" y1="484.9" x2="0" y2="473.3"><stop offset="0.00" stop-color="#ccc629"/><stop offset="0.33" stop-color="#93ba2e"/><stop offset="0.67" stop-color="#5ba933"/><stop offset="1.00" stop-color="#3da259"/></linearGradient><linearGradient id="d68" gradientUnits="userSpaceOnUse" x1="0" y1="495.6" x2="0" y2="480.9"><stop offset="0.00" stop-color="#8a111e"/><stop offset="0.33" stop-color="#bc5519"/><stop offset="0.67" stop-color="#c5af24"/><stop offset="1.00" stop-color="#92b22b"/></linearGradient><linearGradient id="d69" gradientUnits="userSpaceOnUse" x1="0" y1="493.5" x2="0" y2="489.2"><stop offset="0.00" stop-color="#ba3745"/><stop offset="0.50" stop-color="#ea6c40"/><stop offset="1.00" stop-color="#f9ca46"/></linearGradient><linearGradient id="d70" gradientUnits="userSpaceOnUse" x1="0" y1="491.5" x2="0" y2="480.3"><stop offset="0.00" stop-color="#df544f"/><stop offset="0.25" stop-color="#f7b250"/><stop offset="0.50" stop-color="#faf15a"/><stop offset="0.75" stop-color="#c3e65f"/><stop offset="1.00" stop-color="#8ed664"/></linearGradient><linearGradient id="d71" gradientUnits="userSpaceOnUse" x1="0" y1="483.2" x2="0" y2="478.4"><stop offset="0.00" stop-color="#d6e73c"/><stop offset="0.50" stop-color="#92d643"/><stop offset="1.00" stop-color="#53c14c"/></linearGradient><linearGradient id="d72" gradientUnits="userSpaceOnUse" x1="0" y1="485.8" x2="0" y2="479.0"><stop offset="0.00" stop-color="#d1cf2b"/><stop offset="0.50" stop-color="#8bc031"/><stop offset="1.00" stop-color="#46a938"/></linearGradient><linearGradient id="d73" gradientUnits="userSpaceOnUse" x1="0" y1="495.1" x2="0" y2="485.8"><stop offset="0.00" stop-color="#8a111e"/><stop offset="0.33" stop-color="#b43d1a"/><stop offset="0.67" stop-color="#c4911f"/><stop offset="1.00" stop-color="#bcba27"/></linearGradient><linearGradient id="d74" gradientUnits="userSpaceOnUse" x1="0" y1="491.4" x2="0" y2="478.4"><stop offset="0.00" stop-color="#f49951"/><stop offset="0.33" stop-color="#fbe85b"/><stop offset="0.67" stop-color="#c9e761"/><stop offset="1.00" stop-color="#90d666"/></linearGradient><linearGradient id="d75" gradientUnits="userSpaceOnUse" x1="0" y1="482.9" x2="0" y2="469.7"><stop offset="0.00" stop-color="#bee660"/><stop offset="0.33" stop-color="#83d266"/><stop offset="0.67" stop-color="#6ed09d"/><stop offset="1.00" stop-color="#74d9d9"/></linearGradient><linearGradient id="d76" gradientUnits="userSpaceOnUse" x1="0" y1="476.3" x2="0" y2="469.7"><stop offset="0.00" stop-color="#53b039"/><stop offset="0.50" stop-color="#41b07a"/><stop offset="1.00" stop-color="#48baba"/></linearGradient><linearGradient id="d77" gradientUnits="userSpaceOnUse" x1="0" y1="482.5" x2="0" y2="472.5"><stop offset="0.00" stop-color="#8bc031"/><stop offset="0.50" stop-color="#45a839"/><stop offset="1.00" stop-color="#3eaf93"/></linearGradient><linearGradient id="d78" gradientUnits="userSpaceOnUse" x1="0" y1="487.9" x2="0" y2="475.9"><stop offset="0.00" stop-color="#cbba26"/><stop offset="0.33" stop-color="#99b72b"/><stop offset="0.67" stop-color="#63a731"/><stop offset="1.00" stop-color="#3c9c4a"/></linearGradient><linearGradient id="d79" gradientUnits="userSpaceOnUse" x1="0" y1="496.9" x2="0" y2="482.7"><stop offset="0.00" stop-color="#89111e"/><stop offset="0.33" stop-color="#bb5619"/><stop offset="0.67" stop-color="#c4b024"/><stop offset="1.00" stop-color="#8caf2a"/></linearGradient><linearGradient id="d80" gradientUnits="userSpaceOnUse" x1="0" y1="494.6" x2="0" y2="489.2"><stop offset="0.00" stop-color="#be4350"/><stop offset="0.50" stop-color="#eb754c"/><stop offset="1.00" stop-color="#f9cd52"/></linearGradient><linearGradient id="d81" gradientUnits="userSpaceOnUse" x1="0" y1="491.0" x2="0" y2="480.3"><stop offset="0.00" stop-color="#ef814f"/><stop offset="0.33" stop-color="#fadf58"/><stop offset="0.67" stop-color="#cde85f"/><stop offset="1.00" stop-color="#8fd666"/></linearGradient><linearGradient id="d82" gradientUnits="userSpaceOnUse" x1="0" y1="483.5" x2="0" y2="478.4"><stop offset="0.00" stop-color="#cae547"/><stop offset="0.50" stop-color="#91d64c"/><stop offset="1.00" stop-color="#5bc454"/></linearGradient><linearGradient id="d83" gradientUnits="userSpaceOnUse" x1="0" y1="482.7" x2="0" y2="478.4"><stop offset="0.00" stop-color="#aedb35"/><stop offset="0.50" stop-color="#7bcb3b"/><stop offset="1.00" stop-color="#4abb43"/></linearGradient><linearGradient id="d84" gradientUnits="userSpaceOnUse" x1="0" y1="489.9" x2="0" y2="479.0"><stop offset="0.00" stop-color="#c3941f"/><stop offset="0.33" stop-color="#afb727"/><stop offset="0.67" stop-color="#77aa2d"/><stop offset="1.00" stop-color="#3f9732"/></linearGradient><linearGradient id="d85" gradientUnits="userSpaceOnUse" x1="0" y1="497.6" x2="0" y2="489.9"><stop offset="0.00" stop-color="#8d121f"/><stop offset="0.50" stop-color="#ba411b"/><stop offset="1.00" stop-color="#c89920"/></linearGradient><linearGradient id="d86" gradientUnits="userSpaceOnUse" x1="0" y1="491.4" x2="0" y2="478.4"><stop offset="0.00" stop-color="#f4984f"/><stop offset="0.33" stop-color="#fbe859"/><stop offset="0.67" stop-color="#c9e75f"/><stop offset="1.00" stop-color="#8fd665"/></linearGradient><linearGradient id="d87" gradientUnits="userSpaceOnUse" x1="0" y1="482.9" x2="0" y2="469.7"><stop offset="0.00" stop-color="#bae457"/><stop offset="0.33" stop-color="#7ccf5d"/><stop offset="0.67" stop-color="#65cd97"/><stop offset="1.00" stop-color="#6cd7d7"/></linearGradient><linearGradient id="d88" gradientUnits="userSpaceOnUse" x1="0" y1="482.5" x2="0" y2="472.5"><stop offset="0.00" stop-color="#88bb30"/><stop offset="0.50" stop-color="#43a438"/><stop offset="1.00" stop-color="#3cab8f"/></linearGradient><linearGradient id="d89" gradientUnits="userSpaceOnUse" x1="0" y1="487.9" x2="0" y2="475.9"><stop offset="0.00" stop-color="#d0bf27"/><stop offset="0.33" stop-color="#9dbc2c"/><stop offset="0.67" stop-color="#65ab32"/><stop offset="1.00" stop-color="#3da04c"/></linearGradient><linearGradient id="d90" gradientUnits="userSpaceOnUse" x1="0" y1="498.2" x2="0" y2="482.7"><stop offset="0.00" stop-color="#8b111e"/><stop offset="0.33" stop-color="#be5719"/><stop offset="0.67" stop-color="#c6b324"/><stop offset="1.00" stop-color="#8eb22b"/></linearGradient><linearGradient id="d91" gradientUnits="userSpaceOnUse" x1="0" y1="495.8" x2="0" y2="493.1"><stop offset="0.00" stop-color="#bb3946"/><stop offset="1.00" stop-color="#f18141"/></linearGradient><linearGradient id="d92" gradientUnits="userSpaceOnUse" x1="0" y1="493.1" x2="0" y2="480.5"><stop offset="0.00" stop-color="#f28a4f"/><stop offset="0.25" stop-color="#fad957"/><stop offset="0.50" stop-color="#dceb5e"/><stop offset="0.75" stop-color="#a7de63"/><stop offset="1.00" stop-color="#73cc69"/></linearGradient><linearGradient id="d93" gradientUnits="userSpaceOnUse" x1="0" y1="484.0" x2="0" y2="480.7"><stop offset="0.00" stop-color="#a6dc3a"/><stop offset="0.50" stop-color="#7bcf3f"/><stop offset="1.00" stop-color="#4fc043"/></linearGradient><linearGradient id="d94" gradientUnits="userSpaceOnUse" x1="0" y1="483.9" x2="0" y2="480.3"><stop offset="0.00" stop-color="#a2dc3b"/><stop offset="0.50" stop-color="#73cc40"/><stop offset="1.00" stop-color="#4dc050"/></linearGradient><linearGradient id="d95" gradientUnits="userSpaceOnUse" x1="0" y1="487.1" x2="0" y2="479.0"><stop offset="0.00" stop-color="#bdca2d"/><stop offset="0.50" stop-color="#81bb32"/><stop offset="1.00" stop-color="#46a838"/></linearGradient><linearGradient id="d96" gradientUnits="userSpaceOnUse" x1="0" y1="497.6" x2="0" y2="487.1"><stop offset="0.00" stop-color="#8a111e"/><stop offset="0.33" stop-color="#b64619"/><stop offset="0.67" stop-color="#c49c20"/><stop offset="1.00" stop-color="#aab628"/></linearGradient><linearGradient id="d97" gradientUnits="userSpaceOnUse" x1="0" y1="494.5" x2="0" y2="479.9"><stop offset="0.00" stop-color="#f39450"/><stop offset="0.33" stop-color="#fbeb5b"/><stop offset="0.67" stop-color="#c0e662"/><stop offset="1.00" stop-color="#80d168"/></linearGradient><linearGradient id="d98" gradientUnits="userSpaceOnUse" x1="0" y1="489.1" x2="0" y2="476.5"><stop offset="0.00" stop-color="#f1ef4c"/><stop offset="0.33" stop-color="#b3e151"/><stop offset="0.67" stop-color="#77ce58"/><stop offset="1.00" stop-color="#60cc8f"/></linearGradient><linearGradient id="d99" gradientUnits="userSpaceOnUse" x1="0" y1="489.3" x2="0" y2="476.5"><stop offset="0.00" stop-color="#bfbd27"/><stop offset="0.33" stop-color="#87b12c"/><stop offset="0.67" stop-color="#4e9f32"/><stop offset="1.00" stop-color="#3a9d65"/></linearGradient><linearGradient id="d100" gradientUnits="userSpaceOnUse" x1="0" y1="499.5" x2="0" y2="484.5"><stop offset="0.00" stop-color="#89111e"/><stop offset="0.33" stop-color="#bb5a1a"/><stop offset="0.67" stop-color="#c4b525"/><stop offset="1.00" stop-color="#86ae2b"/></linearGradient><linearGradient id="d101" gradientUnits="userSpaceOnUse" x1="0" y1="495.4" x2="0" y2="480.5"><stop offset="0.00" stop-color="#e86d52"/><stop offset="0.25" stop-color="#facb57"/><stop offset="0.50" stop-color="#e5ed5f"/><stop offset="0.75" stop-color="#ace064"/><stop offset="1.00" stop-color="#75cd6b"/></linearGradient><linearGradient id="d102" gradientUnits="userSpaceOnUse" x1="0" y1="484.0" x2="0" y2="480.7"><stop offset="0.00" stop-color="#a5dc37"/><stop offset="0.50" stop-color="#79ce3c"/><stop offset="1.00" stop-color="#4dbf41"/></linearGradient><linearGradient id="d103" gradientUnits="userSpaceOnUse" x1="0" y1="486.7" x2="0" y2="480.3"><stop offset="0.00" stop-color="#abde3c"/><stop offset="0.50" stop-color="#79cd42"/><stop offset="1.00" stop-color="#4fc152"/></linearGradient><linearGradient id="d104" gradientUnits="userSpaceOnUse" x1="0" y1="487.3" x2="0" y2="480.3"><stop offset="0.00" stop-color="#a4cf32"/><stop offset="0.50" stop-color="#71be37"/><stop offset="1.00" stop-color="#44b047"/></linearGradient><linearGradient id="d105" gradientUnits="userSpaceOnUse" x1="0" y1="495.9" x2="0" y2="482.3"><stop offset="0.00" stop-color="#b1381a"/><stop offset="0.25" stop-color="#c2911e"/><stop offset="0.50" stop-color="#b6b826"/><stop offset="0.75" stop-color="#82ad2b"/><stop offset="1.00" stop-color="#4e9c30"/></linearGradient><linearGradient id="d106" gradientUnits="userSpaceOnUse" x1="0" y1="494.5" x2="0" y2="479.9"><stop offset="0.00" stop-color="#f38e47"/><stop offset="0.33" stop-color="#fbea52"/><stop offset="0.67" stop-color="#bde459"/><stop offset="1.00" stop-color="#79cf60"/></linearGradient><linearGradient id="d107" gradientUnits="userSpaceOnUse" x1="0" y1="491.7" x2="0" y2="476.5"><stop offset="0.00" stop-color="#fae12e"/><stop offset="0.33" stop-color="#b6e036"/><stop offset="0.67" stop-color="#69c83e"/><stop offset="1.00" stop-color="#48c47e"/></linearGradient><linearGradient id="d108" gradientUnits="userSpaceOnUse" x1="0" y1="500.8" x2="0" y2="484.5"><stop offset="0.00" stop-color="#8a111e"/><stop offset="0.33" stop-color="#bd5b1a"/><stop offset="0.67" stop-color="#c5b625"/><stop offset="1.00" stop-color="#87af2b"/></linearGradient><linearGradient id="d109" gradientUnits="userSpaceOnUse" x1="0" y1="499.7" x2="0" y2="487.9"><stop offset="0.00" stop-color="#c04855"/><stop offset="0.33" stop-color="#f29051"/><stop offset="0.67" stop-color="#fbea5b"/><stop offset="1.00" stop-color="#c0e662"/></linearGradient><linearGradient id="d110" gradientUnits="userSpaceOnUse" x1="0" y1="487.9" x2="0" y2="482.2"><stop offset="0.00" stop-color="#cae547"/><stop offset="0.50" stop-color="#8ed54c"/><stop offset="1.00" stop-color="#5ac55c"/></linearGradient><linearGradient id="d111" gradientUnits="userSpaceOnUse" x1="0" y1="486.7" x2="0" y2="480.7"><stop offset="0.00" stop-color="#a4d735"/><stop offset="0.50" stop-color="#78c83a"/><stop offset="1.00" stop-color="#4bba3f"/></linearGradient><linearGradient id="d112" gradientUnits="userSpaceOnUse" x1="0" y1="487.3" x2="0" y2="480.3"><stop offset="0.00" stop-color="#aedb35"/><stop offset="0.50" stop-color="#78ca3b"/><stop offset="1.00" stop-color="#48bb4b"/></linearGradient><linearGradient id="d113" gradientUnits="userSpaceOnUse" x1="0" y1="494.2" x2="0" y2="482.3"><stop offset="0.00" stop-color="#c7881e"/><stop offset="0.33" stop-color="#c2be28"/><stop offset="0.67" stop-color="#88b32c"/><stop offset="1.00" stop-color="#51a132"/></linearGradient><linearGradient id="d114" gradientUnits="userSpaceOnUse" x1="0" y1="501.4" x2="0" y2="494.2"><stop offset="0.00" stop-color="#8f121f"/><stop offset="0.50" stop-color="#b8381b"/><stop offset="1.00" stop-color="#ca8a1e"/></linearGradient><linearGradient id="d115" gradientUnits="userSpaceOnUse" x1="0" y1="499.6" x2="0" y2="489.1"><stop offset="0.00" stop-color="#df4b3f"/><stop offset="0.50" stop-color="#f8b641"/><stop offset="1.00" stop-color="#f1ee4c"/></linearGradient><linearGradient id="d116" gradientUnits="userSpaceOnUse" x1="0" y1="502.2" x2="0" y2="489.3"><stop offset="0.00" stop-color="#8b111e"/><stop offset="0.33" stop-color="#b53c1a"/><stop offset="0.67" stop-color="#c5911f"/><stop offset="1.00" stop-color="#bebb27"/></linearGradient><linearGradient id="d117" gradientUnits="userSpaceOnUse" x1="0" y1="499.7" x2="0" y2="487.9"><stop offset="0.00" stop-color="#c04955"/><stop offset="0.33" stop-color="#f29051"/><stop offset="0.67" stop-color="#fbea5b"/><stop offset="1.00" stop-color="#c0e662"/></linearGradient><linearGradient id="d118" gradientUnits="userSpaceOnUse" x1="0" y1="487.9" x2="0" y2="482.2"><stop offset="0.00" stop-color="#cfe859"/><stop offset="0.50" stop-color="#99d95e"/><stop offset="1.00" stop-color="#6aca6c"/></linearGradient><linearGradient id="d119" gradientUnits="userSpaceOnUse" x1="0" y1="489.2" x2="0" y2="482.2"><stop offset="0.00" stop-color="#a4d535"/><stop offset="0.50" stop-color="#72c53a"/><stop offset="1.00" stop-color="#47b749"/></linearGradient><linearGradient id="d120" gradientUnits="userSpaceOnUse" x1="0" y1="489.9" x2="0" y2="483.4"><stop offset="0.00" stop-color="#b7e038"/><stop offset="0.50" stop-color="#84d13d"/><stop offset="1.00" stop-color="#52c041"/></linearGradient><linearGradient id="d121" gradientUnits="userSpaceOnUse" x1="0" y1="493.1" x2="0" y2="483.4"><stop offset="0.00" stop-color="#c7c228"/><stop offset="0.50" stop-color="#84b42e"/><stop offset="1.00" stop-color="#439e35"/></linearGradient><linearGradient id="d122" gradientUnits="userSpaceOnUse" x1="0" y1="502.7" x2="0" y2="489.1"><stop offset="0.00" stop-color="#89111e"/><stop offset="0.33" stop-color="#ba5319"/><stop offset="0.67" stop-color="#c3ac23"/><stop offset="1.00" stop-color="#92b02a"/></linearGradient><linearGradient id="d123" gradientUnits="userSpaceOnUse" x1="0" y1="503.6" x2="0" y2="491.7"><stop offset="0.00" stop-color="#9e1422"/><stop offset="0.50" stop-color="#d8641d"/><stop offset="1.00" stop-color="#e2cb2a"/></linearGradient><linearGradient id="d124" gradientUnits="userSpaceOnUse" x1="0" y1="503.8" x2="0" y2="498.4"><stop offset="0.00" stop-color="#ba3745"/><stop offset="1.00" stop-color="#ef7940"/></linearGradient><linearGradient id="d125" gradientUnits="userSpaceOnUse" x1="0" y1="498.4" x2="0" y2="489.5"><stop offset="0.00" stop-color="#f0834e"/><stop offset="0.33" stop-color="#fad355"/><stop offset="0.67" stop-color="#e6ee5d"/><stop offset="1.00" stop-color="#b3e261"/></linearGradient><linearGradient id="d126" gradientUnits="userSpaceOnUse" x1="0" y1="489.4" x2="0" y2="482.2"><stop offset="0.00" stop-color="#b3e039"/><stop offset="0.50" stop-color="#7ccf3f"/><stop offset="1.00" stop-color="#4dc04f"/></linearGradient><linearGradient id="d127" gradientUnits="userSpaceOnUse" x1="0" y1="489.9" x2="0" y2="483.4"><stop offset="0.00" stop-color="#b2db35"/><stop offset="0.50" stop-color="#82cd3a"/><stop offset="1.00" stop-color="#52bc3e"/></linearGradient><linearGradient id="d128" gradientUnits="userSpaceOnUse" x1="0" y1="493.1" x2="0" y2="483.4"><stop offset="0.00" stop-color="#d5d02b"/><stop offset="0.50" stop-color="#8dc131"/><stop offset="1.00" stop-color="#47a938"/></linearGradient><linearGradient id="d129" gradientUnits="userSpaceOnUse" x1="0" y1="504.0" x2="0" y2="489.1"><stop offset="0.00" stop-color="#8a111e"/><stop offset="0.33" stop-color="#bc5419"/><stop offset="0.67" stop-color="#c5ae24"/><stop offset="1.00" stop-color="#93b22b"/></linearGradient><linearGradient id="d130" gradientUnits="userSpaceOnUse" x1="0" y1="503.8" x2="0" y2="489.5"><stop offset="0.00" stop-color="#c04955"/><stop offset="0.25" stop-color="#ec7951"/><stop offset="0.50" stop-color="#facf57"/><stop offset="0.75" stop-color="#e8ee5f"/><stop offset="1.00" stop-color="#b4e263"/></linearGradient><linearGradient id="d131" gradientUnits="userSpaceOnUse" x1="0" y1="493.8" x2="0" y2="486.7"><stop offset="0.00" stop-color="#dbea4a"/><stop offset="0.50" stop-color="#a9de4f"/><stop offset="1.00" stop-color="#79ce54"/></linearGradient><linearGradient id="d132" gradientUnits="userSpaceOnUse" x1="0" y1="493.7" x2="0" y2="486.7"><stop offset="0.00" stop-color="#d1e635"/><stop offset="0.50" stop-color="#9cd93a"/><stop offset="1.00" stop-color="#66c73f"/></linearGradient><linearGradient id="d133" gradientUnits="userSpaceOnUse" x1="0" y1="497.4" x2="0" y2="486.7"><stop offset="0.00" stop-color="#d7b525"/><stop offset="0.33" stop-color="#bcc92c"/><stop offset="0.67" stop-color="#89bc30"/><stop offset="1.00" stop-color="#57ac36"/></linearGradient><linearGradient id="d134" gradientUnits="userSpaceOnUse" x1="0" y1="505.4" x2="0" y2="490.5"><stop offset="0.00" stop-color="#89111e"/><stop offset="0.25" stop-color="#b33e1a"/><stop offset="0.50" stop-color="#c2921f"/><stop offset="0.75" stop-color="#b7b826"/><stop offset="1.00" stop-color="#85ae2b"/></linearGradient><linearGradient id="d135" gradientUnits="userSpaceOnUse" x1="0" y1="502.0" x2="0" y2="489.5"><stop offset="0.00" stop-color="#e96e4e"/><stop offset="0.33" stop-color="#f9c952"/><stop offset="0.67" stop-color="#e9ee5b"/><stop offset="1.00" stop-color="#b2e160"/></linearGradient><linearGradient id="d136" gradientUnits="userSpaceOnUse" x1="0" y1="496.7" x2="0" y2="486.7"><stop offset="0.00" stop-color="#f1ec33"/><stop offset="0.50" stop-color="#acde39"/><stop offset="1.00" stop-color="#6ac940"/></linearGradient><linearGradient id="d137" gradientUnits="userSpaceOnUse" x1="0" y1="501.9" x2="0" y2="486.7"><stop offset="0.00" stop-color="#d06b1d"/><stop offset="0.33" stop-color="#d9c728"/><stop offset="0.67" stop-color="#9bc22f"/><stop offset="1.00" stop-color="#58ad36"/></linearGradient><linearGradient id="d138" gradientUnits="userSpaceOnUse" x1="0" y1="506.8" x2="0" y2="490.5"><stop offset="0.00" stop-color="#8c121e"/><stop offset="0.25" stop-color="#b73f1a"/><stop offset="0.50" stop-color="#c6961f"/><stop offset="0.75" stop-color="#bbbc27"/><stop offset="1.00" stop-color="#88b22c"/></linearGradient><linearGradient id="d139" gradientUnits="userSpaceOnUse" x1="0" y1="508.2" x2="0" y2="500.5"><stop offset="0.00" stop-color="#bd404d"/><stop offset="0.50" stop-color="#e66449"/><stop offset="1.00" stop-color="#f8b54c"/></linearGradient><linearGradient id="d140" gradientUnits="userSpaceOnUse" x1="0" y1="507.0" x2="0" y2="493.8"><stop offset="0.00" stop-color="#cd3c42"/><stop offset="0.33" stop-color="#f18640"/><stop offset="0.67" stop-color="#fad748"/><stop offset="1.00" stop-color="#dcea4f"/></linearGradient><linearGradient id="d141" gradientUnits="userSpaceOnUse" x1="0" y1="508.2" x2="0" y2="493.7"><stop offset="0.00" stop-color="#921220"/><stop offset="0.33" stop-color="#c34e1b"/><stop offset="0.67" stop-color="#d0aa23"/><stop offset="1.00" stop-color="#aec02b"/></linearGradient><linearGradient id="d142" gradientUnits="userSpaceOnUse" x1="0" y1="508.2" x2="0" y2="497.4"><stop offset="0.00" stop-color="#931220"/><stop offset="0.50" stop-color="#c6521b"/><stop offset="1.00" stop-color="#d1b024"/></linearGradient><linearGradient id="d143" gradientUnits="userSpaceOnUse" x1="0" y1="509.7" x2="0" y2="500.5"><stop offset="0.00" stop-color="#b32130"/><stop offset="0.50" stop-color="#e14b2c"/><stop offset="1.00" stop-color="#f6a92f"/></linearGradient><linearGradient id="d144" gradientUnits="userSpaceOnUse" x1="0" y1="509.7" x2="0" y2="496.7"><stop offset="0.00" stop-color="#a71524"/><stop offset="0.33" stop-color="#d8471f"/><stop offset="0.67" stop-color="#ecad24"/><stop offset="1.00" stop-color="#e6e12f"/></linearGradient><linearGradient id="d145" gradientUnits="userSpaceOnUse" x1="0" y1="509.7" x2="0" y2="501.9"><stop offset="0.00" stop-color="#af1626"/><stop offset="0.50" stop-color="#d92e22"/><stop offset="1.00" stop-color="#f07b21"/></linearGradient></defs>
<polygon points="104.0,544.6 146.0,497.7 94.3,467.3 39.0,495.0" fill="#ae121d"/>
<path d="M104.0 544.6L39.0 495.0M104.0 544.6L146.0 497.7M105.7 542.7L41.1 493.9M101.9 543.0L144.4 496.7M107.3 540.9L43.2 492.9M99.8 541.4L142.8 495.8M108.9 539.1L45.2 491.9M97.7 539.8L141.2 494.9M110.5 537.4L47.2 490.9M95.6 538.2L139.6 493.9M112.0 535.7L49.1 489.9M93.5 536.6L138.0 493.0M113.5 534.0L51.0 489.0M91.5 535.1L136.5 492.1M114.9 532.4L52.9 488.1M89.5 533.5L134.9 491.2M116.4 530.8L54.7 487.1M87.5 532.0L133.4 490.3M117.7 529.3L56.5 486.2M85.6 530.5L131.9 489.4M119.1 527.7L58.2 485.4M83.6 529.0L130.3 488.5M120.4 526.3L60.0 484.5M81.7 527.6L128.8 487.6M121.7 524.8L61.6 483.7M79.8 526.1L127.3 486.7M123.0 523.4L63.3 482.8M77.9 524.7L125.9 485.9M124.2 522.0L64.9 482.0M76.0 523.2L124.4 485.0M125.4 520.7L66.5 481.2M74.1 521.8L122.9 484.1M126.6 519.3L68.1 480.4M72.3 520.4L121.5 483.3M127.8 518.0L69.6 479.7M70.5 519.0L120.0 482.4M128.9 516.8L71.1 478.9M68.7 517.7L118.6 481.6M130.0 515.5L72.6 478.2M66.9 516.3L117.2 480.7M131.1 514.3L74.1 477.4M65.1 514.9L115.7 479.9M132.2 513.1L75.5 476.7M63.4 513.6L114.3 479.1M133.2 511.9L76.9 476.0M61.7 512.3L112.9 478.3M134.3 510.8L78.3 475.3M59.9 511.0L111.5 477.4M135.3 509.7L79.6 474.6M58.2 509.7L110.2 476.6M136.3 508.6L81.0 474.0M56.6 508.4L108.8 475.8M137.2 507.5L82.3 473.3M54.9 507.1L107.4 475.0M138.2 506.4L83.6 472.7M53.2 505.9L106.1 474.2M139.1 505.4L84.9 472.0M51.6 504.6L104.7 473.4M140.0 504.4L86.1 471.4M50.0 503.4L103.4 472.7M140.9 503.4L87.3 470.8M48.4 502.1L102.1 471.9M141.8 502.4L88.5 470.2M46.8 500.9L100.8 471.1M142.7 501.4L89.7 469.6M45.2 499.7L99.5 470.3M143.5 500.5L90.9 469.0M43.6 498.5L98.2 469.6M144.4 499.5L92.0 468.4M42.1 497.3L96.9 468.8M145.2 498.6L93.2 467.9M40.5 496.2L95.6 468.1M146.0 497.7L94.3 467.3M39.0 495.0L94.3 467.3" stroke="#1a0204" stroke-width="0.50" fill="none"/>
<g stroke="#2a0808" stroke-width="0.26" stroke-linejoin="round"><polygon points="94.6,480.2 96.1,481.3 94.3,480.2 92.9,481.1" fill="#ba1925"/>
<polygon points="93.0,479.8 94.6,480.2 92.9,481.1 91.3,482.0" fill="url(#d1)"/>
<polygon points="96.3,480.0 97.8,482.3 96.1,481.3 94.6,480.2" fill="url(#d2)"/>
<polygon points="91.5,482.1 93.0,479.8 91.3,482.0 89.8,482.9" fill="url(#d3)"/>
<polygon points="94.8,477.7 96.3,480.0 94.6,480.2 93.0,479.8" fill="url(#d4)"/>
<polygon points="98.1,482.4 99.5,483.4 97.8,482.3 96.3,480.0" fill="url(#d5)"/>
<polygon points="61.7,457.7 67.3,482.8 65.6,481.7 60.9,464.1" fill="url(#d6)"/>
<polygon points="89.9,485.0 91.5,482.1 89.8,482.9 88.2,483.9" fill="#c02e39"/>
<polygon points="93.2,481.8 94.8,477.7 93.0,479.8 91.5,482.1" fill="url(#d7)"/>
<polygon points="96.6,482.0 98.1,482.4 96.3,480.0 94.8,477.7" fill="url(#d8)"/>
<polygon points="99.8,485.4 101.3,484.5 99.5,483.4 98.1,482.4" fill="#a91722"/>
<polygon points="57.6,445.4 61.7,457.7 60.9,464.1 56.4,449.7" fill="url(#d9)"/>
<polygon points="64.5,465.4 69.0,484.0 67.3,482.8 61.7,457.7" fill="url(#d10)"/>
<polygon points="91.7,486.1 93.2,481.8 91.5,482.1 89.9,485.0" fill="url(#d11)"/>
<polygon points="95.0,484.3 96.6,482.0 94.8,477.7 93.2,481.8" fill="url(#d12)"/>
<polygon points="98.3,486.4 99.8,485.4 98.1,482.4 96.6,482.0" fill="url(#d13)"/>
<polygon points="52.3,426.7 57.6,445.4 56.4,449.7 53.2,444.6" fill="url(#d14)"/>
<polygon points="60.4,451.5 64.5,465.4 61.7,457.7 57.6,445.4" fill="url(#d15)"/>
<polygon points="68.1,480.1 70.7,485.2 69.0,484.0 64.5,465.4" fill="url(#d16)"/>
<polygon points="93.5,487.3 95.0,484.3 93.2,481.8 91.7,486.1" fill="url(#d17)"/>
<polygon points="96.8,487.4 98.3,486.4 96.6,482.0 95.0,484.3" fill="url(#d18)"/>
<polygon points="52.9,446.8 52.3,426.7 53.2,444.6 51.7,451.1" fill="url(#d19)"/>
<polygon points="57.6,449.1 60.4,451.5 57.6,445.4 52.3,426.7" fill="url(#d20)"/>
<polygon points="64.7,470.6 68.1,480.1 64.5,465.4 60.4,451.5" fill="url(#d21)"/>
<polygon points="70.2,483.7 72.5,486.4 70.7,485.2 68.1,480.1" fill="url(#d22)"/>
<polygon points="95.3,488.4 96.8,487.4 95.0,484.3 93.5,487.3" fill="#ba1925"/>
<polygon points="53.1,463.6 52.9,446.8 51.7,451.1 52.2,468.6" fill="url(#d23)"/>
<polygon points="56.1,455.1 57.6,449.1 52.3,426.7 52.9,446.8" fill="url(#d24)"/>
<polygon points="61.8,465.6 64.7,470.6 60.4,451.5 57.6,449.1" fill="url(#d25)"/>
<polygon points="67.0,474.7 70.2,483.7 68.1,480.1 64.7,470.6" fill="url(#d26)"/>
<polygon points="72.0,485.3 74.3,487.5 72.5,486.4 70.2,483.7" fill="url(#d27)"/>
<polygon points="51.7,470.3 53.1,463.6 52.2,468.6 48.7,463.2" fill="url(#d28)"/>
<polygon points="56.0,470.5 56.1,455.1 52.9,446.8 53.1,463.6" fill="url(#d29)"/>
<polygon points="60.4,472.5 61.8,465.6 57.6,449.1 56.1,455.1" fill="url(#d30)"/>
<polygon points="65.0,476.2 67.0,474.7 64.7,470.6 61.8,465.6" fill="url(#d31)"/>
<polygon points="69.8,483.8 72.0,485.3 70.2,483.7 67.0,474.7" fill="url(#d32)"/>
<polygon points="74.2,489.8 76.1,488.7 74.3,487.5 72.0,485.3" fill="#a7171f"/>
<polygon points="48.2,464.8 51.7,470.3 48.7,463.2 47.3,469.6" fill="url(#d33)"/>
<polygon points="52.6,465.1 56.0,470.5 53.1,463.6 51.7,470.3" fill="url(#d34)"/>
<polygon points="57.0,465.7 60.4,472.5 56.1,455.1 56.0,470.5" fill="url(#d35)"/>
<polygon points="61.9,470.6 65.0,476.2 61.8,465.6 60.4,472.5" fill="url(#d36)"/>
<polygon points="67.2,479.8 69.8,483.8 67.0,474.7 65.0,476.2" fill="url(#d37)"/>
<polygon points="72.3,490.9 74.2,489.8 72.0,485.3 69.8,483.8" fill="url(#d38)"/>
<polygon points="47.1,473.4 48.2,464.8 47.3,469.6 43.8,464.9" fill="url(#d39)"/>
<polygon points="51.5,473.5 52.6,465.1 51.7,470.3 48.2,464.8" fill="url(#d40)"/>
<polygon points="55.9,474.6 57.0,465.7 56.0,470.5 52.6,465.1" fill="url(#d41)"/>
<polygon points="60.6,478.0 61.9,470.6 60.4,472.5 57.0,465.7" fill="url(#d42)"/>
<polygon points="65.4,483.6 67.2,479.8 65.0,476.2 61.9,470.6" fill="url(#d43)"/>
<polygon points="70.3,492.1 72.3,490.9 69.8,483.8 67.2,479.8" fill="url(#d44)"/>
<polygon points="85.1,490.4 86.9,491.4 85.1,490.2 83.3,491.3" fill="#ba1925"/>
<polygon points="88.7,491.4 90.4,491.6 88.6,490.4 86.9,491.4" fill="#b61825"/>
<polygon points="43.4,468.0 47.1,473.4 43.8,464.9 42.7,473.1" fill="url(#d45)"/>
<polygon points="47.6,466.7 51.5,473.5 48.2,464.8 47.1,473.4" fill="url(#d46)"/>
<polygon points="52.2,467.6 55.9,474.6 52.6,465.1 51.5,473.5" fill="url(#d47)"/>
<polygon points="57.5,473.3 60.6,478.0 57.0,465.7 55.9,474.6" fill="url(#d48)"/>
<polygon points="62.8,480.9 65.4,483.6 61.9,470.6 60.6,478.0" fill="url(#d49)"/>
<polygon points="68.3,493.2 70.3,492.1 67.2,479.8 65.4,483.6" fill="url(#d50)"/>
<polygon points="79.5,491.5 81.5,492.4 79.7,491.2 77.8,492.3" fill="#b91925"/>
<polygon points="82.8,483.2 85.1,490.4 83.3,491.3 81.5,492.4" fill="url(#d51)"/>
<polygon points="86.6,482.4 88.7,491.4 86.9,491.4 85.1,490.4" fill="url(#d52)"/>
<polygon points="90.6,491.2 92.3,492.8 90.4,491.6 88.7,491.4" fill="#b81a22"/>
<polygon points="41.8,474.1 43.4,468.0 42.7,473.1 38.6,466.8" fill="url(#d53)"/>
<polygon points="46.7,476.3 47.6,466.7 47.1,473.4 43.4,468.0" fill="url(#d54)"/>
<polygon points="51.0,475.9 52.2,467.6 51.5,473.5 47.6,466.7" fill="url(#d55)"/>
<polygon points="56.0,479.9 57.5,473.3 55.9,474.6 52.2,467.6" fill="url(#d56)"/>
<polygon points="60.9,484.9 62.8,480.9 60.6,478.0 57.5,473.3" fill="url(#d57)"/>
<polygon points="66.2,494.4 68.3,493.2 65.4,483.6 62.8,480.9" fill="url(#d58)"/>
<polygon points="77.5,491.0 79.5,491.5 77.8,492.3 75.9,493.5" fill="url(#d59)"/>
<polygon points="80.9,483.5 82.8,483.2 81.5,492.4 79.5,491.5" fill="url(#d60)"/>
<polygon points="84.7,482.7 86.6,482.4 85.1,490.4 82.8,483.2" fill="url(#d61)"/>
<polygon points="88.6,485.8 90.6,491.2 88.7,491.4 86.6,482.4" fill="url(#d62)"/>
<polygon points="92.5,495.1 94.2,494.0 92.3,492.8 90.6,491.2" fill="#a71720"/>
<polygon points="39.8,478.4 41.8,474.1 38.6,466.8 38.9,481.7" fill="url(#d63)"/>
<polygon points="42.7,469.7 46.7,476.3 43.4,468.0 41.8,474.1" fill="url(#d64)"/>
<polygon points="47.8,472.5 51.0,475.9 47.6,466.7 46.7,476.3" fill="url(#d65)"/>
<polygon points="52.8,475.9 56.0,479.9 52.2,467.6 51.0,475.9" fill="url(#d66)"/>
<polygon points="58.2,482.7 60.9,484.9 57.5,473.3 56.0,479.9" fill="url(#d67)"/>
<polygon points="64.1,495.6 66.2,494.4 62.8,480.9 60.9,484.9" fill="url(#d68)"/>
<polygon points="75.3,489.2 77.5,491.0 75.9,493.5 74.0,494.6" fill="url(#d69)"/>
<polygon points="78.6,480.3 80.9,483.5 79.5,491.5 77.5,491.0" fill="url(#d70)"/>
<polygon points="82.5,478.4 84.7,482.7 82.8,483.2 80.9,483.5" fill="url(#d71)"/>
<polygon points="86.5,479.0 88.6,485.8 86.6,482.4 84.7,482.7" fill="url(#d72)"/>
<polygon points="90.7,489.9 92.5,495.1 90.6,491.2 88.6,485.8" fill="url(#d73)"/>
<polygon points="39.8,491.4 39.8,478.4 38.9,481.7 37.6,489.0" fill="url(#d74)"/>
<polygon points="42.4,482.9 42.7,469.7 41.8,474.1 39.8,478.4" fill="url(#d75)"/>
<polygon points="46.1,478.3 47.8,472.5 46.7,476.3 42.7,469.7" fill="url(#d76)"/>
<polygon points="51.3,482.5 52.8,475.9 51.0,475.9 47.8,472.5" fill="url(#d77)"/>
<polygon points="56.5,487.9 58.2,482.7 56.0,479.9 52.8,475.9" fill="url(#d78)"/>
<polygon points="62.0,496.9 64.1,495.6 60.9,484.9 58.2,482.7" fill="url(#d79)"/>
<polygon points="73.5,493.1 75.3,489.2 74.0,494.6 72.0,495.8" fill="url(#d80)"/>
<polygon points="76.8,484.0 78.6,480.3 77.5,491.0 75.3,489.2" fill="url(#d81)"/>
<polygon points="80.8,483.9 82.5,478.4 80.9,483.5 78.6,480.3" fill="url(#d82)"/>
<polygon points="84.7,483.7 86.5,479.0 84.7,482.7 82.5,478.4" fill="url(#d83)"/>
<polygon points="88.8,487.1 90.7,489.9 88.6,485.8 86.5,479.0" fill="url(#d84)"/>
<polygon points="92.7,497.6 94.4,496.4 92.5,495.1 90.7,489.9" fill="url(#d85)"/>
<polygon points="41.2,490.9 42.4,482.9 39.8,478.4 39.8,491.4" fill="url(#d86)"/>
<polygon points="43.6,479.9 46.1,478.3 42.7,469.7 42.4,482.9" fill="url(#d87)"/>
<polygon points="47.5,476.5 51.3,482.5 47.8,472.5 46.1,478.3" fill="url(#d88)"/>
<polygon points="53.4,484.5 56.5,487.9 52.8,475.9 51.3,482.5" fill="url(#d89)"/>
<polygon points="59.7,498.2 62.0,496.9 58.2,482.7 56.5,487.9" fill="url(#d90)"/>
<polygon points="71.6,495.4 73.5,493.1 72.0,495.8 70.0,497.1" fill="url(#d91)"/>
<polygon points="74.3,480.5 76.8,484.0 75.3,489.2 73.5,493.1" fill="url(#d92)"/>
<polygon points="78.5,480.7 80.8,483.9 78.6,480.3 76.8,484.0" fill="url(#d93)"/>
<polygon points="82.6,480.3 84.7,483.7 82.5,478.4 80.8,483.9" fill="url(#d94)"/>
<polygon points="86.7,482.3 88.8,487.1 86.5,479.0 84.7,483.7" fill="url(#d95)"/>
<polygon points="90.9,495.9 92.7,497.6 90.7,489.9 88.8,487.1" fill="url(#d96)"/>
<polygon points="43.6,494.5 43.6,479.9 42.4,482.9 41.2,490.9" fill="url(#d97)"/>
<polygon points="47.0,489.1 47.5,476.5 46.1,478.3 43.6,479.9" fill="url(#d98)"/>
<polygon points="51.5,489.3 53.4,484.5 51.3,482.5 47.5,476.5" fill="url(#d99)"/>
<polygon points="57.5,499.5 59.7,498.2 56.5,487.9 53.4,484.5" fill="url(#d100)"/>
<polygon points="69.8,499.7 71.6,495.4 70.0,497.1 67.9,498.3" fill="#c6353e"/>
<polygon points="72.7,487.9 74.3,480.5 73.5,493.1 71.6,495.4" fill="url(#d101)"/>
<polygon points="76.7,485.9 78.5,480.7 76.8,484.0 74.3,480.5" fill="url(#d102)"/>
<polygon points="80.8,486.7 82.6,480.3 80.8,483.9 78.5,480.7" fill="url(#d103)"/>
<polygon points="84.9,487.3 86.7,482.3 84.7,483.7 82.6,480.3" fill="url(#d104)"/>
<polygon points="89.1,494.2 90.9,495.9 88.8,487.1 86.7,482.3" fill="url(#d105)"/>
<polygon points="93.0,500.1 94.7,498.9 92.7,497.6 90.9,495.9" fill="#a71720"/>
<polygon points="45.4,495.2 47.0,489.1 43.6,479.9 43.6,494.5" fill="url(#d106)"/>
<polygon points="49.2,491.7 51.5,489.3 47.5,476.5 47.0,489.1" fill="url(#d107)"/>
<polygon points="55.1,500.8 57.5,499.5 53.4,484.5 51.5,489.3" fill="url(#d108)"/>
<polygon points="70.5,487.9 72.7,487.9 71.6,495.4 69.8,499.7" fill="url(#d109)"/>
<polygon points="74.2,482.2 76.7,485.9 74.3,480.5 72.7,487.9" fill="url(#d110)"/>
<polygon points="78.5,483.4 80.8,486.7 78.5,480.7 76.7,485.9" fill="url(#d111)"/>
<polygon points="82.7,483.4 84.9,487.3 82.6,480.3 80.8,486.7" fill="url(#d112)"/>
<polygon points="87.0,489.1 89.1,494.2 86.7,482.3 84.9,487.3" fill="url(#d113)"/>
<polygon points="91.2,501.4 93.0,500.1 90.9,495.9 89.1,494.2" fill="url(#d114)"/>
<polygon points="47.9,499.6 49.2,491.7 47.0,489.1 45.4,495.2" fill="url(#d115)"/>
<polygon points="52.7,502.2 55.1,500.8 51.5,489.3 49.2,491.7" fill="url(#d116)"/>
<polygon points="69.2,498.4 70.5,487.9 69.8,499.7 67.7,501.0" fill="url(#d117)"/>
<polygon points="72.5,489.4 74.2,482.2 72.7,487.9 70.5,487.9" fill="url(#d118)"/>
<polygon points="76.7,489.2 78.5,483.4 76.7,485.9 74.2,482.2" fill="url(#d119)"/>
<polygon points="80.9,489.9 82.7,483.4 80.8,486.7 78.5,483.4" fill="url(#d120)"/>
<polygon points="85.2,493.1 87.0,489.1 84.9,487.3 82.7,483.4" fill="url(#d121)"/>
<polygon points="89.4,502.7 91.2,501.4 89.1,494.2 87.0,489.1" fill="url(#d122)"/>
<polygon points="50.3,503.6 52.7,502.2 49.2,491.7 47.9,499.6" fill="url(#d123)"/>
<polygon points="67.5,503.8 69.2,498.4 67.7,501.0 65.5,502.4" fill="url(#d124)"/>
<polygon points="70.2,489.5 72.5,489.4 70.5,487.9 69.2,498.4" fill="url(#d125)"/>
<polygon points="74.3,486.7 76.7,489.2 74.2,482.2 72.5,489.4" fill="url(#d126)"/>
<polygon points="78.6,486.7 80.9,489.9 78.5,483.4 76.7,489.2" fill="url(#d127)"/>
<polygon points="83.0,490.5 85.2,493.1 82.7,483.4 80.9,489.9" fill="url(#d128)"/>
<polygon points="87.6,504.0 89.4,502.7 87.0,489.1 85.2,493.1" fill="url(#d129)"/>
<polygon points="69.1,502.0 70.2,489.5 69.2,498.4 67.5,503.8" fill="url(#d130)"/>
<polygon points="72.6,493.8 74.3,486.7 72.5,489.4 70.2,489.5" fill="url(#d131)"/>
<polygon points="76.9,493.7 78.6,486.7 76.7,489.2 74.3,486.7" fill="url(#d132)"/>
<polygon points="81.3,497.4 83.0,490.5 80.9,489.9 78.6,486.7" fill="url(#d133)"/>
<polygon points="85.7,505.4 87.6,504.0 85.2,493.1 83.0,490.5" fill="url(#d134)"/>
<polygon points="67.3,506.7 69.1,502.0 67.5,503.8 65.3,505.2" fill="#c6363f"/>
<polygon points="70.9,500.5 72.6,493.8 70.2,489.5 69.1,502.0" fill="url(#d135)"/>
<polygon points="74.8,496.7 76.9,493.7 74.3,486.7 72.6,493.8" fill="url(#d136)"/>
<polygon points="79.4,501.9 81.3,497.4 78.6,486.7 76.9,493.7" fill="url(#d137)"/>
<polygon points="83.7,506.8 85.7,505.4 83.0,490.5 81.3,497.4" fill="url(#d138)"/>
<polygon points="69.3,508.2 70.9,500.5 69.1,502.0 67.3,506.7" fill="url(#d139)"/>
<polygon points="73.4,507.0 74.8,496.7 72.6,493.8 70.9,500.5" fill="url(#d140)"/>
<polygon points="77.7,508.2 79.4,501.9 76.9,493.7 74.8,496.7" fill="url(#d141)"/>
<polygon points="81.8,508.2 83.7,506.8 81.3,497.4 79.4,501.9" fill="url(#d142)"/>
<polygon points="71.3,509.7 73.4,507.0 70.9,500.5 69.3,508.2" fill="url(#d143)"/>
<polygon points="75.6,509.7 77.7,508.2 74.8,496.7 73.4,507.0" fill="url(#d144)"/>
<polygon points="79.7,509.7 81.8,508.2 79.4,501.9 77.7,508.2" fill="url(#d145)"/>
<polygon points="73.4,511.2 75.6,509.7 73.4,507.0 71.3,509.7" fill="#b41725"/></g>
<text x="2.4" y="18.6" font-family="Liberation Serif, serif" font-size="19.5" fill="#111">A</text>
<text x="2.7" y="156.6" font-family="Liberation Serif, serif" font-size="19" fill="#111">B</text>
<text x="4.4" y="307.3" font-family="Liberation Serif, serif" font-size="21" fill="#111">C</text>
<text x="7.7" y="437.3" font-family="Liberation Serif, serif" font-size="21" fill="#111">D</text>
<path d="M76.3 139.7L15.5 87M79.9 139.1L130.7 93.8" stroke="#333" stroke-width="0.9" fill="none"/>
<polygon points="14.3,85.9 16.2,90.6 19.3,87.0" fill="#222"/><polygon points="131.9,92.7 127.0,94.3 130.1,97.7" fill="#222"/>
<text x="2.2" y="97.7" font-family="Liberation Serif, serif" font-size="7.8" textLength="14" lengthAdjust="spacingAndGlyphs" fill="#111" stroke="#111" stroke-width="0.12">180°</text>
<text x="134.5" y="124.6" font-family="Liberation Serif, serif" font-size="7.8" textLength="14" lengthAdjust="spacingAndGlyphs" fill="#111" stroke="#111" stroke-width="0.12">180°</text>
<text x="25.3" y="117.8" font-family="Liberation Sans, sans-serif" font-weight="bold" font-style="italic" font-size="8.3" fill="#111">ψ</text>
<text x="114.8" y="126.9" font-family="Liberation Sans, sans-serif" font-weight="bold" font-style="italic" font-size="7.8" fill="#111">ϕ</text>
<text x="57.8" y="82.8" font-family="Liberation Sans, sans-serif" font-weight="bold" font-style="italic" font-size="9" fill="#111">α</text>
<text x="15.3" y="172.65" font-family="Liberation Serif, serif" font-weight="bold" font-size="7.3" fill="#222">PPII</text>
<text x="15.8" y="208.6" font-family="Liberation Sans, sans-serif" font-weight="bold" font-style="italic" font-size="9.2" fill="#111">β</text>
<text x="34.6" y="250" font-family="Liberation Sans, sans-serif" font-weight="bold" font-style="italic" font-size="8.5" fill="#111">ψ</text>
<text x="112.3" y="250.7" font-family="Liberation Sans, sans-serif" font-weight="bold" font-style="italic" font-size="7.8" fill="#111">ϕ</text>
<text x="80.3" y="219.3" font-family="Liberation Sans, sans-serif" font-weight="bold" font-style="italic" font-size="8" fill="#fff">α<tspan font-size="4.5" dy="1.2">L</tspan></text>
<text x="42.2" y="387.2" font-family="Liberation Sans, sans-serif" font-weight="bold" font-style="italic" font-size="8.3" fill="#111">ψ</text>
<text x="119.8" y="392.2" font-family="Liberation Sans, sans-serif" font-weight="bold" font-style="italic" font-size="7.8" fill="#111">ϕ</text>
<text x="52.2" y="518" font-family="Liberation Sans, sans-serif" font-weight="bold" font-style="italic" font-size="8.3" fill="#111">ψ</text>
<text x="129.6" y="517.8" font-family="Liberation Sans, sans-serif" font-weight="bold" font-style="italic" font-size="7.8" fill="#111">ϕ</text>
<ellipse cx="131.5" cy="28" rx="12.5" ry="7.5" transform="rotate(32 131.5 28)" fill="#7a60a8" opacity="0.28"/><ellipse cx="117" cy="41.5" rx="11.5" ry="8.5" transform="rotate(40 117 41.5)" fill="#7a60a8" opacity="0.28"/><ellipse cx="124" cy="33" rx="8" ry="6" fill="#a05070" opacity="0.2"/>
<path d="M122.6 19.3Q137.7 23.1 142.5 30.6M121.1 22.3Q135.4 26.8 141.0 35.4M120.3 24.9Q132.4 29.8 138.6 37.7M124.1 26.8Q133.9 32.8 136.4 38.6M128.6 17.3Q139.9 21.6 143.4 26.4M106.8 33.6Q109.8 44.1 118.1 50.5M109.3 32.1Q113.3 42.9 122.6 48.2M112.0 33.6Q117.8 42.3 125.6 46.0M115.1 34.4Q121.1 40.4 128.2 43.7M107.2 38.1Q111.7 48.4 116.9 52.0M118.1 33.3Q122.6 35.1 125.3 38.4M116.6 27.6Q119.6 30.6 118.1 33.6M133.9 19.3Q140.7 23.8 142.2 29.1M110.5 38.1Q115.1 45.7 121.1 49.4M119.6 23.1Q125.6 23.1 130.1 27.6M121.1 32.1Q125.6 30.6 129.4 33.6M114.3 30.6Q118.1 29.1 122.6 30.6" stroke="#2b36a6" stroke-width="1.55" fill="none" stroke-linecap="round"/>
<path d="M120.8 17.9Q128.6 16.3 132.8 19.4M130.1 23.1Q131.9 24.9 132.5 27.1M122.6 27.9Q124.8 26.1 127.4 26.4M106.0 32.8Q109.6 36.0 106.6 40.5M112.8 31.8Q115.1 32.8 116.9 34.5M109.0 46.4Q113.9 51.4 121.4 51.7M118.1 44.1Q120.3 46.0 122.9 46.6M115.8 37.4Q118.1 38.6 120.5 38.9M115.1 25.8Q118.1 24.9 121.1 26.1M127.1 21.3Q129.4 21.9 130.9 20.7M134.6 30.6Q136.9 32.8 136.1 35.1M122.6 40.4Q124.8 41.9 124.1 44.1M113.6 28.3Q116.6 30.6 119.6 29.1M119.6 34.4Q122.6 36.6 125.6 35.1M126.4 23.8Q128.6 26.1 127.1 29.1M109.0 29.1Q112.0 30.6 114.3 29.1" stroke="#b5172d" stroke-width="1.35" fill="none" stroke-linecap="round"/>
<path d="M113.3 22.3Q114.3 21.6 115.4 22.6M118.1 23.1Q119.3 22.5 120.2 23.5M139.9 35.9Q141.0 35.1 142.2 36.6M142.2 37.5Q143.2 36.9 143.7 38.1M127.9 40.4Q131.3 44.1 128.0 48.7M126.8 49.0Q128.6 50.2 130.4 49.3M122.3 38.9Q123.3 38.1 124.1 39.3M121.1 18.5Q122.1 17.6 122.9 18.8" stroke="#20b556" stroke-width="1.7" fill="none" stroke-linecap="round"/>
<circle cx="130.6" cy="39.0" r="0.9" fill="#c040b0"/>
<path d="M137.7 175.3Q138.3 176.9 140.0 176.6" stroke="#c078c0" stroke-width="1.19" fill="none" stroke-linecap="round"/>
<path d="M125.0 174.7Q126.5 175.8 128.2 175.4" stroke="#8c101e" stroke-width="1.08" fill="none" stroke-linecap="round"/>
<path d="M126.3 164.8Q123.2 164.7 123.4 167.8" stroke="#8c101e" stroke-width="0.86" fill="none" stroke-linecap="round"/>
<path d="M122.3 180.3Q122.0 182.4 120.6 184.1" stroke="#8c101e" stroke-width="0.80" fill="none" stroke-linecap="round"/>
<path d="M123.8 185.6Q124.4 187.0 125.2 188.4" stroke="#8c101e" stroke-width="1.30" fill="none" stroke-linecap="round"/>
<path d="M118.6 175.3Q120.9 173.1 120.2 169.9" stroke="#8c101e" stroke-width="1.17" fill="none" stroke-linecap="round"/>
<path d="M110.2 194.1Q110.3 197.5 113.3 199.1" stroke="#c078c0" stroke-width="1.14" fill="none" stroke-linecap="round"/>
<path d="M117.3 174.5Q115.5 174.5 113.8 174.6" stroke="#8c101e" stroke-width="1.10" fill="none" stroke-linecap="round"/>
<path d="M104.9 184.7Q104.9 182.8 104.4 181.0" stroke="#8c101e" stroke-width="0.99" fill="none" stroke-linecap="round"/>
<path d="M122.4 187.9Q121.6 191.2 124.9 192.2" stroke="#8c101e" stroke-width="1.16" fill="none" stroke-linecap="round"/>
<path d="M113.4 181.0Q115.1 178.8 116.0 176.3" stroke="#8c101e" stroke-width="1.09" fill="none" stroke-linecap="round"/>
<path d="M114.4 175.9Q112.9 174.1 111.2 175.7" stroke="#8c101e" stroke-width="1.23" fill="none" stroke-linecap="round"/>
<path d="M122.8 171.9Q124.7 171.3 123.8 169.6" stroke="#8c101e" stroke-width="0.74" fill="none" stroke-linecap="round"/>
<path d="M116.9 174.2Q117.0 171.9 119.3 171.9" stroke="#8c101e" stroke-width="0.78" fill="none" stroke-linecap="round"/>
<path d="M119.4 195.6Q121.1 199.2 124.8 197.7" stroke="#8c101e" stroke-width="0.73" fill="none" stroke-linecap="round"/>
<path d="M116.8 185.1Q118.6 184.9 118.7 186.8" stroke="#8c101e" stroke-width="1.14" fill="none" stroke-linecap="round"/>
<path d="M127.7 180.9Q130.8 182.0 130.6 185.4" stroke="#c078c0" stroke-width="0.70" fill="none" stroke-linecap="round"/>
<path d="M108.1 171.9Q109.4 169.6 111.4 171.3" stroke="#8c101e" stroke-width="1.08" fill="none" stroke-linecap="round"/>
<path d="M120.9 172.7Q119.9 174.6 119.4 176.6" stroke="#8c101e" stroke-width="1.14" fill="none" stroke-linecap="round"/>
<path d="M133.0 171.5Q132.1 168.9 131.5 166.2" stroke="#8c101e" stroke-width="0.76" fill="none" stroke-linecap="round"/>
<path d="M114.9 165.4Q116.6 164.4 115.5 162.8" stroke="#8c101e" stroke-width="1.05" fill="none" stroke-linecap="round"/>
<path d="M112.3 187.0Q113.5 185.7 115.2 186.2" stroke="#8c101e" stroke-width="1.28" fill="none" stroke-linecap="round"/>
<path d="M113.1 168.6Q110.1 166.8 110.3 163.4" stroke="#8c101e" stroke-width="0.80" fill="none" stroke-linecap="round"/>
<path d="M131.7 187.4Q134.1 189.4 136.0 186.9" stroke="#8c101e" stroke-width="0.84" fill="none" stroke-linecap="round"/>
<path d="M114.7 182.3Q114.3 179.5 111.5 179.1" stroke="#c078c0" stroke-width="0.92" fill="none" stroke-linecap="round"/>
<path d="M118.1 173.4Q120.2 175.1 121.1 177.6" stroke="#8c101e" stroke-width="0.77" fill="none" stroke-linecap="round"/>
<path d="M119.9 173.6Q121.4 174.5 121.1 176.2" stroke="#8c101e" stroke-width="0.71" fill="none" stroke-linecap="round"/>
<path d="M116.1 171.1Q113.8 171.9 112.9 174.1" stroke="#8c101e" stroke-width="1.14" fill="none" stroke-linecap="round"/>
<path d="M110.8 184.5Q113.1 184.8 115.1 185.9" stroke="#8c101e" stroke-width="1.05" fill="none" stroke-linecap="round"/>
<path d="M132.8 173.6Q134.6 176.1 136.9 174.1" stroke="#8c101e" stroke-width="1.07" fill="none" stroke-linecap="round"/>
<path d="M116.6 197.2Q118.4 198.3 120.4 197.7" stroke="#8c101e" stroke-width="0.76" fill="none" stroke-linecap="round"/>
<path d="M125.8 194.2Q124.2 190.6 127.8 189.2" stroke="#8c101e" stroke-width="0.99" fill="none" stroke-linecap="round"/>
<path d="M124.2 191.9Q124.3 193.3 123.6 194.6" stroke="#c078c0" stroke-width="0.75" fill="none" stroke-linecap="round"/>
<path d="M121.2 174.5Q119.5 176.1 117.7 177.3" stroke="#8c101e" stroke-width="0.94" fill="none" stroke-linecap="round"/>
<path d="M123.9 182.7Q125.1 181.9 125.5 180.5" stroke="#8c101e" stroke-width="1.12" fill="none" stroke-linecap="round"/>
<path d="M134.2 182.1Q133.7 179.5 133.3 176.9" stroke="#8c101e" stroke-width="1.28" fill="none" stroke-linecap="round"/>
<path d="M126.6 186.9Q128.8 186.1 129.4 183.8" stroke="#c078c0" stroke-width="1.18" fill="none" stroke-linecap="round"/>
<path d="M135.4 173.4Q135.7 175.2 135.8 177.0" stroke="#8c101e" stroke-width="1.03" fill="none" stroke-linecap="round"/>
<path d="M116.3 166.9Q116.4 165.5 115.9 164.1" stroke="#8c101e" stroke-width="0.91" fill="none" stroke-linecap="round"/>
<path d="M125.5 179.9Q128.1 178.9 129.1 181.6" stroke="#8c101e" stroke-width="1.29" fill="none" stroke-linecap="round"/>
<path d="M118.5 176.7Q118.0 178.5 119.0 180.2" stroke="#8c101e" stroke-width="0.90" fill="none" stroke-linecap="round"/>
<path d="M124.4 186.5Q126.1 188.1 127.5 186.2" stroke="#8c101e" stroke-width="0.76" fill="none" stroke-linecap="round"/>
<path d="M106.9 178.5Q108.2 177.4 109.6 176.5" stroke="#c078c0" stroke-width="0.84" fill="none" stroke-linecap="round"/>
<path d="M127.1 173.9Q126.5 171.4 126.4 168.8" stroke="#c078c0" stroke-width="0.72" fill="none" stroke-linecap="round"/>
<path d="M107.4 170.7Q105.8 170.7 104.3 170.5" stroke="#8c101e" stroke-width="0.85" fill="none" stroke-linecap="round"/>
<path d="M119.9 170.6Q118.2 172.2 116.8 174.2" stroke="#c078c0" stroke-width="1.15" fill="none" stroke-linecap="round"/>
<path d="M113.0 167.6Q112.6 170.4 113.8 173.0" stroke="#8c101e" stroke-width="1.19" fill="none" stroke-linecap="round"/>
<path d="M108.8 191.1Q107.6 193.6 106.6 196.3" stroke="#8c101e" stroke-width="1.09" fill="none" stroke-linecap="round"/>
<path d="M121.4 179.1Q121.8 176.1 120.6 173.4" stroke="#8c101e" stroke-width="1.23" fill="none" stroke-linecap="round"/>
<path d="M133.5 189.2Q132.9 192.1 135.2 194.1" stroke="#8c101e" stroke-width="1.05" fill="none" stroke-linecap="round"/>
<path d="M108.4 180.8Q107.8 179.7 107.3 178.5" stroke="#8c101e" stroke-width="1.04" fill="none" stroke-linecap="round"/>
<path d="M115.4 181.2Q119.6 179.3 120.7 183.8" stroke="#8c101e" stroke-width="1.02" fill="none" stroke-linecap="round"/>
<path d="M119.8 177.8Q122.9 178.8 123.8 175.7" stroke="#8c101e" stroke-width="0.86" fill="none" stroke-linecap="round"/>
<path d="M119.6 180.0Q118.6 178.6 119.7 177.2" stroke="#8c101e" stroke-width="0.85" fill="none" stroke-linecap="round"/>
<path d="M109.8 168.8Q112.2 169.7 114.6 170.5" stroke="#8c101e" stroke-width="1.11" fill="none" stroke-linecap="round"/>
<path d="M125.0 186.0Q127.1 183.7 129.2 186.1" stroke="#8c101e" stroke-width="1.04" fill="none" stroke-linecap="round"/>
<path d="M124.8 193.0Q125.5 195.3 127.7 196.2" stroke="#c078c0" stroke-width="1.25" fill="none" stroke-linecap="round"/>
<path d="M134.9 187.3Q134.8 185.1 132.7 184.4" stroke="#8c101e" stroke-width="1.09" fill="none" stroke-linecap="round"/>
<path d="M103.1 298.9Q105.6 299.3 107.2 297.3" stroke="#8c101e" stroke-width="1.20" fill="none" stroke-linecap="round"/>
<path d="M114.6 302.5Q115.4 303.2 115.8 304.3" stroke="#8c101e" stroke-width="0.93" fill="none" stroke-linecap="round"/>
<path d="M118.8 313.0Q117.9 315.4 115.3 315.2" stroke="#9a1626" stroke-width="0.80" fill="none" stroke-linecap="round"/>
<path d="M114.8 304.8Q117.8 304.6 117.5 307.6" stroke="#8c101e" stroke-width="0.83" fill="none" stroke-linecap="round"/>
<path d="M117.3 326.4Q114.3 328.0 116.2 330.8" stroke="#8c101e" stroke-width="0.81" fill="none" stroke-linecap="round"/>
<path d="M119.0 307.9Q119.0 311.6 115.3 311.2" stroke="#9a1626" stroke-width="0.80" fill="none" stroke-linecap="round"/>
<path d="M115.0 311.0Q112.8 311.5 112.7 309.2" stroke="#9a1626" stroke-width="0.74" fill="none" stroke-linecap="round"/>
<path d="M108.8 315.1Q109.7 316.9 110.4 318.8" stroke="#8c101e" stroke-width="0.73" fill="none" stroke-linecap="round"/>
<path d="M114.7 308.8Q113.8 305.7 117.1 305.3" stroke="#9a1626" stroke-width="0.92" fill="none" stroke-linecap="round"/>
<path d="M113.0 308.7Q112.4 310.2 113.9 310.7" stroke="#8c101e" stroke-width="0.77" fill="none" stroke-linecap="round"/>
<path d="M113.9 324.6Q112.3 322.9 110.5 324.3" stroke="#9a1626" stroke-width="1.17" fill="none" stroke-linecap="round"/>
<path d="M124.9 318.2Q124.4 314.9 127.7 314.8" stroke="#8c101e" stroke-width="0.83" fill="none" stroke-linecap="round"/>
<path d="M104.9 308.3Q104.1 309.4 104.5 310.7" stroke="#8c101e" stroke-width="0.89" fill="none" stroke-linecap="round"/>
<path d="M111.4 313.7Q111.6 314.9 112.7 315.5" stroke="#9a1626" stroke-width="0.80" fill="none" stroke-linecap="round"/>
<path d="M130.5 314.4Q129.6 316.3 127.5 316.4" stroke="#9a1626" stroke-width="1.20" fill="none" stroke-linecap="round"/>
<path d="M104.2 311.7Q104.5 310.1 106.1 310.6" stroke="#9a1626" stroke-width="0.90" fill="none" stroke-linecap="round"/>
<path d="M118.2 326.1Q118.2 328.7 120.7 328.8" stroke="#9a1626" stroke-width="0.76" fill="none" stroke-linecap="round"/>
<path d="M109.3 310.8Q108.9 313.1 108.0 315.2" stroke="#8c101e" stroke-width="1.29" fill="none" stroke-linecap="round"/>
<path d="M103.2 312.1Q101.3 313.4 99.1 312.6" stroke="#9a1626" stroke-width="1.24" fill="none" stroke-linecap="round"/>
<path d="M125.4 319.2Q124.5 321.6 126.9 322.4" stroke="#9a1626" stroke-width="0.81" fill="none" stroke-linecap="round"/>
<path d="M102.3 309.6Q100.5 311.4 98.7 309.5" stroke="#9a1626" stroke-width="1.12" fill="none" stroke-linecap="round"/>
<path d="M105.9 296.3Q104.7 295.1 105.0 293.4" stroke="#9a1626" stroke-width="0.86" fill="none" stroke-linecap="round"/>
<path d="M127.6 307.3Q127.8 310.4 124.9 311.4" stroke="#8c101e" stroke-width="0.98" fill="none" stroke-linecap="round"/>
<path d="M114.7 301.1Q114.4 302.4 114.0 303.8" stroke="#9a1626" stroke-width="0.91" fill="none" stroke-linecap="round"/>
<path d="M104.6 297.6Q101.8 298.4 101.9 301.3" stroke="#9a1626" stroke-width="1.29" fill="none" stroke-linecap="round"/>
<path d="M124.3 306.0Q123.9 308.3 126.1 309.1" stroke="#9a1626" stroke-width="0.87" fill="none" stroke-linecap="round"/>
<path d="M125.4 315.4Q125.3 313.1 123.0 313.2" stroke="#9a1626" stroke-width="0.88" fill="none" stroke-linecap="round"/>
<path d="M98.2 303.7Q99.5 302.6 101.0 303.6" stroke="#9a1626" stroke-width="1.07" fill="none" stroke-linecap="round"/>
<path d="M119.7 322.4Q120.9 320.8 119.2 319.9" stroke="#8c101e" stroke-width="0.80" fill="none" stroke-linecap="round"/>
<path d="M116.4 306.7Q113.9 306.7 111.5 307.2" stroke="#9a1626" stroke-width="0.98" fill="none" stroke-linecap="round"/>
<path d="M104.3 317.6Q102.6 319.7 104.6 321.4" stroke="#8c101e" stroke-width="0.91" fill="none" stroke-linecap="round"/>
<path d="M128.9 304.2Q128.2 302.0 127.1 300.0" stroke="#8c101e" stroke-width="1.03" fill="none" stroke-linecap="round"/>
<path d="M111.1 316.1Q112.5 314.7 114.5 315.0" stroke="#9a1626" stroke-width="1.19" fill="none" stroke-linecap="round"/>
<path d="M100.0 316.5Q99.8 319.1 97.3 319.4" stroke="#9a1626" stroke-width="1.04" fill="none" stroke-linecap="round"/>
<path d="M130.5 304.3Q127.9 304.8 128.2 307.4" stroke="#8c101e" stroke-width="0.93" fill="none" stroke-linecap="round"/>
<path d="M105.7 324.0Q103.4 324.9 104.1 327.2" stroke="#9a1626" stroke-width="0.96" fill="none" stroke-linecap="round"/>
<path d="M124.2 307.4Q123.3 305.9 123.3 304.1" stroke="#8c101e" stroke-width="1.06" fill="none" stroke-linecap="round"/>
<path d="M112.4 326.7Q111.3 328.3 109.4 328.5" stroke="#9a1626" stroke-width="1.00" fill="none" stroke-linecap="round"/>
<path d="M111.1 319.3Q110.1 318.6 109.4 317.6" stroke="#9a1626" stroke-width="0.72" fill="none" stroke-linecap="round"/>
<path d="M119.5 315.9Q117.5 316.3 116.3 314.7" stroke="#9a1626" stroke-width="1.17" fill="none" stroke-linecap="round"/>
<path d="M113.7 316.0Q114.9 315.3 116.1 315.8" stroke="#9a1626" stroke-width="1.01" fill="none" stroke-linecap="round"/>
<path d="M124.2 296.6Q126.8 294.7 128.9 297.1" stroke="#9a1626" stroke-width="1.02" fill="none" stroke-linecap="round"/>
<path d="M109.6 315.4Q108.0 316.4 106.1 316.2" stroke="#8c101e" stroke-width="0.72" fill="none" stroke-linecap="round"/>
<path d="M113.3 319.2Q115.3 317.9 117.0 316.1" stroke="#8c101e" stroke-width="0.96" fill="none" stroke-linecap="round"/>
<path d="M117.9 297.4Q120.0 297.5 121.8 296.2" stroke="#9a1626" stroke-width="0.99" fill="none" stroke-linecap="round"/>
<path d="M107.6 296.1Q105.0 295.2 103.1 297.1" stroke="#9a1626" stroke-width="1.20" fill="none" stroke-linecap="round"/>
<path d="M110.1 299.7Q111.8 298.6 110.7 296.9" stroke="#8c101e" stroke-width="0.80" fill="none" stroke-linecap="round"/>
<path d="M107.9 293.4Q105.4 293.3 103.1 292.3" stroke="#8c101e" stroke-width="0.74" fill="none" stroke-linecap="round"/>
<path d="M115.5 324.5Q112.2 323.9 113.2 320.7" stroke="#9a1626" stroke-width="1.29" fill="none" stroke-linecap="round"/>
<path d="M127.4 308.9Q127.4 307.6 128.6 307.1" stroke="#8c101e" stroke-width="1.13" fill="none" stroke-linecap="round"/>
<path d="M118.4 314.6Q119.3 316.9 121.2 318.4" stroke="#9a1626" stroke-width="1.18" fill="none" stroke-linecap="round"/>
<path d="M118.9 311.4Q118.8 309.3 116.9 308.3" stroke="#9a1626" stroke-width="0.73" fill="none" stroke-linecap="round"/>
<path d="M100.6 302.4Q102.4 303.9 103.6 305.8" stroke="#9a1626" stroke-width="1.11" fill="none" stroke-linecap="round"/>
<path d="M105.0 309.6Q105.8 307.1 108.4 307.5" stroke="#9a1626" stroke-width="0.79" fill="none" stroke-linecap="round"/>
<path d="M106.0 300.9Q104.0 299.5 101.6 299.3" stroke="#9a1626" stroke-width="0.74" fill="none" stroke-linecap="round"/>
<path d="M114.9 324.7Q116.5 325.5 117.7 324.3" stroke="#9a1626" stroke-width="0.97" fill="none" stroke-linecap="round"/>
<path d="M110.3 311.7Q109.6 312.4 109.2 313.4" stroke="#8c101e" stroke-width="0.75" fill="none" stroke-linecap="round"/>
<path d="M122.3 317.7Q123.2 316.7 124.2 315.8" stroke="#9a1626" stroke-width="0.76" fill="none" stroke-linecap="round"/>
<path d="M102.1 306.8Q104.4 306.5 104.0 304.2" stroke="#9a1626" stroke-width="1.11" fill="none" stroke-linecap="round"/>
<path d="M114.1 312.8Q114.5 309.7 111.6 308.5" stroke="#8c101e" stroke-width="1.12" fill="none" stroke-linecap="round"/>
<g stroke="#8c101e" fill="none" stroke-linecap="round"><path d="M116 452.3Q124 453.5 132.5 447" stroke-width="1.7"/><path d="M134 444.3Q138 445.5 143 442.8" stroke-width="1.3"/><path d="M120 443.2l0.5 2M126 454.5q3 -1.5 6 -0.8M134 453.5l3.5 1.2M139 456.5l1 2.2M124.5 460.5q2.5 1.8 4.5 1.6M129.5 472.8l1.8 0.6M123.5 458.5l3.5-1" stroke-width="1.15"/></g>
<g>
<rect x="184.00" y="92.57" width="2.20" height="19.13" fill="#ad102d" stroke="#5a0a18" stroke-width="0.45"/>
<rect x="186.20" y="44.41" width="2.20" height="67.29" fill="#68aa40" stroke="#2f4a22" stroke-width="0.45"/>
<rect x="188.40" y="93.63" width="2.20" height="18.07" fill="#1d3a8f" stroke="#0d1a45" stroke-width="0.45"/>
<rect x="191.35" y="86.19" width="2.20" height="25.51" fill="#ad102d" stroke="#5a0a18" stroke-width="0.45"/>
<rect x="193.55" y="50.36" width="2.20" height="61.34" fill="#68aa40" stroke="#2f4a22" stroke-width="0.45"/>
<rect x="195.75" y="94.69" width="2.20" height="17.01" fill="#1d3a8f" stroke="#0d1a45" stroke-width="0.45"/>
<rect x="198.70" y="89.38" width="2.20" height="22.32" fill="#ad102d" stroke="#5a0a18" stroke-width="0.45"/>
<rect x="200.90" y="61.21" width="2.20" height="50.49" fill="#68aa40" stroke="#2f4a22" stroke-width="0.45"/>
<rect x="203.10" y="91.50" width="2.20" height="20.20" fill="#1d3a8f" stroke="#0d1a45" stroke-width="0.45"/>
<rect x="206.05" y="94.16" width="2.20" height="17.54" fill="#ad102d" stroke="#5a0a18" stroke-width="0.45"/>
<rect x="208.25" y="54.94" width="2.20" height="56.76" fill="#68aa40" stroke="#2f4a22" stroke-width="0.45"/>
<rect x="210.45" y="85.66" width="2.20" height="26.04" fill="#1d3a8f" stroke="#0d1a45" stroke-width="0.45"/>
<rect x="213.40" y="73.86" width="2.20" height="37.84" fill="#ad102d" stroke="#5a0a18" stroke-width="0.45"/>
<rect x="215.60" y="67.37" width="2.20" height="44.33" fill="#68aa40" stroke="#2f4a22" stroke-width="0.45"/>
<rect x="217.80" y="89.91" width="2.20" height="21.79" fill="#1d3a8f" stroke="#0d1a45" stroke-width="0.45"/>
<rect x="220.75" y="88.74" width="2.20" height="22.96" fill="#ad102d" stroke="#5a0a18" stroke-width="0.45"/>
<rect x="222.95" y="47.07" width="2.20" height="64.63" fill="#68aa40" stroke="#2f4a22" stroke-width="0.45"/>
<rect x="225.15" y="95.44" width="2.20" height="16.26" fill="#1d3a8f" stroke="#0d1a45" stroke-width="0.45"/>
<rect x="228.10" y="93.63" width="2.20" height="18.07" fill="#ad102d" stroke="#5a0a18" stroke-width="0.45"/>
<rect x="230.30" y="42.29" width="2.20" height="69.41" fill="#68aa40" stroke="#2f4a22" stroke-width="0.45"/>
<rect x="232.50" y="95.22" width="2.20" height="16.48" fill="#1d3a8f" stroke="#0d1a45" stroke-width="0.45"/>
<rect x="235.45" y="98.52" width="2.20" height="13.18" fill="#ad102d" stroke="#5a0a18" stroke-width="0.45"/>
<rect x="237.65" y="87.57" width="2.20" height="24.13" fill="#68aa40" stroke="#2f4a22" stroke-width="0.45"/>
<rect x="239.85" y="100.43" width="2.20" height="11.27" fill="#1d3a8f" stroke="#0d1a45" stroke-width="0.45"/>
<rect x="242.80" y="79.81" width="2.20" height="31.89" fill="#ad102d" stroke="#5a0a18" stroke-width="0.45"/>
<rect x="245.00" y="59.72" width="2.20" height="51.98" fill="#68aa40" stroke="#2f4a22" stroke-width="0.45"/>
<rect x="247.20" y="93.31" width="2.20" height="18.39" fill="#1d3a8f" stroke="#0d1a45" stroke-width="0.45"/>
<rect x="250.15" y="69.82" width="2.20" height="41.88" fill="#ad102d" stroke="#5a0a18" stroke-width="0.45"/>
<rect x="252.35" y="64.93" width="2.20" height="46.77" fill="#68aa40" stroke="#2f4a22" stroke-width="0.45"/>
<rect x="254.55" y="94.16" width="2.20" height="17.54" fill="#1d3a8f" stroke="#0d1a45" stroke-width="0.45"/>
<rect x="257.50" y="87.57" width="2.20" height="24.13" fill="#ad102d" stroke="#5a0a18" stroke-width="0.45"/>
<rect x="259.70" y="50.36" width="2.20" height="61.34" fill="#68aa40" stroke="#2f4a22" stroke-width="0.45"/>
<rect x="261.90" y="91.82" width="2.20" height="19.88" fill="#1d3a8f" stroke="#0d1a45" stroke-width="0.45"/>
<rect x="264.85" y="89.38" width="2.20" height="22.32" fill="#ad102d" stroke="#5a0a18" stroke-width="0.45"/>
<rect x="267.05" y="48.77" width="2.20" height="62.93" fill="#68aa40" stroke="#2f4a22" stroke-width="0.45"/>
<rect x="269.25" y="94.16" width="2.20" height="17.54" fill="#1d3a8f" stroke="#0d1a45" stroke-width="0.45"/>
<rect x="272.20" y="84.06" width="2.20" height="27.64" fill="#ad102d" stroke="#5a0a18" stroke-width="0.45"/>
<rect x="274.40" y="51.64" width="2.20" height="60.06" fill="#68aa40" stroke="#2f4a22" stroke-width="0.45"/>
<rect x="276.60" y="93.63" width="2.20" height="18.07" fill="#1d3a8f" stroke="#0d1a45" stroke-width="0.45"/>
<rect x="279.55" y="74.50" width="2.20" height="37.20" fill="#ad102d" stroke="#5a0a18" stroke-width="0.45"/>
<rect x="281.75" y="62.16" width="2.20" height="49.54" fill="#68aa40" stroke="#2f4a22" stroke-width="0.45"/>
<rect x="283.95" y="93.63" width="2.20" height="18.07" fill="#1d3a8f" stroke="#0d1a45" stroke-width="0.45"/>
<rect x="289.10" y="68.12" width="2.20" height="43.58" fill="#68aa40" stroke="#2f4a22" stroke-width="0.45"/>
<rect x="291.30" y="50.36" width="2.20" height="61.34" fill="#1d3a8f" stroke="#0d1a45" stroke-width="0.45"/>
<rect x="294.25" y="82.79" width="2.20" height="28.91" fill="#ad102d" stroke="#5a0a18" stroke-width="0.45"/>
<rect x="296.45" y="59.72" width="2.20" height="51.98" fill="#68aa40" stroke="#2f4a22" stroke-width="0.45"/>
<rect x="298.65" y="88.53" width="2.20" height="23.17" fill="#1d3a8f" stroke="#0d1a45" stroke-width="0.45"/>
<rect x="301.60" y="73.64" width="2.20" height="38.06" fill="#ad102d" stroke="#5a0a18" stroke-width="0.45"/>
<rect x="303.80" y="62.80" width="2.20" height="48.90" fill="#68aa40" stroke="#2f4a22" stroke-width="0.45"/>
<rect x="306.00" y="92.57" width="2.20" height="19.13" fill="#1d3a8f" stroke="#0d1a45" stroke-width="0.45"/>
<rect x="308.95" y="80.87" width="2.20" height="30.83" fill="#ad102d" stroke="#5a0a18" stroke-width="0.45"/>
<rect x="311.15" y="58.55" width="2.20" height="53.15" fill="#68aa40" stroke="#2f4a22" stroke-width="0.45"/>
<rect x="313.35" y="91.50" width="2.20" height="20.20" fill="#1d3a8f" stroke="#0d1a45" stroke-width="0.45"/>
<rect x="316.30" y="73.43" width="2.20" height="38.27" fill="#ad102d" stroke="#5a0a18" stroke-width="0.45"/>
<rect x="318.50" y="62.38" width="2.20" height="49.32" fill="#68aa40" stroke="#2f4a22" stroke-width="0.45"/>
<rect x="320.70" y="94.69" width="2.20" height="17.01" fill="#1d3a8f" stroke="#0d1a45" stroke-width="0.45"/>
<rect x="323.65" y="64.93" width="2.20" height="46.77" fill="#ad102d" stroke="#5a0a18" stroke-width="0.45"/>
<rect x="325.85" y="69.18" width="2.20" height="42.52" fill="#68aa40" stroke="#2f4a22" stroke-width="0.45"/>
<rect x="328.05" y="94.16" width="1.55" height="17.54" fill="#1d3a8f" stroke="#0d1a45" stroke-width="0.45"/>
<rect x="183.20" y="5.40" width="146.40" height="106.30" fill="none" stroke="#484848" stroke-width="1"/>
<path d="M183.20 111.70h-2.6M183.20 106.39h-1.4M183.20 101.07h-2.6M183.20 95.76h-1.4M183.20 90.44h-2.6M183.20 85.12h-1.4M183.20 79.81h-2.6M183.20 74.50h-1.4M183.20 69.18h-2.6M183.20 63.87h-1.4M183.20 58.55h-2.6M183.20 53.24h-1.4M183.20 47.92h-2.6M183.20 42.61h-1.4M183.20 37.29h-2.6M183.20 31.98h-1.4M183.20 26.66h-2.6M183.20 21.35h-1.4M183.20 16.03h-2.6M183.20 10.72h-1.4M183.20 5.40h-2.6M187.30 111.70v2.2M194.65 111.70v2.2M202.00 111.70v2.2M209.35 111.70v2.2M216.70 111.70v2.2M224.05 111.70v2.2M231.40 111.70v2.2M238.75 111.70v2.2M246.10 111.70v2.2M253.45 111.70v2.2M260.80 111.70v2.2M268.15 111.70v2.2M275.50 111.70v2.2M282.85 111.70v2.2M290.20 111.70v2.2M297.55 111.70v2.2M304.90 111.70v2.2M312.25 111.70v2.2M319.60 111.70v2.2M326.95 111.70v2.2" stroke="#484848" stroke-width="0.7" fill="none"/>
<text x="179.70" y="113.45" text-anchor="end" font-size="6.2" fill="#222" stroke="#222" stroke-width="0.2">0.0</text>
<text x="179.70" y="102.82" text-anchor="end" font-size="6.2" fill="#222" stroke="#222" stroke-width="0.2">0.1</text>
<text x="179.70" y="92.19" text-anchor="end" font-size="6.2" fill="#222" stroke="#222" stroke-width="0.2">0.2</text>
<text x="179.70" y="81.56" text-anchor="end" font-size="6.2" fill="#222" stroke="#222" stroke-width="0.2">0.3</text>
<text x="179.70" y="70.93" text-anchor="end" font-size="6.2" fill="#222" stroke="#222" stroke-width="0.2">0.4</text>
<text x="179.70" y="60.30" text-anchor="end" font-size="6.2" fill="#222" stroke="#222" stroke-width="0.2">0.5</text>
<text x="179.70" y="49.67" text-anchor="end" font-size="6.2" fill="#222" stroke="#222" stroke-width="0.2">0.6</text>
<text x="179.70" y="39.04" text-anchor="end" font-size="6.2" fill="#222" stroke="#222" stroke-width="0.2">0.7</text>
<text x="179.70" y="28.41" text-anchor="end" font-size="6.2" fill="#222" stroke="#222" stroke-width="0.2">0.8</text>
<text x="179.70" y="17.78" text-anchor="end" font-size="6.2" fill="#222" stroke="#222" stroke-width="0.2">0.9</text>
<text x="179.70" y="7.15" text-anchor="end" font-size="6.2" fill="#222" stroke="#222" stroke-width="0.2">1.0</text>
<text transform="translate(190.10,124.90) rotate(-90)" text-anchor="middle" font-size="6.9" textLength="12.2" lengthAdjust="spacingAndGlyphs" fill="#111" stroke="#111" stroke-width="0.28">ALA</text>
<text transform="translate(197.32,124.90) rotate(-90)" text-anchor="middle" font-size="6.9" textLength="12.2" lengthAdjust="spacingAndGlyphs" fill="#111" stroke="#111" stroke-width="0.28">ARG</text>
<text transform="translate(204.54,124.90) rotate(-90)" text-anchor="middle" font-size="6.9" textLength="12.2" lengthAdjust="spacingAndGlyphs" fill="#111" stroke="#111" stroke-width="0.28">ASN</text>
<text transform="translate(211.76,124.90) rotate(-90)" text-anchor="middle" font-size="6.9" textLength="12.2" lengthAdjust="spacingAndGlyphs" fill="#111" stroke="#111" stroke-width="0.28">ASP</text>
<text transform="translate(218.98,124.90) rotate(-90)" text-anchor="middle" font-size="6.9" textLength="12.2" lengthAdjust="spacingAndGlyphs" fill="#111" stroke="#111" stroke-width="0.28">CYS</text>
<text transform="translate(226.20,124.90) rotate(-90)" text-anchor="middle" font-size="6.9" textLength="12.2" lengthAdjust="spacingAndGlyphs" fill="#111" stroke="#111" stroke-width="0.28">GLN</text>
<text transform="translate(233.42,124.90) rotate(-90)" text-anchor="middle" font-size="6.9" textLength="12.2" lengthAdjust="spacingAndGlyphs" fill="#111" stroke="#111" stroke-width="0.28">GLU</text>
<text transform="translate(240.64,124.90) rotate(-90)" text-anchor="middle" font-size="6.9" textLength="12.2" lengthAdjust="spacingAndGlyphs" fill="#111" stroke="#111" stroke-width="0.28">GLY</text>
<text transform="translate(247.86,124.90) rotate(-90)" text-anchor="middle" font-size="6.9" textLength="12.2" lengthAdjust="spacingAndGlyphs" fill="#111" stroke="#111" stroke-width="0.28">HIS</text>
<text transform="translate(255.08,124.90) rotate(-90)" text-anchor="middle" font-size="6.9" textLength="12.2" lengthAdjust="spacingAndGlyphs" fill="#111" stroke="#111" stroke-width="0.28">ILE</text>
<text transform="translate(262.30,124.90) rotate(-90)" text-anchor="middle" font-size="6.9" textLength="12.2" lengthAdjust="spacingAndGlyphs" fill="#111" stroke="#111" stroke-width="0.28">LEU</text>
<text transform="translate(269.52,124.90) rotate(-90)" text-anchor="middle" font-size="6.9" textLength="12.2" lengthAdjust="spacingAndGlyphs" fill="#111" stroke="#111" stroke-width="0.28">LYS</text>
<text transform="translate(276.74,124.90) rotate(-90)" text-anchor="middle" font-size="6.9" textLength="12.2" lengthAdjust="spacingAndGlyphs" fill="#111" stroke="#111" stroke-width="0.28">MET</text>
<text transform="translate(283.96,124.90) rotate(-90)" text-anchor="middle" font-size="6.9" textLength="12.2" lengthAdjust="spacingAndGlyphs" fill="#111" stroke="#111" stroke-width="0.28">PHE</text>
<text transform="translate(291.18,124.90) rotate(-90)" text-anchor="middle" font-size="6.9" textLength="12.2" lengthAdjust="spacingAndGlyphs" fill="#111" stroke="#111" stroke-width="0.28">PRO</text>
<text transform="translate(298.40,124.90) rotate(-90)" text-anchor="middle" font-size="6.9" textLength="12.2" lengthAdjust="spacingAndGlyphs" fill="#111" stroke="#111" stroke-width="0.28">SER</text>
<text transform="translate(305.62,124.90) rotate(-90)" text-anchor="middle" font-size="6.9" textLength="12.2" lengthAdjust="spacingAndGlyphs" fill="#111" stroke="#111" stroke-width="0.28">THR</text>
<text transform="translate(312.84,124.90) rotate(-90)" text-anchor="middle" font-size="6.9" textLength="12.2" lengthAdjust="spacingAndGlyphs" fill="#111" stroke="#111" stroke-width="0.28">TRP</text>
<text transform="translate(320.06,124.90) rotate(-90)" text-anchor="middle" font-size="6.9" textLength="12.2" lengthAdjust="spacingAndGlyphs" fill="#111" stroke="#111" stroke-width="0.28">TYR</text>
<text transform="translate(327.28,124.90) rotate(-90)" text-anchor="middle" font-size="6.9" textLength="12.2" lengthAdjust="spacingAndGlyphs" fill="#111" stroke="#111" stroke-width="0.28">VAL</text>
<text transform="translate(166.40,55.75) rotate(-90)" text-anchor="middle" font-size="8.6" textLength="54" lengthAdjust="spacingAndGlyphs" fill="#111">Basin Fraction</text>
<text x="190.10" y="17.90" font-family="Liberation Serif, serif" font-weight="bold" font-size="10.5" fill="#c8303e">β</text>
<text x="198.80" y="17.70" font-family="Liberation Serif, serif" font-size="11" fill="#5db85b" stroke="#5db85b" stroke-width="0.2">α</text>
<text x="208.60" y="17.50" font-size="10.3" fill="#2f45a5" stroke="#2f45a5" stroke-width="0.15">PPII</text>
<text x="233.50" y="17.50" font-size="10.3" fill="#111" stroke="#111" stroke-width="0.15">basin</text>
</g>
<g>
<rect x="184.20" y="243.16" width="2.20" height="15.14" fill="#ad102d" stroke="#5a0a18" stroke-width="0.45"/>
<path d="M185.30 243.16V242.24M184.40 242.24H186.20" stroke="#222" stroke-width="0.45" fill="none"/>
<rect x="186.40" y="218.06" width="2.20" height="40.24" fill="#68aa40" stroke="#2f4a22" stroke-width="0.45"/>
<path d="M187.50 218.06V216.56M186.60 216.56H188.40" stroke="#222" stroke-width="0.45" fill="none"/>
<rect x="188.60" y="213.82" width="2.20" height="44.48" fill="#1d3a8f" stroke="#0d1a45" stroke-width="0.45"/>
<path d="M189.70 213.82V212.63M188.80 212.63H190.60" stroke="#222" stroke-width="0.45" fill="none"/>
<rect x="191.55" y="234.26" width="2.20" height="24.04" fill="#ad102d" stroke="#5a0a18" stroke-width="0.45"/>
<path d="M192.65 234.26V232.75M191.75 232.75H193.55" stroke="#222" stroke-width="0.45" fill="none"/>
<rect x="193.75" y="217.00" width="2.20" height="41.30" fill="#68aa40" stroke="#2f4a22" stroke-width="0.45"/>
<path d="M194.85 217.00V215.79M193.95 215.79H195.75" stroke="#222" stroke-width="0.45" fill="none"/>
<rect x="195.95" y="227.59" width="2.20" height="30.71" fill="#1d3a8f" stroke="#0d1a45" stroke-width="0.45"/>
<path d="M197.05 227.59V225.41M196.15 225.41H197.95" stroke="#222" stroke-width="0.45" fill="none"/>
<rect x="198.90" y="236.59" width="2.20" height="21.71" fill="#ad102d" stroke="#5a0a18" stroke-width="0.45"/>
<path d="M200.00 236.59V234.89M199.10 234.89H200.90" stroke="#222" stroke-width="0.45" fill="none"/>
<rect x="201.10" y="222.29" width="2.20" height="36.01" fill="#68aa40" stroke="#2f4a22" stroke-width="0.45"/>
<path d="M202.20 222.29V220.30M201.30 220.30H203.10" stroke="#222" stroke-width="0.45" fill="none"/>
<rect x="203.30" y="232.35" width="2.20" height="25.95" fill="#1d3a8f" stroke="#0d1a45" stroke-width="0.45"/>
<path d="M204.40 232.35V230.07M203.50 230.07H205.30" stroke="#222" stroke-width="0.45" fill="none"/>
<rect x="206.25" y="240.30" width="2.20" height="18.00" fill="#ad102d" stroke="#5a0a18" stroke-width="0.45"/>
<path d="M207.35 240.30V238.71M206.45 238.71H208.25" stroke="#222" stroke-width="0.45" fill="none"/>
<rect x="208.45" y="218.06" width="2.20" height="40.24" fill="#68aa40" stroke="#2f4a22" stroke-width="0.45"/>
<path d="M209.55 218.06V216.51M208.65 216.51H210.45" stroke="#222" stroke-width="0.45" fill="none"/>
<rect x="210.65" y="221.76" width="2.20" height="36.54" fill="#1d3a8f" stroke="#0d1a45" stroke-width="0.45"/>
<path d="M211.75 221.76V220.76M210.85 220.76H212.65" stroke="#222" stroke-width="0.45" fill="none"/>
<rect x="213.60" y="226.00" width="2.20" height="32.30" fill="#ad102d" stroke="#5a0a18" stroke-width="0.45"/>
<path d="M214.70 226.00V223.95M213.80 223.95H215.60" stroke="#222" stroke-width="0.45" fill="none"/>
<rect x="215.80" y="229.18" width="2.20" height="29.12" fill="#68aa40" stroke="#2f4a22" stroke-width="0.45"/>
<path d="M216.90 229.18V228.27M216.00 228.27H217.80" stroke="#222" stroke-width="0.45" fill="none"/>
<rect x="218.00" y="221.45" width="2.20" height="36.85" fill="#1d3a8f" stroke="#0d1a45" stroke-width="0.45"/>
<path d="M219.10 221.45V220.07M218.20 220.07H220.00" stroke="#222" stroke-width="0.45" fill="none"/>
<rect x="220.95" y="234.26" width="2.20" height="24.04" fill="#ad102d" stroke="#5a0a18" stroke-width="0.45"/>
<path d="M222.05 234.26V233.19M221.15 233.19H222.95" stroke="#222" stroke-width="0.45" fill="none"/>
<rect x="223.15" y="217.42" width="2.20" height="40.88" fill="#68aa40" stroke="#2f4a22" stroke-width="0.45"/>
<path d="M224.25 217.42V215.46M223.35 215.46H225.15" stroke="#222" stroke-width="0.45" fill="none"/>
<rect x="225.35" y="226.74" width="2.20" height="31.56" fill="#1d3a8f" stroke="#0d1a45" stroke-width="0.45"/>
<path d="M226.45 226.74V225.21M225.55 225.21H227.35" stroke="#222" stroke-width="0.45" fill="none"/>
<rect x="228.30" y="239.98" width="2.20" height="18.32" fill="#ad102d" stroke="#5a0a18" stroke-width="0.45"/>
<path d="M229.40 239.98V238.37M228.50 238.37H230.30" stroke="#222" stroke-width="0.45" fill="none"/>
<rect x="230.50" y="212.34" width="2.20" height="45.96" fill="#68aa40" stroke="#2f4a22" stroke-width="0.45"/>
<path d="M231.60 212.34V210.69M230.70 210.69H232.50" stroke="#222" stroke-width="0.45" fill="none"/>
<rect x="232.70" y="223.88" width="2.20" height="34.42" fill="#1d3a8f" stroke="#0d1a45" stroke-width="0.45"/>
<path d="M233.80 223.88V221.73M232.90 221.73H234.70" stroke="#222" stroke-width="0.45" fill="none"/>
<rect x="235.65" y="251.52" width="2.20" height="6.78" fill="#ad102d" stroke="#5a0a18" stroke-width="0.45"/>
<path d="M236.75 251.52V249.15M235.85 249.15H237.65" stroke="#222" stroke-width="0.45" fill="none"/>
<rect x="237.85" y="247.92" width="2.20" height="10.38" fill="#68aa40" stroke="#2f4a22" stroke-width="0.45"/>
<path d="M238.95 247.92V246.53M238.05 246.53H239.85" stroke="#222" stroke-width="0.45" fill="none"/>
<rect x="240.05" y="245.59" width="2.20" height="12.71" fill="#1d3a8f" stroke="#0d1a45" stroke-width="0.45"/>
<path d="M241.15 245.59V243.38M240.25 243.38H242.05" stroke="#222" stroke-width="0.45" fill="none"/>
<rect x="243.00" y="229.92" width="2.20" height="28.38" fill="#ad102d" stroke="#5a0a18" stroke-width="0.45"/>
<path d="M244.10 229.92V227.98M243.20 227.98H245.00" stroke="#222" stroke-width="0.45" fill="none"/>
<rect x="245.20" y="220.49" width="2.20" height="37.81" fill="#68aa40" stroke="#2f4a22" stroke-width="0.45"/>
<path d="M246.30 220.49V218.58M245.40 218.58H247.20" stroke="#222" stroke-width="0.45" fill="none"/>
<rect x="247.40" y="229.92" width="2.20" height="28.38" fill="#1d3a8f" stroke="#0d1a45" stroke-width="0.45"/>
<path d="M248.50 229.92V227.56M247.60 227.56H249.40" stroke="#222" stroke-width="0.45" fill="none"/>
<rect x="250.35" y="223.35" width="2.20" height="34.95" fill="#ad102d" stroke="#5a0a18" stroke-width="0.45"/>
<path d="M251.45 223.35V222.22M250.55 222.22H252.35" stroke="#222" stroke-width="0.45" fill="none"/>
<rect x="252.55" y="228.22" width="2.20" height="30.08" fill="#68aa40" stroke="#2f4a22" stroke-width="0.45"/>
<path d="M253.65 228.22V226.91M252.75 226.91H254.55" stroke="#222" stroke-width="0.45" fill="none"/>
<rect x="254.75" y="219.33" width="2.20" height="38.97" fill="#1d3a8f" stroke="#0d1a45" stroke-width="0.45"/>
<path d="M255.85 219.33V217.76M254.95 217.76H256.75" stroke="#222" stroke-width="0.45" fill="none"/>
<rect x="257.70" y="237.86" width="2.20" height="20.44" fill="#ad102d" stroke="#5a0a18" stroke-width="0.45"/>
<path d="M258.80 237.86V236.57M257.90 236.57H259.70" stroke="#222" stroke-width="0.45" fill="none"/>
<rect x="259.90" y="217.85" width="2.20" height="40.45" fill="#68aa40" stroke="#2f4a22" stroke-width="0.45"/>
<path d="M261.00 217.85V216.58M260.10 216.58H261.90" stroke="#222" stroke-width="0.45" fill="none"/>
<rect x="262.10" y="217.00" width="2.20" height="41.30" fill="#1d3a8f" stroke="#0d1a45" stroke-width="0.45"/>
<path d="M263.20 217.00V215.88M262.30 215.88H264.10" stroke="#222" stroke-width="0.45" fill="none"/>
<rect x="265.05" y="237.12" width="2.20" height="21.18" fill="#ad102d" stroke="#5a0a18" stroke-width="0.45"/>
<path d="M266.15 237.12V234.85M265.25 234.85H267.05" stroke="#222" stroke-width="0.45" fill="none"/>
<rect x="267.25" y="213.82" width="2.20" height="44.48" fill="#68aa40" stroke="#2f4a22" stroke-width="0.45"/>
<path d="M268.35 213.82V211.47M267.45 211.47H269.25" stroke="#222" stroke-width="0.45" fill="none"/>
<rect x="269.45" y="228.22" width="2.20" height="30.08" fill="#1d3a8f" stroke="#0d1a45" stroke-width="0.45"/>
<path d="M270.55 228.22V226.02M269.65 226.02H271.45" stroke="#222" stroke-width="0.45" fill="none"/>
<rect x="272.40" y="234.68" width="2.20" height="23.62" fill="#ad102d" stroke="#5a0a18" stroke-width="0.45"/>
<path d="M273.50 234.68V232.61M272.60 232.61H274.40" stroke="#222" stroke-width="0.45" fill="none"/>
<rect x="274.60" y="222.29" width="2.20" height="36.01" fill="#68aa40" stroke="#2f4a22" stroke-width="0.45"/>
<path d="M275.70 222.29V220.84M274.80 220.84H276.60" stroke="#222" stroke-width="0.45" fill="none"/>
<rect x="276.80" y="218.06" width="2.20" height="40.24" fill="#1d3a8f" stroke="#0d1a45" stroke-width="0.45"/>
<path d="M277.90 218.06V216.76M277.00 216.76H278.80" stroke="#222" stroke-width="0.45" fill="none"/>
<rect x="279.75" y="226.32" width="2.20" height="31.98" fill="#ad102d" stroke="#5a0a18" stroke-width="0.45"/>
<path d="M280.85 226.32V224.87M279.95 224.87H281.75" stroke="#222" stroke-width="0.45" fill="none"/>
<rect x="281.95" y="223.35" width="2.20" height="34.95" fill="#68aa40" stroke="#2f4a22" stroke-width="0.45"/>
<path d="M283.05 223.35V222.53M282.15 222.53H283.95" stroke="#222" stroke-width="0.45" fill="none"/>
<rect x="284.15" y="226.32" width="2.20" height="31.98" fill="#1d3a8f" stroke="#0d1a45" stroke-width="0.45"/>
<path d="M285.25 226.32V225.33M284.35 225.33H286.15" stroke="#222" stroke-width="0.45" fill="none"/>
<rect x="289.30" y="226.32" width="2.20" height="31.98" fill="#68aa40" stroke="#2f4a22" stroke-width="0.45"/>
<path d="M290.40 226.32V224.76M289.50 224.76H291.30" stroke="#222" stroke-width="0.45" fill="none"/>
<rect x="291.50" y="186.29" width="2.20" height="72.01" fill="#1d3a8f" stroke="#0d1a45" stroke-width="0.45"/>
<path d="M292.60 186.29V184.82M291.70 184.82H293.50" stroke="#222" stroke-width="0.45" fill="none"/>
<rect x="294.45" y="233.94" width="2.20" height="24.36" fill="#ad102d" stroke="#5a0a18" stroke-width="0.45"/>
<path d="M295.55 233.94V232.10M294.65 232.10H296.45" stroke="#222" stroke-width="0.45" fill="none"/>
<rect x="296.65" y="219.75" width="2.20" height="38.55" fill="#68aa40" stroke="#2f4a22" stroke-width="0.45"/>
<path d="M297.75 219.75V218.06M296.85 218.06H298.65" stroke="#222" stroke-width="0.45" fill="none"/>
<rect x="298.85" y="221.02" width="2.20" height="37.28" fill="#1d3a8f" stroke="#0d1a45" stroke-width="0.45"/>
<path d="M299.95 221.02V220.06M299.05 220.06H300.85" stroke="#222" stroke-width="0.45" fill="none"/>
<rect x="301.80" y="227.06" width="2.20" height="31.24" fill="#ad102d" stroke="#5a0a18" stroke-width="0.45"/>
<path d="M302.90 227.06V224.90M302.00 224.90H303.80" stroke="#222" stroke-width="0.45" fill="none"/>
<rect x="304.00" y="215.73" width="2.20" height="42.57" fill="#68aa40" stroke="#2f4a22" stroke-width="0.45"/>
<path d="M305.10 215.73V214.25M304.20 214.25H306.00" stroke="#222" stroke-width="0.45" fill="none"/>
<rect x="306.20" y="228.65" width="2.20" height="29.65" fill="#1d3a8f" stroke="#0d1a45" stroke-width="0.45"/>
<path d="M307.30 228.65V227.08M306.40 227.08H308.20" stroke="#222" stroke-width="0.45" fill="none"/>
<rect x="309.15" y="232.35" width="2.20" height="25.95" fill="#ad102d" stroke="#5a0a18" stroke-width="0.45"/>
<path d="M310.25 232.35V230.96M309.35 230.96H311.15" stroke="#222" stroke-width="0.45" fill="none"/>
<rect x="311.35" y="219.54" width="2.20" height="38.76" fill="#68aa40" stroke="#2f4a22" stroke-width="0.45"/>
<path d="M312.45 219.54V218.15M311.55 218.15H313.35" stroke="#222" stroke-width="0.45" fill="none"/>
<rect x="313.55" y="223.14" width="2.20" height="35.16" fill="#1d3a8f" stroke="#0d1a45" stroke-width="0.45"/>
<path d="M314.65 223.14V220.87M313.75 220.87H315.55" stroke="#222" stroke-width="0.45" fill="none"/>
<rect x="316.50" y="227.59" width="2.20" height="30.71" fill="#ad102d" stroke="#5a0a18" stroke-width="0.45"/>
<path d="M317.60 227.59V225.24M316.70 225.24H318.50" stroke="#222" stroke-width="0.45" fill="none"/>
<rect x="318.70" y="223.35" width="2.20" height="34.95" fill="#68aa40" stroke="#2f4a22" stroke-width="0.45"/>
<path d="M319.80 223.35V222.26M318.90 222.26H320.70" stroke="#222" stroke-width="0.45" fill="none"/>
<rect x="320.90" y="226.32" width="2.20" height="31.98" fill="#1d3a8f" stroke="#0d1a45" stroke-width="0.45"/>
<path d="M322.00 226.32V224.05M321.10 224.05H322.90" stroke="#222" stroke-width="0.45" fill="none"/>
<rect x="323.85" y="221.45" width="2.20" height="36.85" fill="#ad102d" stroke="#5a0a18" stroke-width="0.45"/>
<path d="M324.95 221.45V219.35M324.05 219.35H325.85" stroke="#222" stroke-width="0.45" fill="none"/>
<rect x="326.05" y="228.65" width="2.20" height="29.65" fill="#68aa40" stroke="#2f4a22" stroke-width="0.45"/>
<path d="M327.15 228.65V226.53M326.25 226.53H328.05" stroke="#222" stroke-width="0.45" fill="none"/>
<rect x="328.25" y="221.45" width="1.70" height="36.85" fill="#1d3a8f" stroke="#0d1a45" stroke-width="0.45"/>
<path d="M329.10 221.45V220.19M328.20 220.19H330.00" stroke="#222" stroke-width="0.45" fill="none"/>
<rect x="183.40" y="152.40" width="146.55" height="105.90" fill="none" stroke="#484848" stroke-width="1"/>
<path d="M183.40 258.30h-2.6M183.40 253.01h-1.4M183.40 247.71h-2.6M183.40 242.42h-1.4M183.40 237.12h-2.6M183.40 231.83h-1.4M183.40 226.53h-2.6M183.40 221.24h-1.4M183.40 215.94h-2.6M183.40 210.65h-1.4M183.40 205.35h-2.6M183.40 200.06h-1.4M183.40 194.76h-2.6M183.40 189.47h-1.4M183.40 184.17h-2.6M183.40 178.88h-1.4M183.40 173.58h-2.6M183.40 168.28h-1.4M183.40 162.99h-2.6M183.40 157.69h-1.4M183.40 152.40h-2.6M187.50 258.30v2.2M194.85 258.30v2.2M202.20 258.30v2.2M209.55 258.30v2.2M216.90 258.30v2.2M224.25 258.30v2.2M231.60 258.30v2.2M238.95 258.30v2.2M246.30 258.30v2.2M253.65 258.30v2.2M261.00 258.30v2.2M268.35 258.30v2.2M275.70 258.30v2.2M283.05 258.30v2.2M290.40 258.30v2.2M297.75 258.30v2.2M305.10 258.30v2.2M312.45 258.30v2.2M319.80 258.30v2.2M327.15 258.30v2.2" stroke="#484848" stroke-width="0.7" fill="none"/>
<text x="179.90" y="260.05" text-anchor="end" font-size="6.2" fill="#222" stroke="#222" stroke-width="0.2">0.0</text>
<text x="179.90" y="249.46" text-anchor="end" font-size="6.2" fill="#222" stroke="#222" stroke-width="0.2">0.1</text>
<text x="179.90" y="238.87" text-anchor="end" font-size="6.2" fill="#222" stroke="#222" stroke-width="0.2">0.2</text>
<text x="179.90" y="228.28" text-anchor="end" font-size="6.2" fill="#222" stroke="#222" stroke-width="0.2">0.3</text>
<text x="179.90" y="217.69" text-anchor="end" font-size="6.2" fill="#222" stroke="#222" stroke-width="0.2">0.4</text>
<text x="179.90" y="207.10" text-anchor="end" font-size="6.2" fill="#222" stroke="#222" stroke-width="0.2">0.5</text>
<text x="179.90" y="196.51" text-anchor="end" font-size="6.2" fill="#222" stroke="#222" stroke-width="0.2">0.6</text>
<text x="179.90" y="185.92" text-anchor="end" font-size="6.2" fill="#222" stroke="#222" stroke-width="0.2">0.7</text>
<text x="179.90" y="175.33" text-anchor="end" font-size="6.2" fill="#222" stroke="#222" stroke-width="0.2">0.8</text>
<text x="179.90" y="164.74" text-anchor="end" font-size="6.2" fill="#222" stroke="#222" stroke-width="0.2">0.9</text>
<text x="179.90" y="154.15" text-anchor="end" font-size="6.2" fill="#222" stroke="#222" stroke-width="0.2">1.0</text>
<text transform="translate(189.40,272.20) rotate(-90)" text-anchor="middle" font-size="6.9" textLength="12.2" lengthAdjust="spacingAndGlyphs" fill="#111" stroke="#111" stroke-width="0.28">ALA</text>
<text transform="translate(196.68,272.20) rotate(-90)" text-anchor="middle" font-size="6.9" textLength="12.2" lengthAdjust="spacingAndGlyphs" fill="#111" stroke="#111" stroke-width="0.28">ARG</text>
<text transform="translate(203.96,272.20) rotate(-90)" text-anchor="middle" font-size="6.9" textLength="12.2" lengthAdjust="spacingAndGlyphs" fill="#111" stroke="#111" stroke-width="0.28">ASN</text>
<text transform="translate(211.24,272.20) rotate(-90)" text-anchor="middle" font-size="6.9" textLength="12.2" lengthAdjust="spacingAndGlyphs" fill="#111" stroke="#111" stroke-width="0.28">ASP</text>
<text transform="translate(218.52,272.20) rotate(-90)" text-anchor="middle" font-size="6.9" textLength="12.2" lengthAdjust="spacingAndGlyphs" fill="#111" stroke="#111" stroke-width="0.28">CYS</text>
<text transform="translate(225.80,272.20) rotate(-90)" text-anchor="middle" font-size="6.9" textLength="12.2" lengthAdjust="spacingAndGlyphs" fill="#111" stroke="#111" stroke-width="0.28">GLN</text>
<text transform="translate(233.08,272.20) rotate(-90)" text-anchor="middle" font-size="6.9" textLength="12.2" lengthAdjust="spacingAndGlyphs" fill="#111" stroke="#111" stroke-width="0.28">GLU</text>
<text transform="translate(240.36,272.20) rotate(-90)" text-anchor="middle" font-size="6.9" textLength="12.2" lengthAdjust="spacingAndGlyphs" fill="#111" stroke="#111" stroke-width="0.28">GLY</text>
<text transform="translate(247.64,272.20) rotate(-90)" text-anchor="middle" font-size="6.9" textLength="12.2" lengthAdjust="spacingAndGlyphs" fill="#111" stroke="#111" stroke-width="0.28">HIS</text>
<text transform="translate(254.92,272.20) rotate(-90)" text-anchor="middle" font-size="6.9" textLength="12.2" lengthAdjust="spacingAndGlyphs" fill="#111" stroke="#111" stroke-width="0.28">ILE</text>
<text transform="translate(262.20,272.20) rotate(-90)" text-anchor="middle" font-size="6.9" textLength="12.2" lengthAdjust="spacingAndGlyphs" fill="#111" stroke="#111" stroke-width="0.28">LEU</text>
<text transform="translate(269.48,272.20) rotate(-90)" text-anchor="middle" font-size="6.9" textLength="12.2" lengthAdjust="spacingAndGlyphs" fill="#111" stroke="#111" stroke-width="0.28">LYS</text>
<text transform="translate(276.76,272.20) rotate(-90)" text-anchor="middle" font-size="6.9" textLength="12.2" lengthAdjust="spacingAndGlyphs" fill="#111" stroke="#111" stroke-width="0.28">MET</text>
<text transform="translate(284.04,272.20) rotate(-90)" text-anchor="middle" font-size="6.9" textLength="12.2" lengthAdjust="spacingAndGlyphs" fill="#111" stroke="#111" stroke-width="0.28">PHE</text>
<text transform="translate(291.32,272.20) rotate(-90)" text-anchor="middle" font-size="6.9" textLength="12.2" lengthAdjust="spacingAndGlyphs" fill="#111" stroke="#111" stroke-width="0.28">PRO</text>
<text transform="translate(298.60,272.20) rotate(-90)" text-anchor="middle" font-size="6.9" textLength="12.2" lengthAdjust="spacingAndGlyphs" fill="#111" stroke="#111" stroke-width="0.28">SER</text>
<text transform="translate(305.88,272.20) rotate(-90)" text-anchor="middle" font-size="6.9" textLength="12.2" lengthAdjust="spacingAndGlyphs" fill="#111" stroke="#111" stroke-width="0.28">THR</text>
<text transform="translate(313.16,272.20) rotate(-90)" text-anchor="middle" font-size="6.9" textLength="12.2" lengthAdjust="spacingAndGlyphs" fill="#111" stroke="#111" stroke-width="0.28">TRP</text>
<text transform="translate(320.44,272.20) rotate(-90)" text-anchor="middle" font-size="6.9" textLength="12.2" lengthAdjust="spacingAndGlyphs" fill="#111" stroke="#111" stroke-width="0.28">TYR</text>
<text transform="translate(327.72,272.20) rotate(-90)" text-anchor="middle" font-size="6.9" textLength="12.2" lengthAdjust="spacingAndGlyphs" fill="#111" stroke="#111" stroke-width="0.28">VAL</text>
<text transform="translate(166.60,202.55) rotate(-90)" text-anchor="middle" font-size="8.6" textLength="54" lengthAdjust="spacingAndGlyphs" fill="#111">Basin Fraction</text>
<text x="190.30" y="164.90" font-family="Liberation Serif, serif" font-weight="bold" font-size="10.5" fill="#c8303e">β</text>
<text x="199.00" y="164.70" font-family="Liberation Serif, serif" font-size="11" fill="#5db85b" stroke="#5db85b" stroke-width="0.2">α</text>
<text x="208.80" y="164.50" font-size="10.3" fill="#2f45a5" stroke="#2f45a5" stroke-width="0.15">PPII</text>
<text x="233.70" y="164.50" font-size="10.3" fill="#111" stroke="#111" stroke-width="0.15">basin</text>
</g>
<g>
<rect x="182.80" y="369.54" width="2.20" height="21.96" fill="#ad102d" stroke="#5a0a18" stroke-width="0.45"/>
<path d="M183.90 369.54V368.62M183.00 368.62H184.80" stroke="#222" stroke-width="0.45" fill="none"/>
<rect x="185.00" y="370.26" width="2.20" height="21.24" fill="#68aa40" stroke="#2f4a22" stroke-width="0.45"/>
<path d="M186.10 370.26V368.24M185.20 368.24H187.00" stroke="#222" stroke-width="0.45" fill="none"/>
<rect x="187.20" y="334.79" width="2.20" height="56.71" fill="#1d3a8f" stroke="#0d1a45" stroke-width="0.45"/>
<path d="M188.30 334.79V332.44M187.40 332.44H189.20" stroke="#222" stroke-width="0.45" fill="none"/>
<rect x="190.10" y="357.79" width="2.20" height="33.71" fill="#ad102d" stroke="#5a0a18" stroke-width="0.45"/>
<path d="M191.20 357.79V356.32M190.30 356.32H192.10" stroke="#222" stroke-width="0.45" fill="none"/>
<rect x="192.30" y="366.76" width="2.20" height="24.74" fill="#68aa40" stroke="#2f4a22" stroke-width="0.45"/>
<path d="M193.40 366.76V364.44M192.50 364.44H194.30" stroke="#222" stroke-width="0.45" fill="none"/>
<rect x="194.50" y="352.32" width="2.20" height="39.18" fill="#1d3a8f" stroke="#0d1a45" stroke-width="0.45"/>
<path d="M195.60 352.32V350.83M194.70 350.83H196.50" stroke="#222" stroke-width="0.45" fill="none"/>
<rect x="197.40" y="359.02" width="2.20" height="32.48" fill="#ad102d" stroke="#5a0a18" stroke-width="0.45"/>
<path d="M198.50 359.02V357.23M197.60 357.23H199.40" stroke="#222" stroke-width="0.45" fill="none"/>
<rect x="199.60" y="370.26" width="2.20" height="21.24" fill="#68aa40" stroke="#2f4a22" stroke-width="0.45"/>
<path d="M200.70 370.26V367.99M199.80 367.99H201.60" stroke="#222" stroke-width="0.45" fill="none"/>
<rect x="201.80" y="353.66" width="2.20" height="37.84" fill="#1d3a8f" stroke="#0d1a45" stroke-width="0.45"/>
<path d="M202.90 353.66V352.54M202.00 352.54H203.80" stroke="#222" stroke-width="0.45" fill="none"/>
<rect x="204.70" y="366.76" width="2.20" height="24.74" fill="#ad102d" stroke="#5a0a18" stroke-width="0.45"/>
<path d="M205.80 366.76V365.89M204.90 365.89H206.70" stroke="#222" stroke-width="0.45" fill="none"/>
<rect x="206.90" y="366.76" width="2.20" height="24.74" fill="#68aa40" stroke="#2f4a22" stroke-width="0.45"/>
<path d="M208.00 366.76V365.67M207.10 365.67H208.90" stroke="#222" stroke-width="0.45" fill="none"/>
<rect x="209.10" y="343.04" width="2.20" height="48.46" fill="#1d3a8f" stroke="#0d1a45" stroke-width="0.45"/>
<path d="M210.20 343.04V342.19M209.30 342.19H211.10" stroke="#222" stroke-width="0.45" fill="none"/>
<rect x="212.00" y="352.32" width="2.20" height="39.18" fill="#ad102d" stroke="#5a0a18" stroke-width="0.45"/>
<path d="M213.10 352.32V350.82M212.20 350.82H214.00" stroke="#222" stroke-width="0.45" fill="none"/>
<rect x="214.20" y="373.46" width="2.20" height="18.04" fill="#68aa40" stroke="#2f4a22" stroke-width="0.45"/>
<path d="M215.30 373.46V372.46M214.40 372.46H216.20" stroke="#222" stroke-width="0.45" fill="none"/>
<rect x="216.40" y="346.96" width="2.20" height="44.54" fill="#1d3a8f" stroke="#0d1a45" stroke-width="0.45"/>
<path d="M217.50 346.96V346.01M216.60 346.01H218.40" stroke="#222" stroke-width="0.45" fill="none"/>
<rect x="219.30" y="358.30" width="2.20" height="33.20" fill="#ad102d" stroke="#5a0a18" stroke-width="0.45"/>
<path d="M220.40 358.30V357.01M219.50 357.01H221.30" stroke="#222" stroke-width="0.45" fill="none"/>
<rect x="221.50" y="367.89" width="2.20" height="23.61" fill="#68aa40" stroke="#2f4a22" stroke-width="0.45"/>
<path d="M222.60 367.89V366.45M221.70 366.45H223.50" stroke="#222" stroke-width="0.45" fill="none"/>
<rect x="223.70" y="351.08" width="2.20" height="40.42" fill="#1d3a8f" stroke="#0d1a45" stroke-width="0.45"/>
<path d="M224.80 351.08V348.87M223.90 348.87H225.70" stroke="#222" stroke-width="0.45" fill="none"/>
<rect x="226.60" y="364.28" width="2.20" height="27.22" fill="#ad102d" stroke="#5a0a18" stroke-width="0.45"/>
<path d="M227.70 364.28V363.46M226.80 363.46H228.60" stroke="#222" stroke-width="0.45" fill="none"/>
<rect x="228.80" y="364.69" width="2.20" height="26.81" fill="#68aa40" stroke="#2f4a22" stroke-width="0.45"/>
<path d="M229.90 364.69V362.85M229.00 362.85H230.80" stroke="#222" stroke-width="0.45" fill="none"/>
<rect x="231.00" y="346.96" width="2.20" height="44.54" fill="#1d3a8f" stroke="#0d1a45" stroke-width="0.45"/>
<path d="M232.10 346.96V344.71M231.20 344.71H233.00" stroke="#222" stroke-width="0.45" fill="none"/>
<rect x="233.90" y="378.72" width="2.20" height="12.78" fill="#ad102d" stroke="#5a0a18" stroke-width="0.45"/>
<path d="M235.00 378.72V376.74M234.10 376.74H235.90" stroke="#222" stroke-width="0.45" fill="none"/>
<rect x="236.10" y="383.56" width="2.20" height="7.94" fill="#68aa40" stroke="#2f4a22" stroke-width="0.45"/>
<path d="M237.20 383.56V382.50M236.30 382.50H238.10" stroke="#222" stroke-width="0.45" fill="none"/>
<rect x="238.30" y="370.26" width="2.20" height="21.24" fill="#1d3a8f" stroke="#0d1a45" stroke-width="0.45"/>
<path d="M239.40 370.26V369.22M238.50 369.22H240.30" stroke="#222" stroke-width="0.45" fill="none"/>
<rect x="241.20" y="352.32" width="2.20" height="39.18" fill="#ad102d" stroke="#5a0a18" stroke-width="0.45"/>
<path d="M242.30 352.32V350.93M241.40 350.93H243.20" stroke="#222" stroke-width="0.45" fill="none"/>
<rect x="243.40" y="370.98" width="2.20" height="20.52" fill="#68aa40" stroke="#2f4a22" stroke-width="0.45"/>
<path d="M244.50 370.98V370.17M243.60 370.17H245.40" stroke="#222" stroke-width="0.45" fill="none"/>
<rect x="245.60" y="354.69" width="2.20" height="36.81" fill="#1d3a8f" stroke="#0d1a45" stroke-width="0.45"/>
<path d="M246.70 354.69V352.34M245.80 352.34H247.60" stroke="#222" stroke-width="0.45" fill="none"/>
<rect x="248.50" y="350.26" width="2.20" height="41.24" fill="#ad102d" stroke="#5a0a18" stroke-width="0.45"/>
<path d="M249.60 350.26V348.24M248.70 348.24H250.50" stroke="#222" stroke-width="0.45" fill="none"/>
<rect x="250.70" y="373.46" width="2.20" height="18.04" fill="#68aa40" stroke="#2f4a22" stroke-width="0.45"/>
<path d="M251.80 373.46V371.36M250.90 371.36H252.70" stroke="#222" stroke-width="0.45" fill="none"/>
<rect x="252.90" y="348.61" width="2.20" height="42.89" fill="#1d3a8f" stroke="#0d1a45" stroke-width="0.45"/>
<path d="M254.00 348.61V346.77M253.10 346.77H254.90" stroke="#222" stroke-width="0.45" fill="none"/>
<rect x="255.80" y="364.69" width="2.20" height="26.81" fill="#ad102d" stroke="#5a0a18" stroke-width="0.45"/>
<path d="M256.90 364.69V362.32M256.00 362.32H257.80" stroke="#222" stroke-width="0.45" fill="none"/>
<rect x="258.00" y="369.13" width="2.20" height="22.37" fill="#68aa40" stroke="#2f4a22" stroke-width="0.45"/>
<path d="M259.10 369.13V367.71M258.20 367.71H260.00" stroke="#222" stroke-width="0.45" fill="none"/>
<rect x="260.20" y="339.74" width="2.20" height="51.76" fill="#1d3a8f" stroke="#0d1a45" stroke-width="0.45"/>
<path d="M261.30 339.74V338.88M260.40 338.88H262.20" stroke="#222" stroke-width="0.45" fill="none"/>
<rect x="263.10" y="360.16" width="2.20" height="31.34" fill="#ad102d" stroke="#5a0a18" stroke-width="0.45"/>
<path d="M264.20 360.16V358.78M263.30 358.78H265.10" stroke="#222" stroke-width="0.45" fill="none"/>
<rect x="265.30" y="364.28" width="2.20" height="27.22" fill="#68aa40" stroke="#2f4a22" stroke-width="0.45"/>
<path d="M266.40 364.28V362.79M265.50 362.79H267.30" stroke="#222" stroke-width="0.45" fill="none"/>
<rect x="267.50" y="352.73" width="2.20" height="38.77" fill="#1d3a8f" stroke="#0d1a45" stroke-width="0.45"/>
<path d="M268.60 352.73V350.64M267.70 350.64H269.50" stroke="#222" stroke-width="0.45" fill="none"/>
<rect x="270.40" y="361.19" width="2.20" height="30.31" fill="#ad102d" stroke="#5a0a18" stroke-width="0.45"/>
<path d="M271.50 361.19V360.38M270.60 360.38H272.40" stroke="#222" stroke-width="0.45" fill="none"/>
<rect x="272.60" y="370.26" width="2.20" height="21.24" fill="#68aa40" stroke="#2f4a22" stroke-width="0.45"/>
<path d="M273.70 370.26V368.09M272.80 368.09H274.60" stroke="#222" stroke-width="0.45" fill="none"/>
<rect x="274.80" y="343.35" width="2.20" height="48.15" fill="#1d3a8f" stroke="#0d1a45" stroke-width="0.45"/>
<path d="M275.90 343.35V341.99M275.00 341.99H276.80" stroke="#222" stroke-width="0.45" fill="none"/>
<rect x="277.70" y="350.26" width="2.20" height="41.24" fill="#ad102d" stroke="#5a0a18" stroke-width="0.45"/>
<path d="M278.80 350.26V349.42M277.90 349.42H279.70" stroke="#222" stroke-width="0.45" fill="none"/>
<rect x="279.90" y="372.74" width="2.20" height="18.76" fill="#68aa40" stroke="#2f4a22" stroke-width="0.45"/>
<path d="M281.00 372.74V370.97M280.10 370.97H281.90" stroke="#222" stroke-width="0.45" fill="none"/>
<rect x="282.10" y="351.70" width="2.20" height="39.80" fill="#1d3a8f" stroke="#0d1a45" stroke-width="0.45"/>
<path d="M283.20 351.70V349.51M282.30 349.51H284.10" stroke="#222" stroke-width="0.45" fill="none"/>
<rect x="287.20" y="375.11" width="2.20" height="16.39" fill="#68aa40" stroke="#2f4a22" stroke-width="0.45"/>
<path d="M288.30 375.11V373.33M287.40 373.33H289.20" stroke="#222" stroke-width="0.45" fill="none"/>
<rect x="289.40" y="305.93" width="2.20" height="85.57" fill="#1d3a8f" stroke="#0d1a45" stroke-width="0.45"/>
<path d="M290.50 305.93V303.95M289.60 303.95H291.40" stroke="#222" stroke-width="0.45" fill="none"/>
<rect x="292.30" y="359.54" width="2.20" height="31.96" fill="#ad102d" stroke="#5a0a18" stroke-width="0.45"/>
<path d="M293.40 359.54V358.04M292.50 358.04H294.30" stroke="#222" stroke-width="0.45" fill="none"/>
<rect x="294.50" y="369.54" width="2.20" height="21.96" fill="#68aa40" stroke="#2f4a22" stroke-width="0.45"/>
<path d="M295.60 369.54V368.11M294.70 368.11H296.50" stroke="#222" stroke-width="0.45" fill="none"/>
<rect x="296.70" y="345.11" width="2.20" height="46.39" fill="#1d3a8f" stroke="#0d1a45" stroke-width="0.45"/>
<path d="M297.80 345.11V344.27M296.90 344.27H298.70" stroke="#222" stroke-width="0.45" fill="none"/>
<rect x="299.60" y="352.73" width="2.20" height="38.77" fill="#ad102d" stroke="#5a0a18" stroke-width="0.45"/>
<path d="M300.70 352.73V350.54M299.80 350.54H301.60" stroke="#222" stroke-width="0.45" fill="none"/>
<rect x="301.80" y="363.04" width="2.20" height="28.46" fill="#68aa40" stroke="#2f4a22" stroke-width="0.45"/>
<path d="M302.90 363.04V361.32M302.00 361.32H303.80" stroke="#222" stroke-width="0.45" fill="none"/>
<rect x="304.00" y="355.83" width="2.20" height="35.67" fill="#1d3a8f" stroke="#0d1a45" stroke-width="0.45"/>
<path d="M305.10 355.83V354.81M304.20 354.81H306.00" stroke="#222" stroke-width="0.45" fill="none"/>
<rect x="306.90" y="356.34" width="2.20" height="35.16" fill="#ad102d" stroke="#5a0a18" stroke-width="0.45"/>
<path d="M308.00 356.34V355.24M307.10 355.24H308.90" stroke="#222" stroke-width="0.45" fill="none"/>
<rect x="309.10" y="369.54" width="2.20" height="21.96" fill="#68aa40" stroke="#2f4a22" stroke-width="0.45"/>
<path d="M310.20 369.54V367.88M309.30 367.88H311.10" stroke="#222" stroke-width="0.45" fill="none"/>
<rect x="311.30" y="347.37" width="2.20" height="44.13" fill="#1d3a8f" stroke="#0d1a45" stroke-width="0.45"/>
<path d="M312.40 347.37V345.47M311.50 345.47H313.30" stroke="#222" stroke-width="0.45" fill="none"/>
<rect x="314.20" y="350.98" width="2.20" height="40.52" fill="#ad102d" stroke="#5a0a18" stroke-width="0.45"/>
<path d="M315.30 350.98V348.66M314.40 348.66H316.20" stroke="#222" stroke-width="0.45" fill="none"/>
<rect x="316.40" y="372.22" width="2.20" height="19.28" fill="#68aa40" stroke="#2f4a22" stroke-width="0.45"/>
<path d="M317.50 372.22V370.74M316.60 370.74H318.40" stroke="#222" stroke-width="0.45" fill="none"/>
<rect x="318.60" y="352.32" width="2.20" height="39.18" fill="#1d3a8f" stroke="#0d1a45" stroke-width="0.45"/>
<path d="M319.70 352.32V350.65M318.80 350.65H320.60" stroke="#222" stroke-width="0.45" fill="none"/>
<rect x="321.50" y="346.96" width="2.20" height="44.54" fill="#ad102d" stroke="#5a0a18" stroke-width="0.45"/>
<path d="M322.60 346.96V345.04M321.70 345.04H323.50" stroke="#222" stroke-width="0.45" fill="none"/>
<rect x="323.70" y="373.97" width="2.20" height="17.53" fill="#68aa40" stroke="#2f4a22" stroke-width="0.45"/>
<path d="M324.80 373.97V373.07M323.90 373.07H325.70" stroke="#222" stroke-width="0.45" fill="none"/>
<rect x="325.90" y="350.57" width="2.20" height="40.93" fill="#1d3a8f" stroke="#0d1a45" stroke-width="0.45"/>
<path d="M327.00 350.57V348.23M326.10 348.23H327.90" stroke="#222" stroke-width="0.45" fill="none"/>
<rect x="182.20" y="288.40" width="146.20" height="103.10" fill="none" stroke="#484848" stroke-width="1"/>
<path d="M182.20 391.50h-2.6M182.20 386.35h-1.4M182.20 381.19h-2.6M182.20 376.03h-1.4M182.20 370.88h-2.6M182.20 365.73h-1.4M182.20 360.57h-2.6M182.20 355.41h-1.4M182.20 350.26h-2.6M182.20 345.11h-1.4M182.20 339.95h-2.6M182.20 334.79h-1.4M182.20 329.64h-2.6M182.20 324.49h-1.4M182.20 319.33h-2.6M182.20 314.17h-1.4M182.20 309.02h-2.6M182.20 303.87h-1.4M182.20 298.71h-2.6M182.20 293.55h-1.4M182.20 288.40h-2.6M186.10 391.50v2.2M193.40 391.50v2.2M200.70 391.50v2.2M208.00 391.50v2.2M215.30 391.50v2.2M222.60 391.50v2.2M229.90 391.50v2.2M237.20 391.50v2.2M244.50 391.50v2.2M251.80 391.50v2.2M259.10 391.50v2.2M266.40 391.50v2.2M273.70 391.50v2.2M281.00 391.50v2.2M288.30 391.50v2.2M295.60 391.50v2.2M302.90 391.50v2.2M310.20 391.50v2.2M317.50 391.50v2.2M324.80 391.50v2.2" stroke="#484848" stroke-width="0.7" fill="none"/>
<text x="178.70" y="393.25" text-anchor="end" font-size="6.2" fill="#222" stroke="#222" stroke-width="0.2">0.0</text>
<text x="178.70" y="382.94" text-anchor="end" font-size="6.2" fill="#222" stroke="#222" stroke-width="0.2">0.1</text>
<text x="178.70" y="372.63" text-anchor="end" font-size="6.2" fill="#222" stroke="#222" stroke-width="0.2">0.2</text>
<text x="178.70" y="362.32" text-anchor="end" font-size="6.2" fill="#222" stroke="#222" stroke-width="0.2">0.3</text>
<text x="178.70" y="352.01" text-anchor="end" font-size="6.2" fill="#222" stroke="#222" stroke-width="0.2">0.4</text>
<text x="178.70" y="341.70" text-anchor="end" font-size="6.2" fill="#222" stroke="#222" stroke-width="0.2">0.5</text>
<text x="178.70" y="331.39" text-anchor="end" font-size="6.2" fill="#222" stroke="#222" stroke-width="0.2">0.6</text>
<text x="178.70" y="321.08" text-anchor="end" font-size="6.2" fill="#222" stroke="#222" stroke-width="0.2">0.7</text>
<text x="178.70" y="310.77" text-anchor="end" font-size="6.2" fill="#222" stroke="#222" stroke-width="0.2">0.8</text>
<text x="178.70" y="300.46" text-anchor="end" font-size="6.2" fill="#222" stroke="#222" stroke-width="0.2">0.9</text>
<text x="178.70" y="290.15" text-anchor="end" font-size="6.2" fill="#222" stroke="#222" stroke-width="0.2">1.0</text>
<text transform="translate(188.80,405.20) rotate(-90)" text-anchor="middle" font-size="6.9" textLength="12.2" lengthAdjust="spacingAndGlyphs" fill="#111" stroke="#111" stroke-width="0.28">ALA</text>
<text transform="translate(195.93,405.20) rotate(-90)" text-anchor="middle" font-size="6.9" textLength="12.2" lengthAdjust="spacingAndGlyphs" fill="#111" stroke="#111" stroke-width="0.28">ARG</text>
<text transform="translate(203.06,405.20) rotate(-90)" text-anchor="middle" font-size="6.9" textLength="12.2" lengthAdjust="spacingAndGlyphs" fill="#111" stroke="#111" stroke-width="0.28">ASN</text>
<text transform="translate(210.19,405.20) rotate(-90)" text-anchor="middle" font-size="6.9" textLength="12.2" lengthAdjust="spacingAndGlyphs" fill="#111" stroke="#111" stroke-width="0.28">ASP</text>
<text transform="translate(217.32,405.20) rotate(-90)" text-anchor="middle" font-size="6.9" textLength="12.2" lengthAdjust="spacingAndGlyphs" fill="#111" stroke="#111" stroke-width="0.28">CYS</text>
<text transform="translate(224.45,405.20) rotate(-90)" text-anchor="middle" font-size="6.9" textLength="12.2" lengthAdjust="spacingAndGlyphs" fill="#111" stroke="#111" stroke-width="0.28">GLN</text>
<text transform="translate(231.58,405.20) rotate(-90)" text-anchor="middle" font-size="6.9" textLength="12.2" lengthAdjust="spacingAndGlyphs" fill="#111" stroke="#111" stroke-width="0.28">GLU</text>
<text transform="translate(238.71,405.20) rotate(-90)" text-anchor="middle" font-size="6.9" textLength="12.2" lengthAdjust="spacingAndGlyphs" fill="#111" stroke="#111" stroke-width="0.28">GLY</text>
<text transform="translate(245.84,405.20) rotate(-90)" text-anchor="middle" font-size="6.9" textLength="12.2" lengthAdjust="spacingAndGlyphs" fill="#111" stroke="#111" stroke-width="0.28">HIS</text>
<text transform="translate(252.97,405.20) rotate(-90)" text-anchor="middle" font-size="6.9" textLength="12.2" lengthAdjust="spacingAndGlyphs" fill="#111" stroke="#111" stroke-width="0.28">ILE</text>
<text transform="translate(260.10,405.20) rotate(-90)" text-anchor="middle" font-size="6.9" textLength="12.2" lengthAdjust="spacingAndGlyphs" fill="#111" stroke="#111" stroke-width="0.28">LEU</text>
<text transform="translate(267.23,405.20) rotate(-90)" text-anchor="middle" font-size="6.9" textLength="12.2" lengthAdjust="spacingAndGlyphs" fill="#111" stroke="#111" stroke-width="0.28">LYS</text>
<text transform="translate(274.36,405.20) rotate(-90)" text-anchor="middle" font-size="6.9" textLength="12.2" lengthAdjust="spacingAndGlyphs" fill="#111" stroke="#111" stroke-width="0.28">MET</text>
<text transform="translate(281.49,405.20) rotate(-90)" text-anchor="middle" font-size="6.9" textLength="12.2" lengthAdjust="spacingAndGlyphs" fill="#111" stroke="#111" stroke-width="0.28">PHE</text>
<text transform="translate(288.62,405.20) rotate(-90)" text-anchor="middle" font-size="6.9" textLength="12.2" lengthAdjust="spacingAndGlyphs" fill="#111" stroke="#111" stroke-width="0.28">PRO</text>
<text transform="translate(295.75,405.20) rotate(-90)" text-anchor="middle" font-size="6.9" textLength="12.2" lengthAdjust="spacingAndGlyphs" fill="#111" stroke="#111" stroke-width="0.28">SER</text>
<text transform="translate(302.88,405.20) rotate(-90)" text-anchor="middle" font-size="6.9" textLength="12.2" lengthAdjust="spacingAndGlyphs" fill="#111" stroke="#111" stroke-width="0.28">THR</text>
<text transform="translate(310.01,405.20) rotate(-90)" text-anchor="middle" font-size="6.9" textLength="12.2" lengthAdjust="spacingAndGlyphs" fill="#111" stroke="#111" stroke-width="0.28">TRP</text>
<text transform="translate(317.14,405.20) rotate(-90)" text-anchor="middle" font-size="6.9" textLength="12.2" lengthAdjust="spacingAndGlyphs" fill="#111" stroke="#111" stroke-width="0.28">TYR</text>
<text transform="translate(324.27,405.20) rotate(-90)" text-anchor="middle" font-size="6.9" textLength="12.2" lengthAdjust="spacingAndGlyphs" fill="#111" stroke="#111" stroke-width="0.28">VAL</text>
<text transform="translate(165.40,337.15) rotate(-90)" text-anchor="middle" font-size="8.6" textLength="54" lengthAdjust="spacingAndGlyphs" fill="#111">Basin Fraction</text>
<text x="189.10" y="300.90" font-family="Liberation Serif, serif" font-weight="bold" font-size="10.5" fill="#c8303e">β</text>
<text x="197.80" y="300.70" font-family="Liberation Serif, serif" font-size="11" fill="#5db85b" stroke="#5db85b" stroke-width="0.2">α</text>
<text x="207.60" y="300.50" font-size="10.3" fill="#2f45a5" stroke="#2f45a5" stroke-width="0.15">PPII</text>
<text x="232.50" y="300.50" font-size="10.3" fill="#111" stroke="#111" stroke-width="0.15">basin</text>
</g>
<g>
<rect x="184.80" y="500.16" width="2.20" height="24.74" fill="#ad102d" stroke="#5a0a18" stroke-width="0.45"/>
<path d="M185.90 500.16V498.17M185.00 498.17H186.80" stroke="#222" stroke-width="0.45" fill="none"/>
<rect x="187.00" y="500.16" width="2.20" height="24.74" fill="#68aa40" stroke="#2f4a22" stroke-width="0.45"/>
<path d="M188.10 500.16V497.85M187.20 497.85H189.00" stroke="#222" stroke-width="0.45" fill="none"/>
<rect x="189.20" y="475.41" width="2.20" height="49.49" fill="#1d3a8f" stroke="#0d1a45" stroke-width="0.45"/>
<path d="M190.30 475.41V473.42M189.40 473.42H191.20" stroke="#222" stroke-width="0.45" fill="none"/>
<rect x="192.07" y="487.78" width="2.20" height="37.12" fill="#ad102d" stroke="#5a0a18" stroke-width="0.45"/>
<path d="M193.17 487.78V485.53M192.27 485.53H194.07" stroke="#222" stroke-width="0.45" fill="none"/>
<rect x="194.27" y="495.83" width="2.20" height="29.07" fill="#68aa40" stroke="#2f4a22" stroke-width="0.45"/>
<path d="M195.37 495.83V494.85M194.47 494.85H196.27" stroke="#222" stroke-width="0.45" fill="none"/>
<rect x="196.47" y="491.70" width="2.20" height="33.20" fill="#1d3a8f" stroke="#0d1a45" stroke-width="0.45"/>
<path d="M197.57 491.70V489.97M196.67 489.97H198.47" stroke="#222" stroke-width="0.45" fill="none"/>
<rect x="199.34" y="496.24" width="2.20" height="28.66" fill="#ad102d" stroke="#5a0a18" stroke-width="0.45"/>
<path d="M200.44 496.24V494.75M199.54 494.75H201.34" stroke="#222" stroke-width="0.45" fill="none"/>
<rect x="201.54" y="495.00" width="2.20" height="29.90" fill="#68aa40" stroke="#2f4a22" stroke-width="0.45"/>
<path d="M202.64 495.00V493.78M201.74 493.78H203.54" stroke="#222" stroke-width="0.45" fill="none"/>
<rect x="203.74" y="493.35" width="2.20" height="31.55" fill="#1d3a8f" stroke="#0d1a45" stroke-width="0.45"/>
<path d="M204.84 493.35V491.17M203.94 491.17H205.74" stroke="#222" stroke-width="0.45" fill="none"/>
<rect x="206.61" y="502.94" width="2.20" height="21.96" fill="#ad102d" stroke="#5a0a18" stroke-width="0.45"/>
<path d="M207.71 502.94V501.61M206.81 501.61H208.61" stroke="#222" stroke-width="0.45" fill="none"/>
<rect x="208.81" y="486.75" width="2.20" height="38.15" fill="#68aa40" stroke="#2f4a22" stroke-width="0.45"/>
<path d="M209.91 486.75V484.40M209.01 484.40H210.81" stroke="#222" stroke-width="0.45" fill="none"/>
<rect x="211.01" y="489.85" width="2.20" height="35.05" fill="#1d3a8f" stroke="#0d1a45" stroke-width="0.45"/>
<path d="M212.11 489.85V488.47M211.21 488.47H213.01" stroke="#222" stroke-width="0.45" fill="none"/>
<rect x="213.88" y="486.24" width="2.20" height="38.66" fill="#ad102d" stroke="#5a0a18" stroke-width="0.45"/>
<path d="M214.98 486.24V484.55M214.08 484.55H215.88" stroke="#222" stroke-width="0.45" fill="none"/>
<rect x="216.08" y="504.28" width="2.20" height="20.62" fill="#68aa40" stroke="#2f4a22" stroke-width="0.45"/>
<path d="M217.18 504.28V502.24M216.28 502.24H218.08" stroke="#222" stroke-width="0.45" fill="none"/>
<rect x="218.28" y="485.52" width="2.20" height="39.38" fill="#1d3a8f" stroke="#0d1a45" stroke-width="0.45"/>
<path d="M219.38 485.52V483.47M218.48 483.47H220.28" stroke="#222" stroke-width="0.45" fill="none"/>
<rect x="221.15" y="490.57" width="2.20" height="34.33" fill="#ad102d" stroke="#5a0a18" stroke-width="0.45"/>
<path d="M222.25 490.57V489.70M221.35 489.70H223.15" stroke="#222" stroke-width="0.45" fill="none"/>
<rect x="223.35" y="495.83" width="2.20" height="29.07" fill="#68aa40" stroke="#2f4a22" stroke-width="0.45"/>
<path d="M224.45 495.83V493.85M223.55 493.85H225.35" stroke="#222" stroke-width="0.45" fill="none"/>
<rect x="225.55" y="489.33" width="2.20" height="35.57" fill="#1d3a8f" stroke="#0d1a45" stroke-width="0.45"/>
<path d="M226.65 489.33V488.36M225.75 488.36H227.55" stroke="#222" stroke-width="0.45" fill="none"/>
<rect x="228.42" y="498.61" width="2.20" height="26.29" fill="#ad102d" stroke="#5a0a18" stroke-width="0.45"/>
<path d="M229.52 498.61V497.26M228.62 497.26H230.42" stroke="#222" stroke-width="0.45" fill="none"/>
<rect x="230.62" y="492.22" width="2.20" height="32.68" fill="#68aa40" stroke="#2f4a22" stroke-width="0.45"/>
<path d="M231.72 492.22V491.27M230.82 491.27H232.62" stroke="#222" stroke-width="0.45" fill="none"/>
<rect x="232.82" y="485.00" width="2.20" height="39.90" fill="#1d3a8f" stroke="#0d1a45" stroke-width="0.45"/>
<path d="M233.92 485.00V483.23M233.02 483.23H234.82" stroke="#222" stroke-width="0.45" fill="none"/>
<rect x="235.69" y="510.78" width="2.20" height="14.12" fill="#ad102d" stroke="#5a0a18" stroke-width="0.45"/>
<path d="M236.79 510.78V509.66M235.89 509.66H237.69" stroke="#222" stroke-width="0.45" fill="none"/>
<rect x="237.89" y="515.31" width="2.20" height="9.59" fill="#68aa40" stroke="#2f4a22" stroke-width="0.45"/>
<path d="M238.99 515.31V514.20M238.09 514.20H239.89" stroke="#222" stroke-width="0.45" fill="none"/>
<rect x="240.09" y="503.46" width="2.20" height="21.44" fill="#1d3a8f" stroke="#0d1a45" stroke-width="0.45"/>
<path d="M241.19 503.46V501.81M240.29 501.81H242.09" stroke="#222" stroke-width="0.45" fill="none"/>
<rect x="242.96" y="482.63" width="2.20" height="42.27" fill="#ad102d" stroke="#5a0a18" stroke-width="0.45"/>
<path d="M244.06 482.63V481.15M243.16 481.15H244.96" stroke="#222" stroke-width="0.45" fill="none"/>
<rect x="245.16" y="500.57" width="2.20" height="24.33" fill="#68aa40" stroke="#2f4a22" stroke-width="0.45"/>
<path d="M246.26 500.57V498.91M245.36 498.91H247.16" stroke="#222" stroke-width="0.45" fill="none"/>
<rect x="247.36" y="497.06" width="2.20" height="27.84" fill="#1d3a8f" stroke="#0d1a45" stroke-width="0.45"/>
<path d="M248.46 497.06V495.42M247.56 495.42H249.36" stroke="#222" stroke-width="0.45" fill="none"/>
<rect x="250.23" y="480.77" width="2.20" height="44.13" fill="#ad102d" stroke="#5a0a18" stroke-width="0.45"/>
<path d="M251.33 480.77V478.85M250.43 478.85H252.23" stroke="#222" stroke-width="0.45" fill="none"/>
<rect x="252.43" y="506.55" width="2.20" height="18.35" fill="#68aa40" stroke="#2f4a22" stroke-width="0.45"/>
<path d="M253.53 506.55V504.31M252.63 504.31H254.43" stroke="#222" stroke-width="0.45" fill="none"/>
<rect x="254.63" y="485.00" width="2.20" height="39.90" fill="#1d3a8f" stroke="#0d1a45" stroke-width="0.45"/>
<path d="M255.73 485.00V482.65M254.83 482.65H256.63" stroke="#222" stroke-width="0.45" fill="none"/>
<rect x="257.50" y="497.06" width="2.20" height="27.84" fill="#ad102d" stroke="#5a0a18" stroke-width="0.45"/>
<path d="M258.60 497.06V495.32M257.70 495.32H259.50" stroke="#222" stroke-width="0.45" fill="none"/>
<rect x="259.70" y="500.57" width="2.20" height="24.33" fill="#68aa40" stroke="#2f4a22" stroke-width="0.45"/>
<path d="M260.80 500.57V498.77M259.90 498.77H261.70" stroke="#222" stroke-width="0.45" fill="none"/>
<rect x="261.90" y="475.93" width="2.20" height="48.97" fill="#1d3a8f" stroke="#0d1a45" stroke-width="0.45"/>
<path d="M263.00 475.93V474.18M262.10 474.18H263.90" stroke="#222" stroke-width="0.45" fill="none"/>
<rect x="264.77" y="495.83" width="2.20" height="29.07" fill="#ad102d" stroke="#5a0a18" stroke-width="0.45"/>
<path d="M265.87 495.83V494.47M264.97 494.47H266.77" stroke="#222" stroke-width="0.45" fill="none"/>
<rect x="266.97" y="492.22" width="2.20" height="32.68" fill="#68aa40" stroke="#2f4a22" stroke-width="0.45"/>
<path d="M268.07 492.22V490.16M267.17 490.16H268.97" stroke="#222" stroke-width="0.45" fill="none"/>
<rect x="269.17" y="488.61" width="2.20" height="36.29" fill="#1d3a8f" stroke="#0d1a45" stroke-width="0.45"/>
<path d="M270.27 488.61V487.61M269.37 487.61H271.17" stroke="#222" stroke-width="0.45" fill="none"/>
<rect x="272.04" y="486.96" width="2.20" height="37.94" fill="#ad102d" stroke="#5a0a18" stroke-width="0.45"/>
<path d="M273.14 486.96V484.66M272.24 484.66H274.04" stroke="#222" stroke-width="0.45" fill="none"/>
<rect x="274.24" y="501.70" width="2.20" height="23.20" fill="#68aa40" stroke="#2f4a22" stroke-width="0.45"/>
<path d="M275.34 501.70V500.14M274.44 500.14H276.24" stroke="#222" stroke-width="0.45" fill="none"/>
<rect x="276.44" y="485.00" width="2.20" height="39.90" fill="#1d3a8f" stroke="#0d1a45" stroke-width="0.45"/>
<path d="M277.54 485.00V483.00M276.64 483.00H278.44" stroke="#222" stroke-width="0.45" fill="none"/>
<rect x="279.31" y="483.87" width="2.20" height="41.03" fill="#ad102d" stroke="#5a0a18" stroke-width="0.45"/>
<path d="M280.41 483.87V481.96M279.51 481.96H281.31" stroke="#222" stroke-width="0.45" fill="none"/>
<rect x="281.51" y="502.94" width="2.20" height="21.96" fill="#68aa40" stroke="#2f4a22" stroke-width="0.45"/>
<path d="M282.61 502.94V502.01M281.71 502.01H283.51" stroke="#222" stroke-width="0.45" fill="none"/>
<rect x="283.71" y="487.47" width="2.20" height="37.43" fill="#1d3a8f" stroke="#0d1a45" stroke-width="0.45"/>
<path d="M284.81 487.47V486.00M283.91 486.00H285.71" stroke="#222" stroke-width="0.45" fill="none"/>
<rect x="288.78" y="505.31" width="2.20" height="19.59" fill="#68aa40" stroke="#2f4a22" stroke-width="0.45"/>
<path d="M289.88 505.31V503.90M288.98 503.90H290.78" stroke="#222" stroke-width="0.45" fill="none"/>
<rect x="290.98" y="441.39" width="2.20" height="83.51" fill="#1d3a8f" stroke="#0d1a45" stroke-width="0.45"/>
<path d="M292.08 441.39V440.39M291.18 440.39H292.98" stroke="#222" stroke-width="0.45" fill="none"/>
<rect x="293.85" y="488.61" width="2.20" height="36.29" fill="#ad102d" stroke="#5a0a18" stroke-width="0.45"/>
<path d="M294.95 488.61V486.62M294.05 486.62H295.85" stroke="#222" stroke-width="0.45" fill="none"/>
<rect x="296.05" y="493.35" width="2.20" height="31.55" fill="#68aa40" stroke="#2f4a22" stroke-width="0.45"/>
<path d="M297.15 493.35V491.88M296.25 491.88H298.05" stroke="#222" stroke-width="0.45" fill="none"/>
<rect x="298.25" y="491.70" width="2.20" height="33.20" fill="#1d3a8f" stroke="#0d1a45" stroke-width="0.45"/>
<path d="M299.35 491.70V489.84M298.45 489.84H300.25" stroke="#222" stroke-width="0.45" fill="none"/>
<rect x="301.12" y="485.52" width="2.20" height="39.38" fill="#ad102d" stroke="#5a0a18" stroke-width="0.45"/>
<path d="M302.22 485.52V484.65M301.32 484.65H303.12" stroke="#222" stroke-width="0.45" fill="none"/>
<rect x="303.32" y="487.47" width="2.20" height="37.43" fill="#68aa40" stroke="#2f4a22" stroke-width="0.45"/>
<path d="M304.42 487.47V485.17M303.52 485.17H305.32" stroke="#222" stroke-width="0.45" fill="none"/>
<rect x="305.52" y="499.33" width="2.20" height="25.57" fill="#1d3a8f" stroke="#0d1a45" stroke-width="0.45"/>
<path d="M306.62 499.33V497.87M305.72 497.87H307.52" stroke="#222" stroke-width="0.45" fill="none"/>
<rect x="308.39" y="487.89" width="2.20" height="37.01" fill="#ad102d" stroke="#5a0a18" stroke-width="0.45"/>
<path d="M309.49 487.89V485.75M308.59 485.75H310.39" stroke="#222" stroke-width="0.45" fill="none"/>
<rect x="310.59" y="497.48" width="2.20" height="27.42" fill="#68aa40" stroke="#2f4a22" stroke-width="0.45"/>
<path d="M311.69 497.48V495.45M310.79 495.45H312.59" stroke="#222" stroke-width="0.45" fill="none"/>
<rect x="312.79" y="489.12" width="2.20" height="35.78" fill="#1d3a8f" stroke="#0d1a45" stroke-width="0.45"/>
<path d="M313.89 489.12V488.18M312.99 488.18H314.79" stroke="#222" stroke-width="0.45" fill="none"/>
<rect x="315.66" y="486.75" width="2.20" height="38.15" fill="#ad102d" stroke="#5a0a18" stroke-width="0.45"/>
<path d="M316.76 486.75V484.75M315.86 484.75H317.66" stroke="#222" stroke-width="0.45" fill="none"/>
<rect x="317.86" y="502.22" width="2.20" height="22.68" fill="#68aa40" stroke="#2f4a22" stroke-width="0.45"/>
<path d="M318.96 502.22V500.28M318.06 500.28H319.86" stroke="#222" stroke-width="0.45" fill="none"/>
<rect x="320.06" y="486.24" width="2.20" height="38.66" fill="#1d3a8f" stroke="#0d1a45" stroke-width="0.45"/>
<path d="M321.16 486.24V484.15M320.26 484.15H322.06" stroke="#222" stroke-width="0.45" fill="none"/>
<rect x="322.93" y="475.93" width="2.20" height="48.97" fill="#ad102d" stroke="#5a0a18" stroke-width="0.45"/>
<path d="M324.03 475.93V473.88M323.13 473.88H324.93" stroke="#222" stroke-width="0.45" fill="none"/>
<rect x="325.13" y="506.03" width="2.20" height="18.87" fill="#68aa40" stroke="#2f4a22" stroke-width="0.45"/>
<path d="M326.23 506.03V504.82M325.33 504.82H327.13" stroke="#222" stroke-width="0.45" fill="none"/>
<rect x="327.33" y="489.85" width="2.17" height="35.05" fill="#1d3a8f" stroke="#0d1a45" stroke-width="0.45"/>
<path d="M328.41 489.85V488.10M327.51 488.10H329.31" stroke="#222" stroke-width="0.45" fill="none"/>
<rect x="184.40" y="421.80" width="145.10" height="103.10" fill="none" stroke="#484848" stroke-width="1"/>
<path d="M184.40 524.90h-2.6M184.40 519.75h-1.4M184.40 514.59h-2.6M184.40 509.44h-1.4M184.40 504.28h-2.6M184.40 499.12h-1.4M184.40 493.97h-2.6M184.40 488.81h-1.4M184.40 483.66h-2.6M184.40 478.50h-1.4M184.40 473.35h-2.6M184.40 468.19h-1.4M184.40 463.04h-2.6M184.40 457.88h-1.4M184.40 452.73h-2.6M184.40 447.57h-1.4M184.40 442.42h-2.6M184.40 437.26h-1.4M184.40 432.11h-2.6M184.40 426.96h-1.4M184.40 421.80h-2.6M188.10 524.90v2.2M195.37 524.90v2.2M202.64 524.90v2.2M209.91 524.90v2.2M217.18 524.90v2.2M224.45 524.90v2.2M231.72 524.90v2.2M238.99 524.90v2.2M246.26 524.90v2.2M253.53 524.90v2.2M260.80 524.90v2.2M268.07 524.90v2.2M275.34 524.90v2.2M282.61 524.90v2.2M289.88 524.90v2.2M297.15 524.90v2.2M304.42 524.90v2.2M311.69 524.90v2.2M318.96 524.90v2.2M326.23 524.90v2.2" stroke="#484848" stroke-width="0.7" fill="none"/>
<text x="180.90" y="526.65" text-anchor="end" font-size="6.2" fill="#222" stroke="#222" stroke-width="0.2">0.0</text>
<text x="180.90" y="516.34" text-anchor="end" font-size="6.2" fill="#222" stroke="#222" stroke-width="0.2">0.1</text>
<text x="180.90" y="506.03" text-anchor="end" font-size="6.2" fill="#222" stroke="#222" stroke-width="0.2">0.2</text>
<text x="180.90" y="495.72" text-anchor="end" font-size="6.2" fill="#222" stroke="#222" stroke-width="0.2">0.3</text>
<text x="180.90" y="485.41" text-anchor="end" font-size="6.2" fill="#222" stroke="#222" stroke-width="0.2">0.4</text>
<text x="180.90" y="475.10" text-anchor="end" font-size="6.2" fill="#222" stroke="#222" stroke-width="0.2">0.5</text>
<text x="180.90" y="464.79" text-anchor="end" font-size="6.2" fill="#222" stroke="#222" stroke-width="0.2">0.6</text>
<text x="180.90" y="454.48" text-anchor="end" font-size="6.2" fill="#222" stroke="#222" stroke-width="0.2">0.7</text>
<text x="180.90" y="444.17" text-anchor="end" font-size="6.2" fill="#222" stroke="#222" stroke-width="0.2">0.8</text>
<text x="180.90" y="433.86" text-anchor="end" font-size="6.2" fill="#222" stroke="#222" stroke-width="0.2">0.9</text>
<text x="180.90" y="423.55" text-anchor="end" font-size="6.2" fill="#222" stroke="#222" stroke-width="0.2">1.0</text>
<text transform="translate(190.70,538.60) rotate(-90)" text-anchor="middle" font-size="6.9" textLength="12.2" lengthAdjust="spacingAndGlyphs" fill="#111" stroke="#111" stroke-width="0.28">ALA</text>
<text transform="translate(197.90,538.60) rotate(-90)" text-anchor="middle" font-size="6.9" textLength="12.2" lengthAdjust="spacingAndGlyphs" fill="#111" stroke="#111" stroke-width="0.28">ARG</text>
<text transform="translate(205.10,538.60) rotate(-90)" text-anchor="middle" font-size="6.9" textLength="12.2" lengthAdjust="spacingAndGlyphs" fill="#111" stroke="#111" stroke-width="0.28">ASN</text>
<text transform="translate(212.30,538.60) rotate(-90)" text-anchor="middle" font-size="6.9" textLength="12.2" lengthAdjust="spacingAndGlyphs" fill="#111" stroke="#111" stroke-width="0.28">ASP</text>
<text transform="translate(219.50,538.60) rotate(-90)" text-anchor="middle" font-size="6.9" textLength="12.2" lengthAdjust="spacingAndGlyphs" fill="#111" stroke="#111" stroke-width="0.28">CYS</text>
<text transform="translate(226.70,538.60) rotate(-90)" text-anchor="middle" font-size="6.9" textLength="12.2" lengthAdjust="spacingAndGlyphs" fill="#111" stroke="#111" stroke-width="0.28">GLN</text>
<text transform="translate(233.90,538.60) rotate(-90)" text-anchor="middle" font-size="6.9" textLength="12.2" lengthAdjust="spacingAndGlyphs" fill="#111" stroke="#111" stroke-width="0.28">GLU</text>
<text transform="translate(241.10,538.60) rotate(-90)" text-anchor="middle" font-size="6.9" textLength="12.2" lengthAdjust="spacingAndGlyphs" fill="#111" stroke="#111" stroke-width="0.28">GLY</text>
<text transform="translate(248.30,538.60) rotate(-90)" text-anchor="middle" font-size="6.9" textLength="12.2" lengthAdjust="spacingAndGlyphs" fill="#111" stroke="#111" stroke-width="0.28">HIS</text>
<text transform="translate(255.50,538.60) rotate(-90)" text-anchor="middle" font-size="6.9" textLength="12.2" lengthAdjust="spacingAndGlyphs" fill="#111" stroke="#111" stroke-width="0.28">ILE</text>
<text transform="translate(262.70,538.60) rotate(-90)" text-anchor="middle" font-size="6.9" textLength="12.2" lengthAdjust="spacingAndGlyphs" fill="#111" stroke="#111" stroke-width="0.28">LEU</text>
<text transform="translate(269.90,538.60) rotate(-90)" text-anchor="middle" font-size="6.9" textLength="12.2" lengthAdjust="spacingAndGlyphs" fill="#111" stroke="#111" stroke-width="0.28">LYS</text>
<text transform="translate(277.10,538.60) rotate(-90)" text-anchor="middle" font-size="6.9" textLength="12.2" lengthAdjust="spacingAndGlyphs" fill="#111" stroke="#111" stroke-width="0.28">MET</text>
<text transform="translate(284.30,538.60) rotate(-90)" text-anchor="middle" font-size="6.9" textLength="12.2" lengthAdjust="spacingAndGlyphs" fill="#111" stroke="#111" stroke-width="0.28">PHE</text>
<text transform="translate(291.50,538.60) rotate(-90)" text-anchor="middle" font-size="6.9" textLength="12.2" lengthAdjust="spacingAndGlyphs" fill="#111" stroke="#111" stroke-width="0.28">PRO</text>
<text transform="translate(298.70,538.60) rotate(-90)" text-anchor="middle" font-size="6.9" textLength="12.2" lengthAdjust="spacingAndGlyphs" fill="#111" stroke="#111" stroke-width="0.28">SER</text>
<text transform="translate(305.90,538.60) rotate(-90)" text-anchor="middle" font-size="6.9" textLength="12.2" lengthAdjust="spacingAndGlyphs" fill="#111" stroke="#111" stroke-width="0.28">THR</text>
<text transform="translate(313.10,538.60) rotate(-90)" text-anchor="middle" font-size="6.9" textLength="12.2" lengthAdjust="spacingAndGlyphs" fill="#111" stroke="#111" stroke-width="0.28">TRP</text>
<text transform="translate(320.30,538.60) rotate(-90)" text-anchor="middle" font-size="6.9" textLength="12.2" lengthAdjust="spacingAndGlyphs" fill="#111" stroke="#111" stroke-width="0.28">TYR</text>
<text transform="translate(327.50,538.60) rotate(-90)" text-anchor="middle" font-size="6.9" textLength="12.2" lengthAdjust="spacingAndGlyphs" fill="#111" stroke="#111" stroke-width="0.28">VAL</text>
<text transform="translate(167.60,470.55) rotate(-90)" text-anchor="middle" font-size="8.6" textLength="54" lengthAdjust="spacingAndGlyphs" fill="#111">Basin Fraction</text>
<text x="191.30" y="434.30" font-family="Liberation Serif, serif" font-weight="bold" font-size="10.5" fill="#c8303e">β</text>
<text x="200.00" y="434.10" font-family="Liberation Serif, serif" font-size="11" fill="#5db85b" stroke="#5db85b" stroke-width="0.2">α</text>
<text x="209.80" y="433.90" font-size="10.3" fill="#2f45a5" stroke="#2f45a5" stroke-width="0.15">PPII</text>
<text x="234.70" y="433.90" font-size="10.3" fill="#111" stroke="#111" stroke-width="0.15">basin</text>
</g>
</g>
</svg>
</body></html>
